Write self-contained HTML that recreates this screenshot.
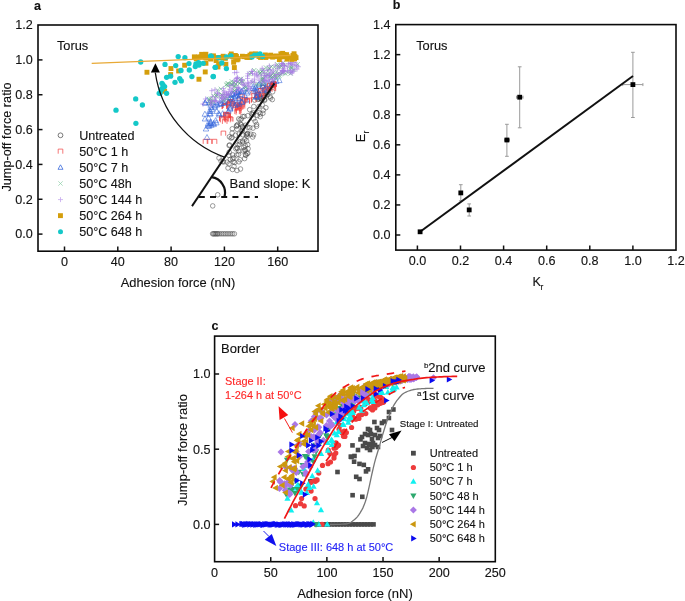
<!DOCTYPE html><html><head><meta charset="utf-8"><style>html,body{margin:0;padding:0;background:#fff;}svg{display:block;will-change:transform;}text{font-family:"Liberation Sans", sans-serif;stroke:currentColor;stroke-width:0.12px;}</style></head><body>
<svg width="685" height="601" viewBox="0 0 685 601" font-family='"Liberation Sans", sans-serif'>
<rect width="685" height="601" fill="#fff"/>
<rect x="38" y="25" width="280" height="226.2" fill="none" stroke="#0a0a0a" stroke-width="1.6"/>
<line x1="38.00" y1="234.10" x2="42.50" y2="234.10" stroke="#111" stroke-width="1.5" />
<text x="32.8" y="238.4" font-size="12.6" text-anchor="end" fill="#111" color="#111" font-weight="normal" >0.0</text>
<line x1="38.00" y1="199.26" x2="42.50" y2="199.26" stroke="#111" stroke-width="1.5" />
<text x="32.8" y="203.6" font-size="12.6" text-anchor="end" fill="#111" color="#111" font-weight="normal" >0.2</text>
<line x1="38.00" y1="164.42" x2="42.50" y2="164.42" stroke="#111" stroke-width="1.5" />
<text x="32.8" y="168.7" font-size="12.6" text-anchor="end" fill="#111" color="#111" font-weight="normal" >0.4</text>
<line x1="38.00" y1="129.58" x2="42.50" y2="129.58" stroke="#111" stroke-width="1.5" />
<text x="32.8" y="133.9" font-size="12.6" text-anchor="end" fill="#111" color="#111" font-weight="normal" >0.6</text>
<line x1="38.00" y1="94.74" x2="42.50" y2="94.74" stroke="#111" stroke-width="1.5" />
<text x="32.8" y="99.0" font-size="12.6" text-anchor="end" fill="#111" color="#111" font-weight="normal" >0.8</text>
<line x1="38.00" y1="59.90" x2="42.50" y2="59.90" stroke="#111" stroke-width="1.5" />
<text x="32.8" y="64.2" font-size="12.6" text-anchor="end" fill="#111" color="#111" font-weight="normal" >1.0</text>
<text x="32.8" y="29.4" font-size="12.6" text-anchor="end" fill="#111" color="#111" font-weight="normal" >1.2</text>
<line x1="64.50" y1="251.00" x2="64.50" y2="246.50" stroke="#111" stroke-width="1.5" />
<text x="64.5" y="266.3" font-size="12.6" text-anchor="middle" fill="#111" color="#111" font-weight="normal" >0</text>
<line x1="117.80" y1="251.00" x2="117.80" y2="246.50" stroke="#111" stroke-width="1.5" />
<text x="117.8" y="266.3" font-size="12.6" text-anchor="middle" fill="#111" color="#111" font-weight="normal" >40</text>
<line x1="171.10" y1="251.00" x2="171.10" y2="246.50" stroke="#111" stroke-width="1.5" />
<text x="171.1" y="266.3" font-size="12.6" text-anchor="middle" fill="#111" color="#111" font-weight="normal" >80</text>
<line x1="224.40" y1="251.00" x2="224.40" y2="246.50" stroke="#111" stroke-width="1.5" />
<text x="224.4" y="266.3" font-size="12.6" text-anchor="middle" fill="#111" color="#111" font-weight="normal" >120</text>
<line x1="277.70" y1="251.00" x2="277.70" y2="246.50" stroke="#111" stroke-width="1.5" />
<text x="277.7" y="266.3" font-size="12.6" text-anchor="middle" fill="#111" color="#111" font-weight="normal" >160</text>
<text x="178.0" y="286.8" font-size="12.9" text-anchor="middle" fill="#111" color="#111" font-weight="normal" >Adhesion force (nN)</text>
<text transform="translate(10.9,137) rotate(-90)" font-size="12.7" text-anchor="middle" fill="#111" color="#111">Jump-off force ratio</text>
<text x="37.5" y="9.5" font-size="12.5" text-anchor="middle" fill="#111" color="#111" font-weight="bold" >a</text>
<text x="56.9" y="49.6" font-size="12.8" text-anchor="start" fill="#111" color="#111" font-weight="normal" >Torus</text>
<g>
<circle cx="264.7" cy="100.3" r="2.3" fill="none" stroke="#4a4a4a" stroke-width="0.55"/>
<circle cx="238.5" cy="154.4" r="2.3" fill="none" stroke="#4a4a4a" stroke-width="0.55"/>
<circle cx="249.8" cy="127.7" r="2.3" fill="none" stroke="#4a4a4a" stroke-width="0.55"/>
<circle cx="256.6" cy="124.4" r="2.3" fill="none" stroke="#4a4a4a" stroke-width="0.55"/>
<circle cx="260.1" cy="98.3" r="2.3" fill="none" stroke="#4a4a4a" stroke-width="0.55"/>
<circle cx="267.7" cy="94.4" r="2.3" fill="none" stroke="#4a4a4a" stroke-width="0.55"/>
<circle cx="236.7" cy="155.0" r="2.3" fill="none" stroke="#4a4a4a" stroke-width="0.55"/>
<circle cx="241.9" cy="131.4" r="2.3" fill="none" stroke="#4a4a4a" stroke-width="0.55"/>
<circle cx="258.9" cy="106.6" r="2.3" fill="none" stroke="#4a4a4a" stroke-width="0.55"/>
<circle cx="229.2" cy="152.1" r="2.3" fill="none" stroke="#4a4a4a" stroke-width="0.55"/>
<circle cx="232.6" cy="159.0" r="2.3" fill="none" stroke="#4a4a4a" stroke-width="0.55"/>
<circle cx="253.3" cy="112.9" r="2.3" fill="none" stroke="#4a4a4a" stroke-width="0.55"/>
<circle cx="247.7" cy="127.2" r="2.3" fill="none" stroke="#4a4a4a" stroke-width="0.55"/>
<circle cx="239.7" cy="144.2" r="2.3" fill="none" stroke="#4a4a4a" stroke-width="0.55"/>
<circle cx="245.6" cy="125.2" r="2.3" fill="none" stroke="#4a4a4a" stroke-width="0.55"/>
<circle cx="241.5" cy="124.8" r="2.3" fill="none" stroke="#4a4a4a" stroke-width="0.55"/>
<circle cx="230.3" cy="159.4" r="2.3" fill="none" stroke="#4a4a4a" stroke-width="0.55"/>
<circle cx="266.6" cy="92.9" r="2.3" fill="none" stroke="#4a4a4a" stroke-width="0.55"/>
<circle cx="245.0" cy="149.6" r="2.3" fill="none" stroke="#4a4a4a" stroke-width="0.55"/>
<circle cx="261.9" cy="100.4" r="2.3" fill="none" stroke="#4a4a4a" stroke-width="0.55"/>
<circle cx="245.5" cy="154.8" r="2.3" fill="none" stroke="#4a4a4a" stroke-width="0.55"/>
<circle cx="244.6" cy="158.6" r="2.3" fill="none" stroke="#4a4a4a" stroke-width="0.55"/>
<circle cx="235.8" cy="148.8" r="2.3" fill="none" stroke="#4a4a4a" stroke-width="0.55"/>
<circle cx="233.7" cy="157.9" r="2.3" fill="none" stroke="#4a4a4a" stroke-width="0.55"/>
<circle cx="268.2" cy="90.9" r="2.3" fill="none" stroke="#4a4a4a" stroke-width="0.55"/>
<circle cx="255.2" cy="121.5" r="2.3" fill="none" stroke="#4a4a4a" stroke-width="0.55"/>
<circle cx="238.9" cy="161.8" r="2.3" fill="none" stroke="#4a4a4a" stroke-width="0.55"/>
<circle cx="247.6" cy="133.9" r="2.3" fill="none" stroke="#4a4a4a" stroke-width="0.55"/>
<circle cx="256.9" cy="96.9" r="2.3" fill="none" stroke="#4a4a4a" stroke-width="0.55"/>
<circle cx="272.4" cy="85.4" r="2.3" fill="none" stroke="#4a4a4a" stroke-width="0.55"/>
<circle cx="232.3" cy="128.8" r="2.3" fill="none" stroke="#4a4a4a" stroke-width="0.55"/>
<circle cx="231.1" cy="138.1" r="2.3" fill="none" stroke="#4a4a4a" stroke-width="0.55"/>
<circle cx="269.0" cy="85.7" r="2.3" fill="none" stroke="#4a4a4a" stroke-width="0.55"/>
<circle cx="265.9" cy="107.7" r="2.3" fill="none" stroke="#4a4a4a" stroke-width="0.55"/>
<circle cx="229.1" cy="145.5" r="2.3" fill="none" stroke="#4a4a4a" stroke-width="0.55"/>
<circle cx="270.5" cy="98.0" r="2.3" fill="none" stroke="#4a4a4a" stroke-width="0.55"/>
<circle cx="253.6" cy="134.8" r="2.3" fill="none" stroke="#4a4a4a" stroke-width="0.55"/>
<circle cx="240.0" cy="141.8" r="2.3" fill="none" stroke="#4a4a4a" stroke-width="0.55"/>
<circle cx="257.8" cy="99.4" r="2.3" fill="none" stroke="#4a4a4a" stroke-width="0.55"/>
<circle cx="247.1" cy="136.4" r="2.3" fill="none" stroke="#4a4a4a" stroke-width="0.55"/>
<circle cx="229.4" cy="136.8" r="2.3" fill="none" stroke="#4a4a4a" stroke-width="0.55"/>
<circle cx="242.4" cy="126.6" r="2.3" fill="none" stroke="#4a4a4a" stroke-width="0.55"/>
<circle cx="240.1" cy="119.7" r="2.3" fill="none" stroke="#4a4a4a" stroke-width="0.55"/>
<circle cx="253.8" cy="106.5" r="2.3" fill="none" stroke="#4a4a4a" stroke-width="0.55"/>
<circle cx="238.9" cy="151.0" r="2.3" fill="none" stroke="#4a4a4a" stroke-width="0.55"/>
<circle cx="245.9" cy="155.3" r="2.3" fill="none" stroke="#4a4a4a" stroke-width="0.55"/>
<circle cx="242.6" cy="140.9" r="2.3" fill="none" stroke="#4a4a4a" stroke-width="0.55"/>
<circle cx="259.1" cy="112.5" r="2.3" fill="none" stroke="#4a4a4a" stroke-width="0.55"/>
<circle cx="263.7" cy="97.4" r="2.3" fill="none" stroke="#4a4a4a" stroke-width="0.55"/>
<circle cx="236.6" cy="126.3" r="2.3" fill="none" stroke="#4a4a4a" stroke-width="0.55"/>
<circle cx="257.3" cy="96.9" r="2.3" fill="none" stroke="#4a4a4a" stroke-width="0.55"/>
<circle cx="242.8" cy="116.6" r="2.3" fill="none" stroke="#4a4a4a" stroke-width="0.55"/>
<circle cx="251.8" cy="113.9" r="2.3" fill="none" stroke="#4a4a4a" stroke-width="0.55"/>
<circle cx="243.0" cy="150.9" r="2.3" fill="none" stroke="#4a4a4a" stroke-width="0.55"/>
<circle cx="229.6" cy="145.0" r="2.3" fill="none" stroke="#4a4a4a" stroke-width="0.55"/>
<circle cx="272.6" cy="91.8" r="2.3" fill="none" stroke="#4a4a4a" stroke-width="0.55"/>
<circle cx="253.6" cy="118.8" r="2.3" fill="none" stroke="#4a4a4a" stroke-width="0.55"/>
<circle cx="263.3" cy="97.4" r="2.3" fill="none" stroke="#4a4a4a" stroke-width="0.55"/>
<circle cx="272.3" cy="99.6" r="2.3" fill="none" stroke="#4a4a4a" stroke-width="0.55"/>
<circle cx="232.1" cy="137.4" r="2.3" fill="none" stroke="#4a4a4a" stroke-width="0.55"/>
<circle cx="236.6" cy="125.5" r="2.3" fill="none" stroke="#4a4a4a" stroke-width="0.55"/>
<circle cx="237.6" cy="124.6" r="2.3" fill="none" stroke="#4a4a4a" stroke-width="0.55"/>
<circle cx="256.6" cy="126.3" r="2.3" fill="none" stroke="#4a4a4a" stroke-width="0.55"/>
<circle cx="243.8" cy="147.5" r="2.3" fill="none" stroke="#4a4a4a" stroke-width="0.55"/>
<circle cx="270.0" cy="96.5" r="2.3" fill="none" stroke="#4a4a4a" stroke-width="0.55"/>
<circle cx="234.7" cy="162.5" r="2.3" fill="none" stroke="#4a4a4a" stroke-width="0.55"/>
<circle cx="263.6" cy="95.3" r="2.3" fill="none" stroke="#4a4a4a" stroke-width="0.55"/>
<circle cx="240.1" cy="159.7" r="2.3" fill="none" stroke="#4a4a4a" stroke-width="0.55"/>
<circle cx="227.0" cy="162.1" r="2.3" fill="none" stroke="#4a4a4a" stroke-width="0.55"/>
<circle cx="237.5" cy="148.5" r="2.3" fill="none" stroke="#4a4a4a" stroke-width="0.55"/>
<circle cx="244.8" cy="139.3" r="2.3" fill="none" stroke="#4a4a4a" stroke-width="0.55"/>
<circle cx="258.8" cy="99.0" r="2.3" fill="none" stroke="#4a4a4a" stroke-width="0.55"/>
<circle cx="222.8" cy="161.5" r="2.3" fill="none" stroke="#4a4a4a" stroke-width="0.55"/>
<circle cx="247.8" cy="115.7" r="2.3" fill="none" stroke="#4a4a4a" stroke-width="0.55"/>
<circle cx="253.0" cy="128.1" r="2.3" fill="none" stroke="#4a4a4a" stroke-width="0.55"/>
<circle cx="273.3" cy="84.8" r="2.3" fill="none" stroke="#4a4a4a" stroke-width="0.55"/>
<circle cx="246.9" cy="134.2" r="2.3" fill="none" stroke="#4a4a4a" stroke-width="0.55"/>
<circle cx="254.6" cy="100.1" r="2.3" fill="none" stroke="#4a4a4a" stroke-width="0.55"/>
<circle cx="232.8" cy="154.9" r="2.3" fill="none" stroke="#4a4a4a" stroke-width="0.55"/>
<circle cx="247.6" cy="133.3" r="2.3" fill="none" stroke="#4a4a4a" stroke-width="0.55"/>
<circle cx="257.3" cy="115.4" r="2.3" fill="none" stroke="#4a4a4a" stroke-width="0.55"/>
<circle cx="252.7" cy="114.6" r="2.3" fill="none" stroke="#4a4a4a" stroke-width="0.55"/>
<circle cx="262.9" cy="113.3" r="2.3" fill="none" stroke="#4a4a4a" stroke-width="0.55"/>
<circle cx="247.7" cy="144.6" r="2.3" fill="none" stroke="#4a4a4a" stroke-width="0.55"/>
<circle cx="249.7" cy="109.7" r="2.3" fill="none" stroke="#4a4a4a" stroke-width="0.55"/>
<circle cx="246.6" cy="141.0" r="2.3" fill="none" stroke="#4a4a4a" stroke-width="0.55"/>
<circle cx="252.7" cy="137.0" r="2.3" fill="none" stroke="#4a4a4a" stroke-width="0.55"/>
<circle cx="241.4" cy="118.9" r="2.3" fill="none" stroke="#4a4a4a" stroke-width="0.55"/>
<circle cx="242.4" cy="130.0" r="2.3" fill="none" stroke="#4a4a4a" stroke-width="0.55"/>
<circle cx="245.1" cy="150.6" r="2.3" fill="none" stroke="#4a4a4a" stroke-width="0.55"/>
<circle cx="242.5" cy="127.1" r="2.3" fill="none" stroke="#4a4a4a" stroke-width="0.55"/>
<circle cx="235.5" cy="135.2" r="2.3" fill="none" stroke="#4a4a4a" stroke-width="0.55"/>
<circle cx="242.7" cy="134.7" r="2.3" fill="none" stroke="#4a4a4a" stroke-width="0.55"/>
<circle cx="250.9" cy="134.2" r="2.3" fill="none" stroke="#4a4a4a" stroke-width="0.55"/>
<circle cx="233.2" cy="161.8" r="2.3" fill="none" stroke="#4a4a4a" stroke-width="0.55"/>
<circle cx="245.3" cy="145.9" r="2.3" fill="none" stroke="#4a4a4a" stroke-width="0.55"/>
<circle cx="261.0" cy="97.8" r="2.3" fill="none" stroke="#4a4a4a" stroke-width="0.55"/>
<circle cx="263.3" cy="110.2" r="2.3" fill="none" stroke="#4a4a4a" stroke-width="0.55"/>
<circle cx="246.3" cy="134.9" r="2.3" fill="none" stroke="#4a4a4a" stroke-width="0.55"/>
<circle cx="236.8" cy="147.7" r="2.3" fill="none" stroke="#4a4a4a" stroke-width="0.55"/>
<circle cx="232.1" cy="133.0" r="2.3" fill="none" stroke="#4a4a4a" stroke-width="0.55"/>
<circle cx="244.3" cy="116.4" r="2.3" fill="none" stroke="#4a4a4a" stroke-width="0.55"/>
<circle cx="266.9" cy="94.9" r="2.3" fill="none" stroke="#4a4a4a" stroke-width="0.55"/>
<circle cx="264.5" cy="99.4" r="2.3" fill="none" stroke="#4a4a4a" stroke-width="0.55"/>
<circle cx="240.5" cy="124.3" r="2.3" fill="none" stroke="#4a4a4a" stroke-width="0.55"/>
<circle cx="260.2" cy="116.7" r="2.3" fill="none" stroke="#4a4a4a" stroke-width="0.55"/>
<circle cx="238.7" cy="118.9" r="2.3" fill="none" stroke="#4a4a4a" stroke-width="0.55"/>
<circle cx="266.8" cy="91.3" r="2.3" fill="none" stroke="#4a4a4a" stroke-width="0.55"/>
<circle cx="239.2" cy="134.0" r="2.3" fill="none" stroke="#4a4a4a" stroke-width="0.55"/>
<circle cx="247.0" cy="153.5" r="2.3" fill="none" stroke="#4a4a4a" stroke-width="0.55"/>
<circle cx="238.1" cy="144.8" r="2.3" fill="none" stroke="#4a4a4a" stroke-width="0.55"/>
<circle cx="242.8" cy="142.0" r="2.3" fill="none" stroke="#4a4a4a" stroke-width="0.55"/>
<circle cx="260.4" cy="113.9" r="2.3" fill="none" stroke="#4a4a4a" stroke-width="0.55"/>
<circle cx="223.5" cy="161.9" r="2.3" fill="none" stroke="#4a4a4a" stroke-width="0.55"/>
<circle cx="261.2" cy="98.6" r="2.3" fill="none" stroke="#4a4a4a" stroke-width="0.55"/>
<circle cx="262.2" cy="104.8" r="2.3" fill="none" stroke="#4a4a4a" stroke-width="0.55"/>
<circle cx="247.8" cy="153.3" r="2.3" fill="none" stroke="#4a4a4a" stroke-width="0.55"/>
<circle cx="237.0" cy="129.3" r="2.3" fill="none" stroke="#4a4a4a" stroke-width="0.55"/>
<circle cx="228.9" cy="155.4" r="2.3" fill="none" stroke="#4a4a4a" stroke-width="0.55"/>
<circle cx="248.1" cy="148.7" r="2.3" fill="none" stroke="#4a4a4a" stroke-width="0.55"/>
<circle cx="217.7" cy="194.8" r="2.3" fill="none" stroke="#4a4a4a" stroke-width="0.55"/>
<circle cx="212.7" cy="205.9" r="2.3" fill="none" stroke="#4a4a4a" stroke-width="0.55"/>
<circle cx="228.0" cy="168.0" r="2.3" fill="none" stroke="#4a4a4a" stroke-width="0.55"/>
<circle cx="232.5" cy="169.5" r="2.3" fill="none" stroke="#4a4a4a" stroke-width="0.55"/>
<circle cx="237.0" cy="170.5" r="2.3" fill="none" stroke="#4a4a4a" stroke-width="0.55"/>
<circle cx="240.5" cy="169.0" r="2.3" fill="none" stroke="#4a4a4a" stroke-width="0.55"/>
<circle cx="234.0" cy="166.5" r="2.3" fill="none" stroke="#4a4a4a" stroke-width="0.55"/>
<circle cx="229.0" cy="164.0" r="2.3" fill="none" stroke="#4a4a4a" stroke-width="0.55"/>
<circle cx="221.0" cy="161.0" r="2.3" fill="none" stroke="#4a4a4a" stroke-width="0.55"/>
<circle cx="219.0" cy="158.0" r="2.3" fill="none" stroke="#4a4a4a" stroke-width="0.55"/>
<circle cx="212.6" cy="233.8" r="2.3" fill="none" stroke="#4a4a4a" stroke-width="0.55"/>
<circle cx="214.4" cy="233.8" r="2.3" fill="none" stroke="#4a4a4a" stroke-width="0.55"/>
<circle cx="216.2" cy="233.8" r="2.3" fill="none" stroke="#4a4a4a" stroke-width="0.55"/>
<circle cx="218.1" cy="233.8" r="2.3" fill="none" stroke="#4a4a4a" stroke-width="0.55"/>
<circle cx="219.9" cy="233.8" r="2.3" fill="none" stroke="#4a4a4a" stroke-width="0.55"/>
<circle cx="221.7" cy="233.8" r="2.3" fill="none" stroke="#4a4a4a" stroke-width="0.55"/>
<circle cx="223.5" cy="233.8" r="2.3" fill="none" stroke="#4a4a4a" stroke-width="0.55"/>
<circle cx="225.3" cy="233.8" r="2.3" fill="none" stroke="#4a4a4a" stroke-width="0.55"/>
<circle cx="227.1" cy="233.8" r="2.3" fill="none" stroke="#4a4a4a" stroke-width="0.55"/>
<circle cx="228.9" cy="233.8" r="2.3" fill="none" stroke="#4a4a4a" stroke-width="0.55"/>
<circle cx="230.8" cy="233.8" r="2.3" fill="none" stroke="#4a4a4a" stroke-width="0.55"/>
<circle cx="232.6" cy="233.8" r="2.3" fill="none" stroke="#4a4a4a" stroke-width="0.55"/>
<circle cx="234.4" cy="233.8" r="2.3" fill="none" stroke="#4a4a4a" stroke-width="0.55"/>
<circle cx="213.5" cy="233.8" r="2.3" fill="none" stroke="#4a4a4a" stroke-width="0.55"/>
<circle cx="215.5" cy="233.8" r="2.3" fill="none" stroke="#4a4a4a" stroke-width="0.55"/>
<circle cx="217.5" cy="233.8" r="2.3" fill="none" stroke="#4a4a4a" stroke-width="0.55"/>
</g>
<g>
<path d="M222.4 109.1V104.5H227.0V109.1" stroke="#F03A3A" stroke-width="0.7" fill="none"/>
<path d="M223.3 108.0V103.4H227.9V108.0" stroke="#F03A3A" stroke-width="0.7" fill="none"/>
<path d="M254.9 98.2V93.6H259.5V98.2" stroke="#F03A3A" stroke-width="0.7" fill="none"/>
<path d="M228.0 110.1V105.5H232.6V110.1" stroke="#F03A3A" stroke-width="0.7" fill="none"/>
<path d="M264.4 90.7V86.1H269.0V90.7" stroke="#F03A3A" stroke-width="0.7" fill="none"/>
<path d="M239.5 107.0V102.4H244.1V107.0" stroke="#F03A3A" stroke-width="0.7" fill="none"/>
<path d="M224.7 118.0V113.4H229.3V118.0" stroke="#F03A3A" stroke-width="0.7" fill="none"/>
<path d="M270.4 89.4V84.8H275.0V89.4" stroke="#F03A3A" stroke-width="0.7" fill="none"/>
<path d="M229.5 104.1V99.5H234.1V104.1" stroke="#F03A3A" stroke-width="0.7" fill="none"/>
<path d="M270.3 88.1V83.5H274.9V88.1" stroke="#F03A3A" stroke-width="0.7" fill="none"/>
<path d="M228.3 104.8V100.2H232.9V104.8" stroke="#F03A3A" stroke-width="0.7" fill="none"/>
<path d="M260.7 90.0V85.4H265.3V90.0" stroke="#F03A3A" stroke-width="0.7" fill="none"/>
<path d="M267.5 91.8V87.2H272.1V91.8" stroke="#F03A3A" stroke-width="0.7" fill="none"/>
<path d="M238.7 108.8V104.2H243.3V108.8" stroke="#F03A3A" stroke-width="0.7" fill="none"/>
<path d="M236.1 114.7V110.1H240.7V114.7" stroke="#F03A3A" stroke-width="0.7" fill="none"/>
<path d="M271.1 91.1V86.5H275.7V91.1" stroke="#F03A3A" stroke-width="0.7" fill="none"/>
<path d="M269.4 89.4V84.8H274.0V89.4" stroke="#F03A3A" stroke-width="0.7" fill="none"/>
<path d="M271.2 86.6V82.0H275.8V86.6" stroke="#F03A3A" stroke-width="0.7" fill="none"/>
<path d="M222.5 108.0V103.4H227.1V108.0" stroke="#F03A3A" stroke-width="0.7" fill="none"/>
<path d="M245.1 103.2V98.6H249.7V103.2" stroke="#F03A3A" stroke-width="0.7" fill="none"/>
<path d="M240.3 102.6V98.0H244.9V102.6" stroke="#F03A3A" stroke-width="0.7" fill="none"/>
<path d="M236.8 110.8V106.2H241.4V110.8" stroke="#F03A3A" stroke-width="0.7" fill="none"/>
<path d="M235.3 110.7V106.1H239.9V110.7" stroke="#F03A3A" stroke-width="0.7" fill="none"/>
<path d="M251.1 95.4V90.8H255.7V95.4" stroke="#F03A3A" stroke-width="0.7" fill="none"/>
<path d="M238.2 109.7V105.1H242.8V109.7" stroke="#F03A3A" stroke-width="0.7" fill="none"/>
<path d="M271.9 87.0V82.4H276.5V87.0" stroke="#F03A3A" stroke-width="0.7" fill="none"/>
<path d="M258.0 98.7V94.1H262.6V98.7" stroke="#F03A3A" stroke-width="0.7" fill="none"/>
<path d="M220.4 122.4V117.8H225.0V122.4" stroke="#F03A3A" stroke-width="0.7" fill="none"/>
<path d="M227.4 121.4V116.8H232.0V121.4" stroke="#F03A3A" stroke-width="0.7" fill="none"/>
<path d="M223.5 117.1V112.5H228.1V117.1" stroke="#F03A3A" stroke-width="0.7" fill="none"/>
<path d="M233.3 108.6V104.0H237.9V108.6" stroke="#F03A3A" stroke-width="0.7" fill="none"/>
<path d="M219.5 120.9V116.3H224.1V120.9" stroke="#F03A3A" stroke-width="0.7" fill="none"/>
<path d="M246.9 102.7V98.1H251.5V102.7" stroke="#F03A3A" stroke-width="0.7" fill="none"/>
<path d="M257.8 93.1V88.5H262.4V93.1" stroke="#F03A3A" stroke-width="0.7" fill="none"/>
<path d="M240.1 105.4V100.8H244.7V105.4" stroke="#F03A3A" stroke-width="0.7" fill="none"/>
<path d="M235.3 111.6V107.0H239.9V111.6" stroke="#F03A3A" stroke-width="0.7" fill="none"/>
<path d="M228.4 121.6V117.0H233.0V121.6" stroke="#F03A3A" stroke-width="0.7" fill="none"/>
<path d="M234.8 114.1V109.5H239.4V114.1" stroke="#F03A3A" stroke-width="0.7" fill="none"/>
<path d="M237.4 109.4V104.8H242.0V109.4" stroke="#F03A3A" stroke-width="0.7" fill="none"/>
<path d="M270.5 87.5V82.9H275.1V87.5" stroke="#F03A3A" stroke-width="0.7" fill="none"/>
<path d="M239.9 99.3V94.7H244.5V99.3" stroke="#F03A3A" stroke-width="0.7" fill="none"/>
<path d="M263.9 92.4V87.8H268.5V92.4" stroke="#F03A3A" stroke-width="0.7" fill="none"/>
<path d="M229.9 106.1V101.5H234.5V106.1" stroke="#F03A3A" stroke-width="0.7" fill="none"/>
<path d="M225.9 117.3V112.7H230.5V117.3" stroke="#F03A3A" stroke-width="0.7" fill="none"/>
<path d="M270.4 91.0V86.4H275.0V91.0" stroke="#F03A3A" stroke-width="0.7" fill="none"/>
<path d="M251.4 102.2V97.6H256.0V102.2" stroke="#F03A3A" stroke-width="0.7" fill="none"/>
<path d="M255.9 96.9V92.3H260.5V96.9" stroke="#F03A3A" stroke-width="0.7" fill="none"/>
<path d="M241.1 103.8V99.2H245.7V103.8" stroke="#F03A3A" stroke-width="0.7" fill="none"/>
<path d="M258.9 97.7V93.1H263.5V97.7" stroke="#F03A3A" stroke-width="0.7" fill="none"/>
<path d="M251.9 98.0V93.4H256.5V98.0" stroke="#F03A3A" stroke-width="0.7" fill="none"/>
<path d="M224.8 117.7V113.1H229.4V117.7" stroke="#F03A3A" stroke-width="0.7" fill="none"/>
<path d="M226.4 107.0V102.4H231.0V107.0" stroke="#F03A3A" stroke-width="0.7" fill="none"/>
<path d="M259.7 95.6V91.0H264.3V95.6" stroke="#F03A3A" stroke-width="0.7" fill="none"/>
<path d="M242.4 101.9V97.3H247.0V101.9" stroke="#F03A3A" stroke-width="0.7" fill="none"/>
<path d="M262.3 92.3V87.7H266.9V92.3" stroke="#F03A3A" stroke-width="0.7" fill="none"/>
<path d="M244.9 103.9V99.3H249.5V103.9" stroke="#F03A3A" stroke-width="0.7" fill="none"/>
<path d="M236.4 113.1V108.5H241.0V113.1" stroke="#F03A3A" stroke-width="0.7" fill="none"/>
<path d="M271.8 86.5V81.9H276.4V86.5" stroke="#F03A3A" stroke-width="0.7" fill="none"/>
<path d="M235.8 109.4V104.8H240.4V109.4" stroke="#F03A3A" stroke-width="0.7" fill="none"/>
<path d="M237.1 108.1V103.5H241.7V108.1" stroke="#F03A3A" stroke-width="0.7" fill="none"/>
<path d="M227.0 105.8V101.2H231.6V105.8" stroke="#F03A3A" stroke-width="0.7" fill="none"/>
<path d="M235.3 107.3V102.7H239.9V107.3" stroke="#F03A3A" stroke-width="0.7" fill="none"/>
<path d="M222.0 109.0V104.4H226.6V109.0" stroke="#F03A3A" stroke-width="0.7" fill="none"/>
<path d="M267.4 87.6V83.0H272.0V87.6" stroke="#F03A3A" stroke-width="0.7" fill="none"/>
<path d="M258.8 93.2V88.6H263.4V93.2" stroke="#F03A3A" stroke-width="0.7" fill="none"/>
<path d="M270.9 85.8V81.2H275.5V85.8" stroke="#F03A3A" stroke-width="0.7" fill="none"/>
<path d="M255.4 96.9V92.3H260.0V96.9" stroke="#F03A3A" stroke-width="0.7" fill="none"/>
<path d="M240.2 108.6V104.0H244.8V108.6" stroke="#F03A3A" stroke-width="0.7" fill="none"/>
<path d="M237.6 101.6V97.0H242.2V101.6" stroke="#F03A3A" stroke-width="0.7" fill="none"/>
<path d="M225.8 118.5V113.9H230.4V118.5" stroke="#F03A3A" stroke-width="0.7" fill="none"/>
<path d="M223.6 116.8V112.2H228.2V116.8" stroke="#F03A3A" stroke-width="0.7" fill="none"/>
<path d="M222.4 123.9V119.3H227.0V123.9" stroke="#F03A3A" stroke-width="0.7" fill="none"/>
<path d="M225.9 120.7V116.1H230.5V120.7" stroke="#F03A3A" stroke-width="0.7" fill="none"/>
<path d="M227.7 104.4V99.8H232.3V104.4" stroke="#F03A3A" stroke-width="0.7" fill="none"/>
<path d="M233.4 107.5V102.9H238.0V107.5" stroke="#F03A3A" stroke-width="0.7" fill="none"/>
<path d="M203.2 143.9V139.3H207.8V143.9" stroke="#F03A3A" stroke-width="0.7" fill="none"/>
<path d="M207.2 143.9V139.3H211.8V143.9" stroke="#F03A3A" stroke-width="0.7" fill="none"/>
<path d="M212.2 143.9V139.3H216.8V143.9" stroke="#F03A3A" stroke-width="0.7" fill="none"/>
<path d="M221.1 135.7V131.1H225.7V135.7" stroke="#F03A3A" stroke-width="0.7" fill="none"/>
<path d="M219.7 121.3V116.7H224.3V121.3" stroke="#F03A3A" stroke-width="0.7" fill="none"/>
<path d="M225.7 122.3V117.7H230.3V122.3" stroke="#F03A3A" stroke-width="0.7" fill="none"/>
</g><g>
<polygon points="210.4,111.0 213.2,116.0 207.6,116.0" fill="none" stroke="#2F62DA" stroke-width="0.55"/>
<polygon points="259.3,81.1 262.1,86.1 256.5,86.1" fill="none" stroke="#2F62DA" stroke-width="0.55"/>
<polygon points="231.7,91.0 234.5,96.0 228.9,96.0" fill="none" stroke="#2F62DA" stroke-width="0.55"/>
<polygon points="213.6,121.6 216.4,126.6 210.8,126.6" fill="none" stroke="#2F62DA" stroke-width="0.55"/>
<polygon points="272.2,80.4 275.0,85.4 269.4,85.4" fill="none" stroke="#2F62DA" stroke-width="0.55"/>
<polygon points="235.2,102.4 238.0,107.4 232.4,107.4" fill="none" stroke="#2F62DA" stroke-width="0.55"/>
<polygon points="260.0,92.0 262.8,97.1 257.2,97.1" fill="none" stroke="#2F62DA" stroke-width="0.55"/>
<polygon points="209.7,110.8 212.5,115.8 206.9,115.8" fill="none" stroke="#2F62DA" stroke-width="0.55"/>
<polygon points="262.9,83.1 265.7,88.2 260.1,88.2" fill="none" stroke="#2F62DA" stroke-width="0.55"/>
<polygon points="239.0,101.2 241.8,106.2 236.2,106.2" fill="none" stroke="#2F62DA" stroke-width="0.55"/>
<polygon points="256.2,94.4 259.0,99.4 253.4,99.4" fill="none" stroke="#2F62DA" stroke-width="0.55"/>
<polygon points="235.4,93.0 238.2,98.0 232.6,98.0" fill="none" stroke="#2F62DA" stroke-width="0.55"/>
<polygon points="241.5,88.6 244.3,93.6 238.7,93.6" fill="none" stroke="#2F62DA" stroke-width="0.55"/>
<polygon points="237.5,89.2 240.3,94.3 234.7,94.3" fill="none" stroke="#2F62DA" stroke-width="0.55"/>
<polygon points="230.1,106.2 232.9,111.2 227.3,111.2" fill="none" stroke="#2F62DA" stroke-width="0.55"/>
<polygon points="246.2,97.0 249.0,102.1 243.4,102.1" fill="none" stroke="#2F62DA" stroke-width="0.55"/>
<polygon points="224.1,100.4 226.9,105.5 221.3,105.5" fill="none" stroke="#2F62DA" stroke-width="0.55"/>
<polygon points="255.8,84.4 258.6,89.5 253.0,89.5" fill="none" stroke="#2F62DA" stroke-width="0.55"/>
<polygon points="208.6,115.1 211.4,120.1 205.8,120.1" fill="none" stroke="#2F62DA" stroke-width="0.55"/>
<polygon points="228.4,108.2 231.2,113.2 225.6,113.2" fill="none" stroke="#2F62DA" stroke-width="0.55"/>
<polygon points="210.4,108.4 213.2,113.5 207.6,113.5" fill="none" stroke="#2F62DA" stroke-width="0.55"/>
<polygon points="210.7,102.2 213.5,107.2 207.9,107.2" fill="none" stroke="#2F62DA" stroke-width="0.55"/>
<polygon points="271.5,76.9 274.3,82.0 268.7,82.0" fill="none" stroke="#2F62DA" stroke-width="0.55"/>
<polygon points="262.7,87.6 265.5,92.6 259.9,92.6" fill="none" stroke="#2F62DA" stroke-width="0.55"/>
<polygon points="257.0,93.7 259.8,98.7 254.2,98.7" fill="none" stroke="#2F62DA" stroke-width="0.55"/>
<polygon points="228.5,99.4 231.3,104.4 225.7,104.4" fill="none" stroke="#2F62DA" stroke-width="0.55"/>
<polygon points="230.2,105.6 233.0,110.6 227.4,110.6" fill="none" stroke="#2F62DA" stroke-width="0.55"/>
<polygon points="205.3,99.9 208.1,105.0 202.5,105.0" fill="none" stroke="#2F62DA" stroke-width="0.55"/>
<polygon points="209.6,108.1 212.4,113.2 206.8,113.2" fill="none" stroke="#2F62DA" stroke-width="0.55"/>
<polygon points="212.0,106.2 214.8,111.3 209.2,111.3" fill="none" stroke="#2F62DA" stroke-width="0.55"/>
<polygon points="213.7,120.3 216.5,125.4 210.9,125.4" fill="none" stroke="#2F62DA" stroke-width="0.55"/>
<polygon points="214.7,104.1 217.5,109.2 211.9,109.2" fill="none" stroke="#2F62DA" stroke-width="0.55"/>
<polygon points="236.9,89.0 239.7,94.0 234.1,94.0" fill="none" stroke="#2F62DA" stroke-width="0.55"/>
<polygon points="253.0,85.5 255.8,90.5 250.2,90.5" fill="none" stroke="#2F62DA" stroke-width="0.55"/>
<polygon points="264.6,86.1 267.4,91.2 261.8,91.2" fill="none" stroke="#2F62DA" stroke-width="0.55"/>
<polygon points="253.2,83.7 256.0,88.7 250.4,88.7" fill="none" stroke="#2F62DA" stroke-width="0.55"/>
<polygon points="215.8,99.5 218.6,104.6 213.0,104.6" fill="none" stroke="#2F62DA" stroke-width="0.55"/>
<polygon points="232.0,95.9 234.8,100.9 229.2,100.9" fill="none" stroke="#2F62DA" stroke-width="0.55"/>
<polygon points="220.6,100.4 223.4,105.4 217.8,105.4" fill="none" stroke="#2F62DA" stroke-width="0.55"/>
<polygon points="276.2,78.4 279.0,83.5 273.4,83.5" fill="none" stroke="#2F62DA" stroke-width="0.55"/>
<polygon points="237.5,92.4 240.3,97.4 234.7,97.4" fill="none" stroke="#2F62DA" stroke-width="0.55"/>
<polygon points="230.5,95.1 233.3,100.2 227.7,100.2" fill="none" stroke="#2F62DA" stroke-width="0.55"/>
<polygon points="215.1,102.8 217.9,107.8 212.3,107.8" fill="none" stroke="#2F62DA" stroke-width="0.55"/>
<polygon points="204.9,111.2 207.7,116.2 202.1,116.2" fill="none" stroke="#2F62DA" stroke-width="0.55"/>
<polygon points="209.3,99.7 212.1,104.7 206.5,104.7" fill="none" stroke="#2F62DA" stroke-width="0.55"/>
<polygon points="228.0,94.3 230.8,99.4 225.2,99.4" fill="none" stroke="#2F62DA" stroke-width="0.55"/>
<polygon points="237.5,89.2 240.3,94.3 234.7,94.3" fill="none" stroke="#2F62DA" stroke-width="0.55"/>
<polygon points="230.5,92.4 233.3,97.5 227.7,97.5" fill="none" stroke="#2F62DA" stroke-width="0.55"/>
<polygon points="279.3,77.6 282.1,82.6 276.5,82.6" fill="none" stroke="#2F62DA" stroke-width="0.55"/>
<polygon points="235.5,90.7 238.3,95.7 232.7,95.7" fill="none" stroke="#2F62DA" stroke-width="0.55"/>
<polygon points="245.2,85.5 248.0,90.5 242.4,90.5" fill="none" stroke="#2F62DA" stroke-width="0.55"/>
<polygon points="239.0,87.7 241.8,92.7 236.2,92.7" fill="none" stroke="#2F62DA" stroke-width="0.55"/>
<polygon points="240.6,91.4 243.4,96.5 237.8,96.5" fill="none" stroke="#2F62DA" stroke-width="0.55"/>
<polygon points="233.2,98.1 236.0,103.1 230.4,103.1" fill="none" stroke="#2F62DA" stroke-width="0.55"/>
<polygon points="255.5,88.0 258.3,93.1 252.7,93.1" fill="none" stroke="#2F62DA" stroke-width="0.55"/>
<polygon points="232.8,91.2 235.6,96.2 230.0,96.2" fill="none" stroke="#2F62DA" stroke-width="0.55"/>
<polygon points="238.1,88.9 240.9,93.9 235.3,93.9" fill="none" stroke="#2F62DA" stroke-width="0.55"/>
<polygon points="233.2,91.3 236.0,96.3 230.4,96.3" fill="none" stroke="#2F62DA" stroke-width="0.55"/>
<polygon points="258.8,82.1 261.6,87.2 256.0,87.2" fill="none" stroke="#2F62DA" stroke-width="0.55"/>
<polygon points="257.1,87.2 259.9,92.2 254.3,92.2" fill="none" stroke="#2F62DA" stroke-width="0.55"/>
<polygon points="262.9,80.7 265.7,85.7 260.1,85.7" fill="none" stroke="#2F62DA" stroke-width="0.55"/>
<polygon points="224.4,98.0 227.2,103.0 221.6,103.0" fill="none" stroke="#2F62DA" stroke-width="0.55"/>
<polygon points="217.1,102.0 219.9,107.0 214.3,107.0" fill="none" stroke="#2F62DA" stroke-width="0.55"/>
<polygon points="222.7,110.7 225.5,115.8 219.9,115.8" fill="none" stroke="#2F62DA" stroke-width="0.55"/>
<polygon points="209.2,123.2 212.0,128.2 206.4,128.2" fill="none" stroke="#2F62DA" stroke-width="0.55"/>
<polygon points="247.8,88.1 250.6,93.2 245.0,93.2" fill="none" stroke="#2F62DA" stroke-width="0.55"/>
<polygon points="237.0,100.9 239.8,105.9 234.2,105.9" fill="none" stroke="#2F62DA" stroke-width="0.55"/>
<polygon points="243.4,86.9 246.2,91.9 240.6,91.9" fill="none" stroke="#2F62DA" stroke-width="0.55"/>
<polygon points="206.9,97.5 209.7,102.5 204.1,102.5" fill="none" stroke="#2F62DA" stroke-width="0.55"/>
<polygon points="244.8,92.6 247.6,97.6 242.0,97.6" fill="none" stroke="#2F62DA" stroke-width="0.55"/>
<polygon points="208.1,120.8 210.9,125.9 205.3,125.9" fill="none" stroke="#2F62DA" stroke-width="0.55"/>
<polygon points="235.8,93.4 238.6,98.4 233.0,98.4" fill="none" stroke="#2F62DA" stroke-width="0.55"/>
<polygon points="216.7,108.4 219.5,113.4 213.9,113.4" fill="none" stroke="#2F62DA" stroke-width="0.55"/>
<polygon points="221.4,100.7 224.2,105.8 218.6,105.8" fill="none" stroke="#2F62DA" stroke-width="0.55"/>
<polygon points="215.7,117.6 218.5,122.7 212.9,122.7" fill="none" stroke="#2F62DA" stroke-width="0.55"/>
<polygon points="218.9,110.6 221.7,115.6 216.1,115.6" fill="none" stroke="#2F62DA" stroke-width="0.55"/>
<polygon points="216.3,119.8 219.1,124.9 213.5,124.9" fill="none" stroke="#2F62DA" stroke-width="0.55"/>
<polygon points="219.3,112.0 222.1,117.0 216.5,117.0" fill="none" stroke="#2F62DA" stroke-width="0.55"/>
<polygon points="267.7,87.2 270.5,92.3 264.9,92.3" fill="none" stroke="#2F62DA" stroke-width="0.55"/>
<polygon points="211.1,104.5 213.9,109.5 208.3,109.5" fill="none" stroke="#2F62DA" stroke-width="0.55"/>
<polygon points="241.9,98.9 244.7,103.9 239.1,103.9" fill="none" stroke="#2F62DA" stroke-width="0.55"/>
<polygon points="241.8,99.3 244.6,104.4 239.0,104.4" fill="none" stroke="#2F62DA" stroke-width="0.55"/>
<polygon points="238.5,95.1 241.3,100.1 235.7,100.1" fill="none" stroke="#2F62DA" stroke-width="0.55"/>
<polygon points="263.5,79.9 266.3,84.9 260.7,84.9" fill="none" stroke="#2F62DA" stroke-width="0.55"/>
<polygon points="219.6,101.3 222.4,106.4 216.8,106.4" fill="none" stroke="#2F62DA" stroke-width="0.55"/>
<polygon points="232.4,100.1 235.2,105.1 229.6,105.1" fill="none" stroke="#2F62DA" stroke-width="0.55"/>
<polygon points="238.3,95.6 241.1,100.6 235.5,100.6" fill="none" stroke="#2F62DA" stroke-width="0.55"/>
<polygon points="210.9,120.3 213.7,125.3 208.1,125.3" fill="none" stroke="#2F62DA" stroke-width="0.55"/>
<polygon points="205.0,99.9 207.8,105.0 202.2,105.0" fill="none" stroke="#2F62DA" stroke-width="0.55"/>
<polygon points="209.8,120.8 212.6,125.8 207.0,125.8" fill="none" stroke="#2F62DA" stroke-width="0.55"/>
<polygon points="256.3,93.2 259.1,98.3 253.5,98.3" fill="none" stroke="#2F62DA" stroke-width="0.55"/>
<polygon points="210.6,119.1 213.4,124.1 207.8,124.1" fill="none" stroke="#2F62DA" stroke-width="0.55"/>
<polygon points="254.5,86.0 257.3,91.1 251.7,91.1" fill="none" stroke="#2F62DA" stroke-width="0.55"/>
<polygon points="247.1,90.0 249.9,95.0 244.3,95.0" fill="none" stroke="#2F62DA" stroke-width="0.55"/>
<polygon points="220.6,97.8 223.4,102.8 217.8,102.8" fill="none" stroke="#2F62DA" stroke-width="0.55"/>
<polygon points="211.3,122.2 214.1,127.3 208.5,127.3" fill="none" stroke="#2F62DA" stroke-width="0.55"/>
<polygon points="267.4,81.4 270.2,86.5 264.6,86.5" fill="none" stroke="#2F62DA" stroke-width="0.55"/>
<polygon points="256.7,89.9 259.5,95.0 253.9,95.0" fill="none" stroke="#2F62DA" stroke-width="0.55"/>
<polygon points="241.3,88.6 244.1,93.6 238.5,93.6" fill="none" stroke="#2F62DA" stroke-width="0.55"/>
<polygon points="230.0,104.1 232.8,109.1 227.2,109.1" fill="none" stroke="#2F62DA" stroke-width="0.55"/>
<polygon points="207.0,134.5 209.8,139.5 204.2,139.5" fill="none" stroke="#2F62DA" stroke-width="0.55"/>
<polygon points="206.0,126.0 208.8,131.0 203.2,131.0" fill="none" stroke="#2F62DA" stroke-width="0.55"/>
<polygon points="208.0,123.0 210.8,128.0 205.2,128.0" fill="none" stroke="#2F62DA" stroke-width="0.55"/>
<polygon points="205.0,116.0 207.8,121.0 202.2,121.0" fill="none" stroke="#2F62DA" stroke-width="0.55"/>
</g><g>
<path d="M279.2 64.4l4.4 4.4M279.2 68.8l4.4 -4.4" stroke="#4FA878" stroke-width="0.55" fill="none"/>
<path d="M230.4 82.5l4.4 4.4M230.4 86.9l4.4 -4.4" stroke="#4FA878" stroke-width="0.55" fill="none"/>
<path d="M235.4 79.9l4.4 4.4M235.4 84.3l4.4 -4.4" stroke="#4FA878" stroke-width="0.55" fill="none"/>
<path d="M263.7 74.0l4.4 4.4M263.7 78.4l4.4 -4.4" stroke="#4FA878" stroke-width="0.55" fill="none"/>
<path d="M208.2 101.3l4.4 4.4M208.2 105.7l4.4 -4.4" stroke="#4FA878" stroke-width="0.55" fill="none"/>
<path d="M288.5 71.3l4.4 4.4M288.5 75.7l4.4 -4.4" stroke="#4FA878" stroke-width="0.55" fill="none"/>
<path d="M237.5 77.6l4.4 4.4M237.5 82.0l4.4 -4.4" stroke="#4FA878" stroke-width="0.55" fill="none"/>
<path d="M214.8 93.4l4.4 4.4M214.8 97.8l4.4 -4.4" stroke="#4FA878" stroke-width="0.55" fill="none"/>
<path d="M244.1 84.6l4.4 4.4M244.1 89.0l4.4 -4.4" stroke="#4FA878" stroke-width="0.55" fill="none"/>
<path d="M259.7 78.1l4.4 4.4M259.7 82.5l4.4 -4.4" stroke="#4FA878" stroke-width="0.55" fill="none"/>
<path d="M229.4 82.4l4.4 4.4M229.4 86.8l4.4 -4.4" stroke="#4FA878" stroke-width="0.55" fill="none"/>
<path d="M227.4 93.1l4.4 4.4M227.4 97.5l4.4 -4.4" stroke="#4FA878" stroke-width="0.55" fill="none"/>
<path d="M289.1 63.3l4.4 4.4M289.1 67.7l4.4 -4.4" stroke="#4FA878" stroke-width="0.55" fill="none"/>
<path d="M260.2 76.6l4.4 4.4M260.2 81.0l4.4 -4.4" stroke="#4FA878" stroke-width="0.55" fill="none"/>
<path d="M210.9 93.5l4.4 4.4M210.9 97.9l4.4 -4.4" stroke="#4FA878" stroke-width="0.55" fill="none"/>
<path d="M232.0 80.1l4.4 4.4M232.0 84.5l4.4 -4.4" stroke="#4FA878" stroke-width="0.55" fill="none"/>
<path d="M280.7 60.9l4.4 4.4M280.7 65.3l4.4 -4.4" stroke="#4FA878" stroke-width="0.55" fill="none"/>
<path d="M231.6 81.0l4.4 4.4M231.6 85.4l4.4 -4.4" stroke="#4FA878" stroke-width="0.55" fill="none"/>
<path d="M283.1 71.3l4.4 4.4M283.1 75.7l4.4 -4.4" stroke="#4FA878" stroke-width="0.55" fill="none"/>
<path d="M280.5 70.2l4.4 4.4M280.5 74.6l4.4 -4.4" stroke="#4FA878" stroke-width="0.55" fill="none"/>
<path d="M232.7 83.9l4.4 4.4M232.7 88.3l4.4 -4.4" stroke="#4FA878" stroke-width="0.55" fill="none"/>
<path d="M285.7 70.4l4.4 4.4M285.7 74.8l4.4 -4.4" stroke="#4FA878" stroke-width="0.55" fill="none"/>
<path d="M289.1 65.0l4.4 4.4M289.1 69.4l4.4 -4.4" stroke="#4FA878" stroke-width="0.55" fill="none"/>
<path d="M220.1 93.3l4.4 4.4M220.1 97.7l4.4 -4.4" stroke="#4FA878" stroke-width="0.55" fill="none"/>
<path d="M232.9 85.3l4.4 4.4M232.9 89.7l4.4 -4.4" stroke="#4FA878" stroke-width="0.55" fill="none"/>
<path d="M238.6 79.1l4.4 4.4M238.6 83.5l4.4 -4.4" stroke="#4FA878" stroke-width="0.55" fill="none"/>
<path d="M278.3 72.0l4.4 4.4M278.3 76.4l4.4 -4.4" stroke="#4FA878" stroke-width="0.55" fill="none"/>
<path d="M259.9 81.9l4.4 4.4M259.9 86.3l4.4 -4.4" stroke="#4FA878" stroke-width="0.55" fill="none"/>
<path d="M277.2 73.2l4.4 4.4M277.2 77.6l4.4 -4.4" stroke="#4FA878" stroke-width="0.55" fill="none"/>
<path d="M226.1 81.2l4.4 4.4M226.1 85.6l4.4 -4.4" stroke="#4FA878" stroke-width="0.55" fill="none"/>
<path d="M256.7 82.5l4.4 4.4M256.7 86.9l4.4 -4.4" stroke="#4FA878" stroke-width="0.55" fill="none"/>
<path d="M223.3 94.1l4.4 4.4M223.3 98.5l4.4 -4.4" stroke="#4FA878" stroke-width="0.55" fill="none"/>
<path d="M208.9 99.4l4.4 4.4M208.9 103.8l4.4 -4.4" stroke="#4FA878" stroke-width="0.55" fill="none"/>
<path d="M266.9 66.3l4.4 4.4M266.9 70.7l4.4 -4.4" stroke="#4FA878" stroke-width="0.55" fill="none"/>
<path d="M260.4 75.2l4.4 4.4M260.4 79.6l4.4 -4.4" stroke="#4FA878" stroke-width="0.55" fill="none"/>
<path d="M248.9 71.0l4.4 4.4M248.9 75.4l4.4 -4.4" stroke="#4FA878" stroke-width="0.55" fill="none"/>
<path d="M275.2 64.7l4.4 4.4M275.2 69.1l4.4 -4.4" stroke="#4FA878" stroke-width="0.55" fill="none"/>
<path d="M233.6 82.0l4.4 4.4M233.6 86.4l4.4 -4.4" stroke="#4FA878" stroke-width="0.55" fill="none"/>
<path d="M208.4 96.6l4.4 4.4M208.4 101.0l4.4 -4.4" stroke="#4FA878" stroke-width="0.55" fill="none"/>
<path d="M215.4 88.0l4.4 4.4M215.4 92.4l4.4 -4.4" stroke="#4FA878" stroke-width="0.55" fill="none"/>
<path d="M260.6 68.1l4.4 4.4M260.6 72.5l4.4 -4.4" stroke="#4FA878" stroke-width="0.55" fill="none"/>
<path d="M269.1 64.5l4.4 4.4M269.1 68.9l4.4 -4.4" stroke="#4FA878" stroke-width="0.55" fill="none"/>
<path d="M229.6 79.2l4.4 4.4M229.6 83.6l4.4 -4.4" stroke="#4FA878" stroke-width="0.55" fill="none"/>
<path d="M238.9 76.6l4.4 4.4M238.9 81.0l4.4 -4.4" stroke="#4FA878" stroke-width="0.55" fill="none"/>
<path d="M223.9 82.5l4.4 4.4M223.9 86.9l4.4 -4.4" stroke="#4FA878" stroke-width="0.55" fill="none"/>
<path d="M208.5 99.7l4.4 4.4M208.5 104.1l4.4 -4.4" stroke="#4FA878" stroke-width="0.55" fill="none"/>
<path d="M264.7 72.2l4.4 4.4M264.7 76.6l4.4 -4.4" stroke="#4FA878" stroke-width="0.55" fill="none"/>
<path d="M206.9 96.9l4.4 4.4M206.9 101.3l4.4 -4.4" stroke="#4FA878" stroke-width="0.55" fill="none"/>
<path d="M268.2 74.2l4.4 4.4M268.2 78.6l4.4 -4.4" stroke="#4FA878" stroke-width="0.55" fill="none"/>
<path d="M272.4 74.0l4.4 4.4M272.4 78.4l4.4 -4.4" stroke="#4FA878" stroke-width="0.55" fill="none"/>
<path d="M250.5 80.2l4.4 4.4M250.5 84.6l4.4 -4.4" stroke="#4FA878" stroke-width="0.55" fill="none"/>
<path d="M265.7 68.9l4.4 4.4M265.7 73.3l4.4 -4.4" stroke="#4FA878" stroke-width="0.55" fill="none"/>
<path d="M221.3 97.4l4.4 4.4M221.3 101.8l4.4 -4.4" stroke="#4FA878" stroke-width="0.55" fill="none"/>
<path d="M262.4 80.9l4.4 4.4M262.4 85.3l4.4 -4.4" stroke="#4FA878" stroke-width="0.55" fill="none"/>
<path d="M268.8 73.4l4.4 4.4M268.8 77.8l4.4 -4.4" stroke="#4FA878" stroke-width="0.55" fill="none"/>
<path d="M257.8 70.9l4.4 4.4M257.8 75.3l4.4 -4.4" stroke="#4FA878" stroke-width="0.55" fill="none"/>
<path d="M274.1 76.0l4.4 4.4M274.1 80.4l4.4 -4.4" stroke="#4FA878" stroke-width="0.55" fill="none"/>
<path d="M272.2 64.9l4.4 4.4M272.2 69.3l4.4 -4.4" stroke="#4FA878" stroke-width="0.55" fill="none"/>
<path d="M289.3 66.2l4.4 4.4M289.3 70.6l4.4 -4.4" stroke="#4FA878" stroke-width="0.55" fill="none"/>
<path d="M254.2 81.9l4.4 4.4M254.2 86.3l4.4 -4.4" stroke="#4FA878" stroke-width="0.55" fill="none"/>
<path d="M287.7 66.4l4.4 4.4M287.7 70.8l4.4 -4.4" stroke="#4FA878" stroke-width="0.55" fill="none"/>
<path d="M275.8 71.6l4.4 4.4M275.8 76.0l4.4 -4.4" stroke="#4FA878" stroke-width="0.55" fill="none"/>
<path d="M257.5 71.7l4.4 4.4M257.5 76.1l4.4 -4.4" stroke="#4FA878" stroke-width="0.55" fill="none"/>
<path d="M220.4 93.3l4.4 4.4M220.4 97.7l4.4 -4.4" stroke="#4FA878" stroke-width="0.55" fill="none"/>
<path d="M210.6 99.4l4.4 4.4M210.6 103.8l4.4 -4.4" stroke="#4FA878" stroke-width="0.55" fill="none"/>
<path d="M225.5 83.5l4.4 4.4M225.5 87.9l4.4 -4.4" stroke="#4FA878" stroke-width="0.55" fill="none"/>
<path d="M259.6 69.1l4.4 4.4M259.6 73.5l4.4 -4.4" stroke="#4FA878" stroke-width="0.55" fill="none"/>
<path d="M275.1 62.2l4.4 4.4M275.1 66.6l4.4 -4.4" stroke="#4FA878" stroke-width="0.55" fill="none"/>
<path d="M283.0 63.0l4.4 4.4M283.0 67.4l4.4 -4.4" stroke="#4FA878" stroke-width="0.55" fill="none"/>
<path d="M273.7 74.5l4.4 4.4M273.7 78.9l4.4 -4.4" stroke="#4FA878" stroke-width="0.55" fill="none"/>
<path d="M279.1 63.6l4.4 4.4M279.1 68.0l4.4 -4.4" stroke="#4FA878" stroke-width="0.55" fill="none"/>
<path d="M267.5 74.3l4.4 4.4M267.5 78.7l4.4 -4.4" stroke="#4FA878" stroke-width="0.55" fill="none"/>
<path d="M295.4 62.1l4.4 4.4M295.4 66.5l4.4 -4.4" stroke="#4FA878" stroke-width="0.55" fill="none"/>
<path d="M272.4 72.3l4.4 4.4M272.4 76.7l4.4 -4.4" stroke="#4FA878" stroke-width="0.55" fill="none"/>
<path d="M243.8 87.6l4.4 4.4M243.8 92.0l4.4 -4.4" stroke="#4FA878" stroke-width="0.55" fill="none"/>
<path d="M214.4 92.2l4.4 4.4M214.4 96.6l4.4 -4.4" stroke="#4FA878" stroke-width="0.55" fill="none"/>
<path d="M225.2 81.5l4.4 4.4M225.2 85.9l4.4 -4.4" stroke="#4FA878" stroke-width="0.55" fill="none"/>
<path d="M280.3 71.0l4.4 4.4M280.3 75.4l4.4 -4.4" stroke="#4FA878" stroke-width="0.55" fill="none"/>
<path d="M232.4 88.3l4.4 4.4M232.4 92.7l4.4 -4.4" stroke="#4FA878" stroke-width="0.55" fill="none"/>
<path d="M218.7 86.7l4.4 4.4M218.7 91.1l4.4 -4.4" stroke="#4FA878" stroke-width="0.55" fill="none"/>
<path d="M270.6 74.6l4.4 4.4M270.6 79.0l4.4 -4.4" stroke="#4FA878" stroke-width="0.55" fill="none"/>
<path d="M221.1 98.2l4.4 4.4M221.1 102.6l4.4 -4.4" stroke="#4FA878" stroke-width="0.55" fill="none"/>
<path d="M274.7 69.2l4.4 4.4M274.7 73.6l4.4 -4.4" stroke="#4FA878" stroke-width="0.55" fill="none"/>
<path d="M232.0 88.4l4.4 4.4M232.0 92.8l4.4 -4.4" stroke="#4FA878" stroke-width="0.55" fill="none"/>
<path d="M240.7 80.0l4.4 4.4M240.7 84.4l4.4 -4.4" stroke="#4FA878" stroke-width="0.55" fill="none"/>
<path d="M247.3 71.7l4.4 4.4M247.3 76.1l4.4 -4.4" stroke="#4FA878" stroke-width="0.55" fill="none"/>
<path d="M239.9 79.2l4.4 4.4M239.9 83.6l4.4 -4.4" stroke="#4FA878" stroke-width="0.55" fill="none"/>
<path d="M256.9 69.1l4.4 4.4M256.9 73.5l4.4 -4.4" stroke="#4FA878" stroke-width="0.55" fill="none"/>
<path d="M228.7 82.2l4.4 4.4M228.7 86.6l4.4 -4.4" stroke="#4FA878" stroke-width="0.55" fill="none"/>
<path d="M214.0 94.0l4.4 4.4M214.0 98.4l4.4 -4.4" stroke="#4FA878" stroke-width="0.55" fill="none"/>
<path d="M263.8 65.4l4.4 4.4M263.8 69.8l4.4 -4.4" stroke="#4FA878" stroke-width="0.55" fill="none"/>
<path d="M242.4 84.4l4.4 4.4M242.4 88.8l4.4 -4.4" stroke="#4FA878" stroke-width="0.55" fill="none"/>
<path d="M277.0 64.7l4.4 4.4M277.0 69.1l4.4 -4.4" stroke="#4FA878" stroke-width="0.55" fill="none"/>
<path d="M267.2 66.4l4.4 4.4M267.2 70.8l4.4 -4.4" stroke="#4FA878" stroke-width="0.55" fill="none"/>
<path d="M224.8 96.4l4.4 4.4M224.8 100.8l4.4 -4.4" stroke="#4FA878" stroke-width="0.55" fill="none"/>
<path d="M219.6 92.4l4.4 4.4M219.6 96.8l4.4 -4.4" stroke="#4FA878" stroke-width="0.55" fill="none"/>
<path d="M276.7 74.3l4.4 4.4M276.7 78.7l4.4 -4.4" stroke="#4FA878" stroke-width="0.55" fill="none"/>
<path d="M252.0 68.0l4.4 4.4M252.0 72.4l4.4 -4.4" stroke="#4FA878" stroke-width="0.55" fill="none"/>
<path d="M260.6 77.0l4.4 4.4M260.6 81.4l4.4 -4.4" stroke="#4FA878" stroke-width="0.55" fill="none"/>
<path d="M271.2 70.5l4.4 4.4M271.2 74.9l4.4 -4.4" stroke="#4FA878" stroke-width="0.55" fill="none"/>
<path d="M210.7 98.5l4.4 4.4M210.7 102.9l4.4 -4.4" stroke="#4FA878" stroke-width="0.55" fill="none"/>
<path d="M260.5 77.9l4.4 4.4M260.5 82.3l4.4 -4.4" stroke="#4FA878" stroke-width="0.55" fill="none"/>
<path d="M237.5 81.1l4.4 4.4M237.5 85.5l4.4 -4.4" stroke="#4FA878" stroke-width="0.55" fill="none"/>
<path d="M261.3 70.7l4.4 4.4M261.3 75.1l4.4 -4.4" stroke="#4FA878" stroke-width="0.55" fill="none"/>
<path d="M291.8 67.4l4.4 4.4M291.8 71.8l4.4 -4.4" stroke="#4FA878" stroke-width="0.55" fill="none"/>
</g><g>
<path d="M287.6 72.3h5.2M290.2 69.7v5.2" stroke="#A67AE2" stroke-width="0.6" fill="none"/>
<path d="M224.2 93.3h5.2M226.8 90.7v5.2" stroke="#A67AE2" stroke-width="0.6" fill="none"/>
<path d="M228.5 93.1h5.2M231.1 90.5v5.2" stroke="#A67AE2" stroke-width="0.6" fill="none"/>
<path d="M214.8 93.2h5.2M217.4 90.6v5.2" stroke="#A67AE2" stroke-width="0.6" fill="none"/>
<path d="M288.4 64.1h5.2M291.0 61.5v5.2" stroke="#A67AE2" stroke-width="0.6" fill="none"/>
<path d="M262.3 80.6h5.2M264.9 78.0v5.2" stroke="#A67AE2" stroke-width="0.6" fill="none"/>
<path d="M269.3 72.4h5.2M271.9 69.8v5.2" stroke="#A67AE2" stroke-width="0.6" fill="none"/>
<path d="M254.1 73.1h5.2M256.7 70.5v5.2" stroke="#A67AE2" stroke-width="0.6" fill="none"/>
<path d="M281.1 70.9h5.2M283.7 68.3v5.2" stroke="#A67AE2" stroke-width="0.6" fill="none"/>
<path d="M261.6 73.3h5.2M264.2 70.7v5.2" stroke="#A67AE2" stroke-width="0.6" fill="none"/>
<path d="M279.5 70.4h5.2M282.1 67.8v5.2" stroke="#A67AE2" stroke-width="0.6" fill="none"/>
<path d="M262.4 75.5h5.2M265.0 72.9v5.2" stroke="#A67AE2" stroke-width="0.6" fill="none"/>
<path d="M220.6 99.7h5.2M223.2 97.1v5.2" stroke="#A67AE2" stroke-width="0.6" fill="none"/>
<path d="M220.8 88.6h5.2M223.4 86.0v5.2" stroke="#A67AE2" stroke-width="0.6" fill="none"/>
<path d="M230.8 84.3h5.2M233.4 81.7v5.2" stroke="#A67AE2" stroke-width="0.6" fill="none"/>
<path d="M246.7 86.6h5.2M249.3 84.0v5.2" stroke="#A67AE2" stroke-width="0.6" fill="none"/>
<path d="M229.4 90.8h5.2M232.0 88.2v5.2" stroke="#A67AE2" stroke-width="0.6" fill="none"/>
<path d="M239.3 80.3h5.2M241.9 77.7v5.2" stroke="#A67AE2" stroke-width="0.6" fill="none"/>
<path d="M266.3 75.9h5.2M268.9 73.3v5.2" stroke="#A67AE2" stroke-width="0.6" fill="none"/>
<path d="M291.6 69.7h5.2M294.2 67.1v5.2" stroke="#A67AE2" stroke-width="0.6" fill="none"/>
<path d="M209.9 101.3h5.2M212.5 98.7v5.2" stroke="#A67AE2" stroke-width="0.6" fill="none"/>
<path d="M242.2 84.1h5.2M244.8 81.5v5.2" stroke="#A67AE2" stroke-width="0.6" fill="none"/>
<path d="M290.5 71.3h5.2M293.1 68.7v5.2" stroke="#A67AE2" stroke-width="0.6" fill="none"/>
<path d="M252.1 82.3h5.2M254.7 79.7v5.2" stroke="#A67AE2" stroke-width="0.6" fill="none"/>
<path d="M285.9 63.8h5.2M288.5 61.2v5.2" stroke="#A67AE2" stroke-width="0.6" fill="none"/>
<path d="M249.7 71.4h5.2M252.3 68.8v5.2" stroke="#A67AE2" stroke-width="0.6" fill="none"/>
<path d="M234.0 81.0h5.2M236.6 78.4v5.2" stroke="#A67AE2" stroke-width="0.6" fill="none"/>
<path d="M245.5 85.9h5.2M248.1 83.3v5.2" stroke="#A67AE2" stroke-width="0.6" fill="none"/>
<path d="M235.0 78.0h5.2M237.6 75.4v5.2" stroke="#A67AE2" stroke-width="0.6" fill="none"/>
<path d="M207.9 100.7h5.2M210.5 98.1v5.2" stroke="#A67AE2" stroke-width="0.6" fill="none"/>
<path d="M259.6 68.3h5.2M262.2 65.7v5.2" stroke="#A67AE2" stroke-width="0.6" fill="none"/>
<path d="M279.5 72.8h5.2M282.1 70.2v5.2" stroke="#A67AE2" stroke-width="0.6" fill="none"/>
<path d="M235.9 87.6h5.2M238.5 85.0v5.2" stroke="#A67AE2" stroke-width="0.6" fill="none"/>
<path d="M232.9 92.9h5.2M235.5 90.3v5.2" stroke="#A67AE2" stroke-width="0.6" fill="none"/>
<path d="M272.6 65.1h5.2M275.2 62.5v5.2" stroke="#A67AE2" stroke-width="0.6" fill="none"/>
<path d="M223.9 94.5h5.2M226.5 91.9v5.2" stroke="#A67AE2" stroke-width="0.6" fill="none"/>
<path d="M245.4 73.7h5.2M248.0 71.1v5.2" stroke="#A67AE2" stroke-width="0.6" fill="none"/>
<path d="M281.9 65.5h5.2M284.5 62.9v5.2" stroke="#A67AE2" stroke-width="0.6" fill="none"/>
<path d="M248.0 88.4h5.2M250.6 85.8v5.2" stroke="#A67AE2" stroke-width="0.6" fill="none"/>
<path d="M209.7 96.6h5.2M212.3 94.0v5.2" stroke="#A67AE2" stroke-width="0.6" fill="none"/>
<path d="M238.6 82.4h5.2M241.2 79.8v5.2" stroke="#A67AE2" stroke-width="0.6" fill="none"/>
<path d="M219.3 98.3h5.2M221.9 95.7v5.2" stroke="#A67AE2" stroke-width="0.6" fill="none"/>
<path d="M294.0 65.8h5.2M296.6 63.2v5.2" stroke="#A67AE2" stroke-width="0.6" fill="none"/>
<path d="M290.1 64.8h5.2M292.7 62.2v5.2" stroke="#A67AE2" stroke-width="0.6" fill="none"/>
<path d="M267.0 75.0h5.2M269.6 72.4v5.2" stroke="#A67AE2" stroke-width="0.6" fill="none"/>
<path d="M261.7 79.7h5.2M264.3 77.1v5.2" stroke="#A67AE2" stroke-width="0.6" fill="none"/>
<path d="M292.3 65.1h5.2M294.9 62.5v5.2" stroke="#A67AE2" stroke-width="0.6" fill="none"/>
<path d="M251.8 79.1h5.2M254.4 76.5v5.2" stroke="#A67AE2" stroke-width="0.6" fill="none"/>
<path d="M239.8 90.9h5.2M242.4 88.3v5.2" stroke="#A67AE2" stroke-width="0.6" fill="none"/>
<path d="M245.4 89.6h5.2M248.0 87.0v5.2" stroke="#A67AE2" stroke-width="0.6" fill="none"/>
<path d="M245.0 78.4h5.2M247.6 75.8v5.2" stroke="#A67AE2" stroke-width="0.6" fill="none"/>
<path d="M276.3 74.6h5.2M278.9 72.0v5.2" stroke="#A67AE2" stroke-width="0.6" fill="none"/>
<path d="M233.7 78.4h5.2M236.3 75.8v5.2" stroke="#A67AE2" stroke-width="0.6" fill="none"/>
<path d="M260.6 70.4h5.2M263.2 67.8v5.2" stroke="#A67AE2" stroke-width="0.6" fill="none"/>
<path d="M227.2 89.2h5.2M229.8 86.6v5.2" stroke="#A67AE2" stroke-width="0.6" fill="none"/>
<path d="M249.9 73.5h5.2M252.5 70.9v5.2" stroke="#A67AE2" stroke-width="0.6" fill="none"/>
<path d="M222.3 92.4h5.2M224.9 89.8v5.2" stroke="#A67AE2" stroke-width="0.6" fill="none"/>
<path d="M279.0 64.1h5.2M281.6 61.5v5.2" stroke="#A67AE2" stroke-width="0.6" fill="none"/>
<path d="M267.0 79.5h5.2M269.6 76.9v5.2" stroke="#A67AE2" stroke-width="0.6" fill="none"/>
<path d="M213.2 97.9h5.2M215.8 95.3v5.2" stroke="#A67AE2" stroke-width="0.6" fill="none"/>
<path d="M266.1 80.9h5.2M268.7 78.3v5.2" stroke="#A67AE2" stroke-width="0.6" fill="none"/>
<path d="M269.8 79.2h5.2M272.4 76.6v5.2" stroke="#A67AE2" stroke-width="0.6" fill="none"/>
<path d="M259.7 82.2h5.2M262.3 79.6v5.2" stroke="#A67AE2" stroke-width="0.6" fill="none"/>
<path d="M219.5 97.7h5.2M222.1 95.1v5.2" stroke="#A67AE2" stroke-width="0.6" fill="none"/>
<path d="M208.2 102.9h5.2M210.8 100.3v5.2" stroke="#A67AE2" stroke-width="0.6" fill="none"/>
<path d="M252.3 74.7h5.2M254.9 72.1v5.2" stroke="#A67AE2" stroke-width="0.6" fill="none"/>
<path d="M241.3 85.4h5.2M243.9 82.8v5.2" stroke="#A67AE2" stroke-width="0.6" fill="none"/>
<path d="M208.4 105.2h5.2M211.0 102.6v5.2" stroke="#A67AE2" stroke-width="0.6" fill="none"/>
<path d="M266.7 65.9h5.2M269.3 63.3v5.2" stroke="#A67AE2" stroke-width="0.6" fill="none"/>
<path d="M295.6 66.8h5.2M298.2 64.2v5.2" stroke="#A67AE2" stroke-width="0.6" fill="none"/>
<path d="M279.3 63.6h5.2M281.9 61.0v5.2" stroke="#A67AE2" stroke-width="0.6" fill="none"/>
<path d="M212.6 101.0h5.2M215.2 98.4v5.2" stroke="#A67AE2" stroke-width="0.6" fill="none"/>
<path d="M221.3 91.2h5.2M223.9 88.6v5.2" stroke="#A67AE2" stroke-width="0.6" fill="none"/>
<path d="M264.5 75.8h5.2M267.1 73.2v5.2" stroke="#A67AE2" stroke-width="0.6" fill="none"/>
<path d="M234.5 87.5h5.2M237.1 84.9v5.2" stroke="#A67AE2" stroke-width="0.6" fill="none"/>
<path d="M223.0 97.7h5.2M225.6 95.1v5.2" stroke="#A67AE2" stroke-width="0.6" fill="none"/>
<path d="M289.5 72.0h5.2M292.1 69.4v5.2" stroke="#A67AE2" stroke-width="0.6" fill="none"/>
<path d="M285.1 66.9h5.2M287.7 64.3v5.2" stroke="#A67AE2" stroke-width="0.6" fill="none"/>
<path d="M240.3 84.4h5.2M242.9 81.8v5.2" stroke="#A67AE2" stroke-width="0.6" fill="none"/>
<path d="M245.2 82.4h5.2M247.8 79.8v5.2" stroke="#A67AE2" stroke-width="0.6" fill="none"/>
<path d="M245.6 83.5h5.2M248.2 80.9v5.2" stroke="#A67AE2" stroke-width="0.6" fill="none"/>
<path d="M276.6 66.4h5.2M279.2 63.8v5.2" stroke="#A67AE2" stroke-width="0.6" fill="none"/>
<path d="M229.5 88.0h5.2M232.1 85.4v5.2" stroke="#A67AE2" stroke-width="0.6" fill="none"/>
<path d="M255.3 76.8h5.2M257.9 74.2v5.2" stroke="#A67AE2" stroke-width="0.6" fill="none"/>
<path d="M214.7 93.2h5.2M217.3 90.6v5.2" stroke="#A67AE2" stroke-width="0.6" fill="none"/>
<path d="M217.0 102.0h5.2M219.6 99.4v5.2" stroke="#A67AE2" stroke-width="0.6" fill="none"/>
<path d="M277.7 72.8h5.2M280.3 70.2v5.2" stroke="#A67AE2" stroke-width="0.6" fill="none"/>
<path d="M281.4 68.8h5.2M284.0 66.2v5.2" stroke="#A67AE2" stroke-width="0.6" fill="none"/>
<path d="M249.5 81.0h5.2M252.1 78.4v5.2" stroke="#A67AE2" stroke-width="0.6" fill="none"/>
<path d="M225.9 95.2h5.2M228.5 92.6v5.2" stroke="#A67AE2" stroke-width="0.6" fill="none"/>
<path d="M249.0 71.4h5.2M251.6 68.8v5.2" stroke="#A67AE2" stroke-width="0.6" fill="none"/>
<path d="M213.4 101.2h5.2M216.0 98.6v5.2" stroke="#A67AE2" stroke-width="0.6" fill="none"/>
<path d="M254.2 75.2h5.2M256.8 72.6v5.2" stroke="#A67AE2" stroke-width="0.6" fill="none"/>
<path d="M236.5 88.7h5.2M239.1 86.1v5.2" stroke="#A67AE2" stroke-width="0.6" fill="none"/>
<path d="M288.6 63.0h5.2M291.2 60.4v5.2" stroke="#A67AE2" stroke-width="0.6" fill="none"/>
<path d="M263.5 81.0h5.2M266.1 78.4v5.2" stroke="#A67AE2" stroke-width="0.6" fill="none"/>
<path d="M212.3 100.5h5.2M214.9 97.9v5.2" stroke="#A67AE2" stroke-width="0.6" fill="none"/>
<path d="M284.9 70.6h5.2M287.5 68.0v5.2" stroke="#A67AE2" stroke-width="0.6" fill="none"/>
<path d="M234.8 77.8h5.2M237.4 75.2v5.2" stroke="#A67AE2" stroke-width="0.6" fill="none"/>
<path d="M288.0 70.7h5.2M290.6 68.1v5.2" stroke="#A67AE2" stroke-width="0.6" fill="none"/>
<path d="M282.3 71.5h5.2M284.9 68.9v5.2" stroke="#A67AE2" stroke-width="0.6" fill="none"/>
<path d="M224.4 95.0h5.2M227.0 92.4v5.2" stroke="#A67AE2" stroke-width="0.6" fill="none"/>
<path d="M280.5 71.5h5.2M283.1 68.9v5.2" stroke="#A67AE2" stroke-width="0.6" fill="none"/>
<path d="M239.2 79.4h5.2M241.8 76.8v5.2" stroke="#A67AE2" stroke-width="0.6" fill="none"/>
<path d="M267.5 73.5h5.2M270.1 70.9v5.2" stroke="#A67AE2" stroke-width="0.6" fill="none"/>
<path d="M274.8 68.9h5.2M277.4 66.3v5.2" stroke="#A67AE2" stroke-width="0.6" fill="none"/>
<path d="M219.6 95.7h5.2M222.2 93.1v5.2" stroke="#A67AE2" stroke-width="0.6" fill="none"/>
<path d="M280.2 63.4h5.2M282.8 60.8v5.2" stroke="#A67AE2" stroke-width="0.6" fill="none"/>
<path d="M256.5 80.2h5.2M259.1 77.6v5.2" stroke="#A67AE2" stroke-width="0.6" fill="none"/>
<path d="M270.9 70.9h5.2M273.5 68.3v5.2" stroke="#A67AE2" stroke-width="0.6" fill="none"/>
<path d="M226.2 91.6h5.2M228.8 89.0v5.2" stroke="#A67AE2" stroke-width="0.6" fill="none"/>
<path d="M273.9 74.5h5.2M276.5 71.9v5.2" stroke="#A67AE2" stroke-width="0.6" fill="none"/>
<path d="M263.3 80.5h5.2M265.9 77.9v5.2" stroke="#A67AE2" stroke-width="0.6" fill="none"/>
<path d="M244.9 76.0h5.2M247.5 73.4v5.2" stroke="#A67AE2" stroke-width="0.6" fill="none"/>
<path d="M280.8 70.5h5.2M283.4 67.9v5.2" stroke="#A67AE2" stroke-width="0.6" fill="none"/>
<path d="M287.8 62.9h5.2M290.4 60.3v5.2" stroke="#A67AE2" stroke-width="0.6" fill="none"/>
<path d="M232.1 80.3h5.2M234.7 77.7v5.2" stroke="#A67AE2" stroke-width="0.6" fill="none"/>
<path d="M248.5 82.3h5.2M251.1 79.7v5.2" stroke="#A67AE2" stroke-width="0.6" fill="none"/>
<path d="M264.6 70.3h5.2M267.2 67.7v5.2" stroke="#A67AE2" stroke-width="0.6" fill="none"/>
<path d="M271.9 78.7h5.2M274.5 76.1v5.2" stroke="#A67AE2" stroke-width="0.6" fill="none"/>
<path d="M227.2 85.5h5.2M229.8 82.9v5.2" stroke="#A67AE2" stroke-width="0.6" fill="none"/>
<path d="M258.7 75.1h5.2M261.3 72.5v5.2" stroke="#A67AE2" stroke-width="0.6" fill="none"/>
<path d="M233.9 81.5h5.2M236.5 78.9v5.2" stroke="#A67AE2" stroke-width="0.6" fill="none"/>
<path d="M280.5 65.8h5.2M283.1 63.2v5.2" stroke="#A67AE2" stroke-width="0.6" fill="none"/>
<path d="M282.0 65.8h5.2M284.6 63.2v5.2" stroke="#A67AE2" stroke-width="0.6" fill="none"/>
<path d="M272.6 76.4h5.2M275.2 73.8v5.2" stroke="#A67AE2" stroke-width="0.6" fill="none"/>
<path d="M216.8 95.2h5.2M219.4 92.6v5.2" stroke="#A67AE2" stroke-width="0.6" fill="none"/>
<path d="M263.7 75.9h5.2M266.3 73.3v5.2" stroke="#A67AE2" stroke-width="0.6" fill="none"/>
<path d="M220.5 94.6h5.2M223.1 92.0v5.2" stroke="#A67AE2" stroke-width="0.6" fill="none"/>
<path d="M279.9 70.7h5.2M282.5 68.1v5.2" stroke="#A67AE2" stroke-width="0.6" fill="none"/>
<path d="M262.0 77.7h5.2M264.6 75.1v5.2" stroke="#A67AE2" stroke-width="0.6" fill="none"/>
<path d="M221.6 96.9h5.2M224.2 94.3v5.2" stroke="#A67AE2" stroke-width="0.6" fill="none"/>
<path d="M225.8 94.5h5.2M228.4 91.9v5.2" stroke="#A67AE2" stroke-width="0.6" fill="none"/>
<path d="M235.0 90.5h5.2M237.6 87.9v5.2" stroke="#A67AE2" stroke-width="0.6" fill="none"/>
<path d="M267.8 69.6h5.2M270.4 67.0v5.2" stroke="#A67AE2" stroke-width="0.6" fill="none"/>
<path d="M202.9 99.0h5.2M205.5 96.4v5.2" stroke="#A67AE2" stroke-width="0.6" fill="none"/>
<path d="M209.2 90.7h5.2M211.8 88.1v5.2" stroke="#A67AE2" stroke-width="0.6" fill="none"/>
<path d="M200.4 104.0h5.2M203.0 101.4v5.2" stroke="#A67AE2" stroke-width="0.6" fill="none"/>
<path d="M292.4 62.5h5.2M295.0 59.9v5.2" stroke="#A67AE2" stroke-width="0.6" fill="none"/>
<path d="M294.4 69.0h5.2M297.0 66.4v5.2" stroke="#A67AE2" stroke-width="0.6" fill="none"/>
<path d="M289.4 73.0h5.2M292.0 70.4v5.2" stroke="#A67AE2" stroke-width="0.6" fill="none"/>
<path d="M232.0 72.7h5.2M234.6 70.1v5.2" stroke="#A67AE2" stroke-width="0.6" fill="none"/>
<path d="M234.2 72.3h5.2M236.8 69.7v5.2" stroke="#A67AE2" stroke-width="0.6" fill="none"/>
<path d="M212.3 89.8h5.2M214.9 87.2v5.2" stroke="#A67AE2" stroke-width="0.6" fill="none"/>
</g>
<g>
<rect x="144.5" y="69.8" width="4.9" height="4.9" fill="#D49E0C" stroke="none" stroke-width="0.8"/>
<rect x="168.5" y="66.1" width="4.9" height="4.9" fill="#D49E0C" stroke="none" stroke-width="0.8"/>
<rect x="176.2" y="68.5" width="4.9" height="4.9" fill="#D49E0C" stroke="none" stroke-width="0.8"/>
<rect x="182.2" y="62.8" width="4.9" height="4.9" fill="#D49E0C" stroke="none" stroke-width="0.8"/>
<rect x="191.9" y="54.4" width="4.9" height="4.9" fill="#D49E0C" stroke="none" stroke-width="0.8"/>
<rect x="202.8" y="69.5" width="4.9" height="4.9" fill="#D49E0C" stroke="none" stroke-width="0.8"/>
<rect x="196.5" y="76.8" width="4.9" height="4.9" fill="#D49E0C" stroke="none" stroke-width="0.8"/>
<rect x="168.2" y="72.1" width="4.9" height="4.9" fill="#D49E0C" stroke="none" stroke-width="0.8"/>
<rect x="202.2" y="52.8" width="4.9" height="4.9" fill="#D49E0C" stroke="none" stroke-width="0.8"/>
<rect x="203.5" y="60.8" width="4.9" height="4.9" fill="#D49E0C" stroke="none" stroke-width="0.8"/>
<rect x="216.2" y="61.5" width="4.9" height="4.9" fill="#D49E0C" stroke="none" stroke-width="0.8"/>
<rect x="162.2" y="88.8" width="4.9" height="4.9" fill="#D49E0C" stroke="none" stroke-width="0.8"/>
<rect x="215.5" y="64.5" width="4.9" height="4.9" fill="#D49E0C" stroke="none" stroke-width="0.8"/>
<rect x="231.9" y="65.1" width="4.9" height="4.9" fill="#D49E0C" stroke="none" stroke-width="0.8"/>
<rect x="231.2" y="59.8" width="4.9" height="4.9" fill="#D49E0C" stroke="none" stroke-width="0.8"/>
<rect x="223.4" y="61.8" width="4.9" height="4.9" fill="#D49E0C" stroke="none" stroke-width="0.8"/>
<rect x="293.6" y="55.2" width="4.9" height="4.9" fill="#D49E0C" stroke="none" stroke-width="0.8"/>
<rect x="291.6" y="51.3" width="4.9" height="4.9" fill="#D49E0C" stroke="none" stroke-width="0.8"/>
<rect x="203.4" y="51.8" width="4.9" height="4.9" fill="#D49E0C" stroke="none" stroke-width="0.8"/>
<rect x="284.2" y="52.2" width="4.9" height="4.9" fill="#D49E0C" stroke="none" stroke-width="0.8"/>
<rect x="245.2" y="54.7" width="4.9" height="4.9" fill="#D49E0C" stroke="none" stroke-width="0.8"/>
<rect x="266.6" y="53.6" width="4.9" height="4.9" fill="#D49E0C" stroke="none" stroke-width="0.8"/>
<rect x="229.9" y="53.1" width="4.9" height="4.9" fill="#D49E0C" stroke="none" stroke-width="0.8"/>
<rect x="230.5" y="54.3" width="4.9" height="4.9" fill="#D49E0C" stroke="none" stroke-width="0.8"/>
<rect x="273.5" y="53.5" width="4.9" height="4.9" fill="#D49E0C" stroke="none" stroke-width="0.8"/>
<rect x="276.9" y="57.1" width="4.9" height="4.9" fill="#D49E0C" stroke="none" stroke-width="0.8"/>
<rect x="292.5" y="53.9" width="4.9" height="4.9" fill="#D49E0C" stroke="none" stroke-width="0.8"/>
<rect x="231.3" y="54.6" width="4.9" height="4.9" fill="#D49E0C" stroke="none" stroke-width="0.8"/>
<rect x="196.1" y="54.5" width="4.9" height="4.9" fill="#D49E0C" stroke="none" stroke-width="0.8"/>
<rect x="240.0" y="53.8" width="4.9" height="4.9" fill="#D49E0C" stroke="none" stroke-width="0.8"/>
<rect x="282.3" y="54.1" width="4.9" height="4.9" fill="#D49E0C" stroke="none" stroke-width="0.8"/>
<rect x="245.3" y="54.2" width="4.9" height="4.9" fill="#D49E0C" stroke="none" stroke-width="0.8"/>
<rect x="203.0" y="55.0" width="4.9" height="4.9" fill="#D49E0C" stroke="none" stroke-width="0.8"/>
<rect x="245.9" y="54.4" width="4.9" height="4.9" fill="#D49E0C" stroke="none" stroke-width="0.8"/>
<rect x="279.9" y="52.7" width="4.9" height="4.9" fill="#D49E0C" stroke="none" stroke-width="0.8"/>
<rect x="278.8" y="54.5" width="4.9" height="4.9" fill="#D49E0C" stroke="none" stroke-width="0.8"/>
<rect x="247.5" y="52.7" width="4.9" height="4.9" fill="#D49E0C" stroke="none" stroke-width="0.8"/>
<rect x="208.1" y="55.9" width="4.9" height="4.9" fill="#D49E0C" stroke="none" stroke-width="0.8"/>
<rect x="289.3" y="56.9" width="4.9" height="4.9" fill="#D49E0C" stroke="none" stroke-width="0.8"/>
<rect x="193.8" y="55.0" width="4.9" height="4.9" fill="#D49E0C" stroke="none" stroke-width="0.8"/>
<rect x="260.7" y="54.5" width="4.9" height="4.9" fill="#D49E0C" stroke="none" stroke-width="0.8"/>
<rect x="213.7" y="58.1" width="4.9" height="4.9" fill="#D49E0C" stroke="none" stroke-width="0.8"/>
<rect x="274.5" y="54.0" width="4.9" height="4.9" fill="#D49E0C" stroke="none" stroke-width="0.8"/>
<rect x="200.2" y="53.3" width="4.9" height="4.9" fill="#D49E0C" stroke="none" stroke-width="0.8"/>
<rect x="258.1" y="55.0" width="4.9" height="4.9" fill="#D49E0C" stroke="none" stroke-width="0.8"/>
<rect x="268.3" y="52.7" width="4.9" height="4.9" fill="#D49E0C" stroke="none" stroke-width="0.8"/>
<rect x="193.8" y="56.3" width="4.9" height="4.9" fill="#D49E0C" stroke="none" stroke-width="0.8"/>
<rect x="281.5" y="52.0" width="4.9" height="4.9" fill="#D49E0C" stroke="none" stroke-width="0.8"/>
<rect x="270.4" y="54.4" width="4.9" height="4.9" fill="#D49E0C" stroke="none" stroke-width="0.8"/>
<rect x="218.4" y="55.3" width="4.9" height="4.9" fill="#D49E0C" stroke="none" stroke-width="0.8"/>
<rect x="235.6" y="56.6" width="4.9" height="4.9" fill="#D49E0C" stroke="none" stroke-width="0.8"/>
<rect x="263.4" y="55.0" width="4.9" height="4.9" fill="#D49E0C" stroke="none" stroke-width="0.8"/>
<rect x="262.9" y="52.5" width="4.9" height="4.9" fill="#D49E0C" stroke="none" stroke-width="0.8"/>
<rect x="244.4" y="54.9" width="4.9" height="4.9" fill="#D49E0C" stroke="none" stroke-width="0.8"/>
<rect x="233.1" y="54.8" width="4.9" height="4.9" fill="#D49E0C" stroke="none" stroke-width="0.8"/>
<rect x="284.5" y="56.7" width="4.9" height="4.9" fill="#D49E0C" stroke="none" stroke-width="0.8"/>
<rect x="265.3" y="53.6" width="4.9" height="4.9" fill="#D49E0C" stroke="none" stroke-width="0.8"/>
<rect x="198.1" y="54.7" width="4.9" height="4.9" fill="#D49E0C" stroke="none" stroke-width="0.8"/>
<rect x="287.8" y="54.8" width="4.9" height="4.9" fill="#D49E0C" stroke="none" stroke-width="0.8"/>
<rect x="256.5" y="54.0" width="4.9" height="4.9" fill="#D49E0C" stroke="none" stroke-width="0.8"/>
<rect x="232.9" y="53.0" width="4.9" height="4.9" fill="#D49E0C" stroke="none" stroke-width="0.8"/>
<rect x="229.7" y="53.5" width="4.9" height="4.9" fill="#D49E0C" stroke="none" stroke-width="0.8"/>
<rect x="284.8" y="54.3" width="4.9" height="4.9" fill="#D49E0C" stroke="none" stroke-width="0.8"/>
<rect x="262.4" y="54.3" width="4.9" height="4.9" fill="#D49E0C" stroke="none" stroke-width="0.8"/>
<rect x="211.0" y="53.4" width="4.9" height="4.9" fill="#D49E0C" stroke="none" stroke-width="0.8"/>
<rect x="241.7" y="54.2" width="4.9" height="4.9" fill="#D49E0C" stroke="none" stroke-width="0.8"/>
<rect x="270.1" y="54.4" width="4.9" height="4.9" fill="#D49E0C" stroke="none" stroke-width="0.8"/>
<rect x="199.2" y="51.9" width="4.9" height="4.9" fill="#D49E0C" stroke="none" stroke-width="0.8"/>
<rect x="249.2" y="51.9" width="4.9" height="4.9" fill="#D49E0C" stroke="none" stroke-width="0.8"/>
<rect x="228.8" y="51.5" width="4.9" height="4.9" fill="#D49E0C" stroke="none" stroke-width="0.8"/>
<rect x="249.3" y="51.6" width="4.9" height="4.9" fill="#D49E0C" stroke="none" stroke-width="0.8"/>
<rect x="218.5" y="55.2" width="4.9" height="4.9" fill="#D49E0C" stroke="none" stroke-width="0.8"/>
<rect x="215.0" y="55.1" width="4.9" height="4.9" fill="#D49E0C" stroke="none" stroke-width="0.8"/>
<rect x="253.3" y="51.4" width="4.9" height="4.9" fill="#D49E0C" stroke="none" stroke-width="0.8"/>
<rect x="222.9" y="55.9" width="4.9" height="4.9" fill="#D49E0C" stroke="none" stroke-width="0.8"/>
<rect x="208.5" y="56.6" width="4.9" height="4.9" fill="#D49E0C" stroke="none" stroke-width="0.8"/>
<rect x="270.6" y="54.2" width="4.9" height="4.9" fill="#D49E0C" stroke="none" stroke-width="0.8"/>
<rect x="247.1" y="55.1" width="4.9" height="4.9" fill="#D49E0C" stroke="none" stroke-width="0.8"/>
<rect x="204.2" y="55.6" width="4.9" height="4.9" fill="#D49E0C" stroke="none" stroke-width="0.8"/>
<rect x="220.7" y="53.8" width="4.9" height="4.9" fill="#D49E0C" stroke="none" stroke-width="0.8"/>
<rect x="292.1" y="56.5" width="4.9" height="4.9" fill="#D49E0C" stroke="none" stroke-width="0.8"/>
<rect x="227.9" y="53.2" width="4.9" height="4.9" fill="#D49E0C" stroke="none" stroke-width="0.8"/>
<rect x="234.0" y="53.9" width="4.9" height="4.9" fill="#D49E0C" stroke="none" stroke-width="0.8"/>
<rect x="280.2" y="50.9" width="4.9" height="4.9" fill="#D49E0C" stroke="none" stroke-width="0.8"/>
<rect x="234.8" y="55.9" width="4.9" height="4.9" fill="#D49E0C" stroke="none" stroke-width="0.8"/>
<rect x="290.5" y="52.9" width="4.9" height="4.9" fill="#D49E0C" stroke="none" stroke-width="0.8"/>
<rect x="234.7" y="57.4" width="4.9" height="4.9" fill="#D49E0C" stroke="none" stroke-width="0.8"/>
<rect x="278.4" y="51.4" width="4.9" height="4.9" fill="#D49E0C" stroke="none" stroke-width="0.8"/>
</g>
<g>
<circle cx="140.7" cy="62.0" r="2.65" fill="#14C8C8" stroke="none" stroke-width="0.8"/>
<circle cx="178.2" cy="56.6" r="2.65" fill="#14C8C8" stroke="none" stroke-width="0.8"/>
<circle cx="184.9" cy="57.7" r="2.65" fill="#14C8C8" stroke="none" stroke-width="0.8"/>
<circle cx="165.0" cy="64.4" r="2.65" fill="#14C8C8" stroke="none" stroke-width="0.8"/>
<circle cx="175.7" cy="65.6" r="2.65" fill="#14C8C8" stroke="none" stroke-width="0.8"/>
<circle cx="189.0" cy="63.6" r="2.65" fill="#14C8C8" stroke="none" stroke-width="0.8"/>
<circle cx="195.9" cy="64.0" r="2.65" fill="#14C8C8" stroke="none" stroke-width="0.8"/>
<circle cx="198.6" cy="62.6" r="2.65" fill="#14C8C8" stroke="none" stroke-width="0.8"/>
<circle cx="203.2" cy="63.3" r="2.65" fill="#14C8C8" stroke="none" stroke-width="0.8"/>
<circle cx="195.3" cy="66.6" r="2.65" fill="#14C8C8" stroke="none" stroke-width="0.8"/>
<circle cx="181.0" cy="70.4" r="2.65" fill="#14C8C8" stroke="none" stroke-width="0.8"/>
<circle cx="189.3" cy="70.0" r="2.65" fill="#14C8C8" stroke="none" stroke-width="0.8"/>
<circle cx="215.2" cy="67.3" r="2.65" fill="#14C8C8" stroke="none" stroke-width="0.8"/>
<circle cx="210.6" cy="56.0" r="2.65" fill="#14C8C8" stroke="none" stroke-width="0.8"/>
<circle cx="166.6" cy="77.3" r="2.65" fill="#14C8C8" stroke="none" stroke-width="0.8"/>
<circle cx="170.6" cy="76.2" r="2.65" fill="#14C8C8" stroke="none" stroke-width="0.8"/>
<circle cx="179.7" cy="78.6" r="2.65" fill="#14C8C8" stroke="none" stroke-width="0.8"/>
<circle cx="181.3" cy="80.9" r="2.65" fill="#14C8C8" stroke="none" stroke-width="0.8"/>
<circle cx="175.0" cy="82.3" r="2.65" fill="#14C8C8" stroke="none" stroke-width="0.8"/>
<circle cx="191.9" cy="76.6" r="2.65" fill="#14C8C8" stroke="none" stroke-width="0.8"/>
<circle cx="213.2" cy="76.6" r="2.65" fill="#14C8C8" stroke="none" stroke-width="0.8"/>
<circle cx="162.0" cy="83.3" r="2.65" fill="#14C8C8" stroke="none" stroke-width="0.8"/>
<circle cx="164.6" cy="86.6" r="2.65" fill="#14C8C8" stroke="none" stroke-width="0.8"/>
<circle cx="162.0" cy="88.6" r="2.65" fill="#14C8C8" stroke="none" stroke-width="0.8"/>
<circle cx="160.0" cy="93.3" r="2.65" fill="#14C8C8" stroke="none" stroke-width="0.8"/>
<circle cx="166.6" cy="93.3" r="2.65" fill="#14C8C8" stroke="none" stroke-width="0.8"/>
<circle cx="142.4" cy="105.0" r="2.65" fill="#14C8C8" stroke="none" stroke-width="0.8"/>
<circle cx="135.7" cy="98.9" r="2.65" fill="#14C8C8" stroke="none" stroke-width="0.8"/>
<circle cx="116.0" cy="110.2" r="2.65" fill="#14C8C8" stroke="none" stroke-width="0.8"/>
<circle cx="135.9" cy="123.3" r="2.65" fill="#14C8C8" stroke="none" stroke-width="0.8"/>
<circle cx="159.2" cy="93.3" r="2.65" fill="#14C8C8" stroke="none" stroke-width="0.8"/>
<circle cx="211.3" cy="56.4" r="2.65" fill="#14C8C8" stroke="none" stroke-width="0.8"/>
<circle cx="218.5" cy="57.7" r="2.65" fill="#14C8C8" stroke="none" stroke-width="0.8"/>
<circle cx="226.4" cy="57.0" r="2.65" fill="#14C8C8" stroke="none" stroke-width="0.8"/>
<circle cx="231.0" cy="55.8" r="2.65" fill="#14C8C8" stroke="none" stroke-width="0.8"/>
<circle cx="254.7" cy="55.1" r="2.65" fill="#14C8C8" stroke="none" stroke-width="0.8"/>
<circle cx="260.0" cy="53.8" r="2.65" fill="#14C8C8" stroke="none" stroke-width="0.8"/>
<circle cx="262.6" cy="56.4" r="2.65" fill="#14C8C8" stroke="none" stroke-width="0.8"/>
<circle cx="252.0" cy="57.0" r="2.65" fill="#14C8C8" stroke="none" stroke-width="0.8"/>
<circle cx="221.8" cy="63.0" r="2.65" fill="#14C8C8" stroke="none" stroke-width="0.8"/>
<circle cx="215.3" cy="67.3" r="2.65" fill="#14C8C8" stroke="none" stroke-width="0.8"/>
<circle cx="226.4" cy="68.6" r="2.65" fill="#14C8C8" stroke="none" stroke-width="0.8"/>
<circle cx="213.3" cy="76.5" r="2.65" fill="#14C8C8" stroke="none" stroke-width="0.8"/>
<circle cx="163.0" cy="85.0" r="2.65" fill="#14C8C8" stroke="none" stroke-width="0.8"/>
<circle cx="161.0" cy="90.0" r="2.65" fill="#14C8C8" stroke="none" stroke-width="0.8"/>
<circle cx="199.0" cy="65.0" r="2.65" fill="#14C8C8" stroke="none" stroke-width="0.8"/>
<circle cx="258.0" cy="55.0" r="2.65" fill="#14C8C8" stroke="none" stroke-width="0.8"/>
</g>
<line x1="91.70" y1="63.30" x2="291.00" y2="55.40" stroke="#E8A935" stroke-width="1.3" />
<line x1="192.00" y1="206.10" x2="274.40" y2="83.40" stroke="#111" stroke-width="1.9" />
<line x1="198.80" y1="197.00" x2="258.00" y2="197.00" stroke="#111" stroke-width="2.0" stroke-dasharray="6 5.2"/>
<path d="M211.6 177.2 A15.75 15.75 0 0 1 224.6 196.6" fill="none" stroke="#111" stroke-width="2.2"/>
<path d="M224.3 157.1 A105.6 105.6 0 0 1 155.3 72.6" fill="none" stroke="#111" stroke-width="1.25"/>
<polygon points="155.4,63.3 150.9,72.6 159.9,72.6" fill="#000"/>
<text x="229.6" y="188.4" font-size="13" text-anchor="start" fill="#111" color="#111" font-weight="normal" >Band slope: K</text>
<text x="79.2" y="139.5" font-size="12.6" text-anchor="start" fill="#111" color="#111" font-weight="normal" >Untreated</text>
<text x="79.2" y="155.6" font-size="12.6" text-anchor="start" fill="#111" color="#111" font-weight="normal" >50°C 1 h</text>
<text x="79.2" y="171.7" font-size="12.6" text-anchor="start" fill="#111" color="#111" font-weight="normal" >50°C 7 h</text>
<text x="79.2" y="187.7" font-size="12.6" text-anchor="start" fill="#111" color="#111" font-weight="normal" >50°C 48h</text>
<text x="79.2" y="203.8" font-size="12.6" text-anchor="start" fill="#111" color="#111" font-weight="normal" >50°C 144 h</text>
<text x="79.2" y="219.9" font-size="12.6" text-anchor="start" fill="#111" color="#111" font-weight="normal" >50°C 264 h</text>
<text x="79.2" y="236.0" font-size="12.6" text-anchor="start" fill="#111" color="#111" font-weight="normal" >50°C 648 h</text>
<circle cx="60.5" cy="135.3" r="2.4" fill="none" stroke="#444" stroke-width="0.7"/>
<path d="M58.2 153.7V149.1H62.8V153.7" stroke="#F25555" stroke-width="0.8" fill="none"/>
<polygon points="60.5,164.8 63.0,169.3 58.0,169.3" fill="none" stroke="#2F62DA" stroke-width="0.75"/>
<path d="M58.3 181.3l4.4 4.4M58.3 185.7l4.4 -4.4" stroke="#8CCFA8" stroke-width="0.7" fill="none"/>
<path d="M58.0 199.6h5.0M60.5 197.1v5.0" stroke="#C5A8EE" stroke-width="0.8" fill="none"/>
<rect x="58.0" y="213.2" width="4.9" height="4.9" fill="#D49E0C" stroke="none" stroke-width="0.8"/>
<circle cx="60.5" cy="231.8" r="2.5" fill="#14C8C8" stroke="none" stroke-width="0.8"/>
<rect x="395.8" y="24.6" width="280.2" height="225.5" fill="none" stroke="#0a0a0a" stroke-width="1.6"/>
<line x1="395.80" y1="235.00" x2="400.30" y2="235.00" stroke="#111" stroke-width="1.5" />
<text x="390.6" y="239.3" font-size="12.6" text-anchor="end" fill="#111" color="#111" font-weight="normal" >0.0</text>
<line x1="395.80" y1="204.94" x2="400.30" y2="204.94" stroke="#111" stroke-width="1.5" />
<text x="390.6" y="209.2" font-size="12.6" text-anchor="end" fill="#111" color="#111" font-weight="normal" >0.2</text>
<line x1="395.80" y1="174.88" x2="400.30" y2="174.88" stroke="#111" stroke-width="1.5" />
<text x="390.6" y="179.2" font-size="12.6" text-anchor="end" fill="#111" color="#111" font-weight="normal" >0.4</text>
<line x1="395.80" y1="144.82" x2="400.30" y2="144.82" stroke="#111" stroke-width="1.5" />
<text x="390.6" y="149.1" font-size="12.6" text-anchor="end" fill="#111" color="#111" font-weight="normal" >0.6</text>
<line x1="395.80" y1="114.76" x2="400.30" y2="114.76" stroke="#111" stroke-width="1.5" />
<text x="390.6" y="119.1" font-size="12.6" text-anchor="end" fill="#111" color="#111" font-weight="normal" >0.8</text>
<line x1="395.80" y1="84.70" x2="400.30" y2="84.70" stroke="#111" stroke-width="1.5" />
<text x="390.6" y="89.0" font-size="12.6" text-anchor="end" fill="#111" color="#111" font-weight="normal" >1.0</text>
<line x1="395.80" y1="54.64" x2="400.30" y2="54.64" stroke="#111" stroke-width="1.5" />
<text x="390.6" y="58.9" font-size="12.6" text-anchor="end" fill="#111" color="#111" font-weight="normal" >1.2</text>
<text x="390.6" y="28.9" font-size="12.6" text-anchor="end" fill="#111" color="#111" font-weight="normal" >1.4</text>
<line x1="417.40" y1="250.00" x2="417.40" y2="245.50" stroke="#111" stroke-width="1.5" />
<text x="417.4" y="265.2" font-size="12.6" text-anchor="middle" fill="#111" color="#111" font-weight="normal" >0.0</text>
<line x1="460.50" y1="250.00" x2="460.50" y2="245.50" stroke="#111" stroke-width="1.5" />
<text x="460.5" y="265.2" font-size="12.6" text-anchor="middle" fill="#111" color="#111" font-weight="normal" >0.2</text>
<line x1="503.60" y1="250.00" x2="503.60" y2="245.50" stroke="#111" stroke-width="1.5" />
<text x="503.6" y="265.2" font-size="12.6" text-anchor="middle" fill="#111" color="#111" font-weight="normal" >0.4</text>
<line x1="546.70" y1="250.00" x2="546.70" y2="245.50" stroke="#111" stroke-width="1.5" />
<text x="546.7" y="265.2" font-size="12.6" text-anchor="middle" fill="#111" color="#111" font-weight="normal" >0.6</text>
<line x1="589.80" y1="250.00" x2="589.80" y2="245.50" stroke="#111" stroke-width="1.5" />
<text x="589.8" y="265.2" font-size="12.6" text-anchor="middle" fill="#111" color="#111" font-weight="normal" >0.8</text>
<line x1="632.90" y1="250.00" x2="632.90" y2="245.50" stroke="#111" stroke-width="1.5" />
<text x="632.9" y="265.2" font-size="12.6" text-anchor="middle" fill="#111" color="#111" font-weight="normal" >1.0</text>
<text x="676.0" y="265.2" font-size="12.6" text-anchor="middle" fill="#111" color="#111" font-weight="normal" >1.2</text>
<text x="396.6" y="9.3" font-size="12.5" text-anchor="middle" fill="#111" color="#111" font-weight="bold" >b</text>
<text x="416.2" y="49.6" font-size="12.8" text-anchor="start" fill="#111" color="#111" font-weight="normal" >Torus</text>
<text transform="translate(364.6,142.2) rotate(-90)" font-size="12.7" fill="#111" color="#111">E</text>
<text transform="translate(369.3,133.4) rotate(-90)" font-size="8.5" fill="#111" color="#111">r</text>
<text x="532.6" y="286.2" font-size="12.7" text-anchor="start" fill="#111" color="#111" font-weight="normal" >K</text>
<text x="540.5" y="289.5" font-size="8.5" text-anchor="start" fill="#111" color="#111" font-weight="normal" >r</text>
<line x1="460.80" y1="184.70" x2="460.80" y2="200.80" stroke="#9a9a9a" stroke-width="1" />
<line x1="458.95" y1="184.70" x2="462.65" y2="184.70" stroke="#9a9a9a" stroke-width="1" />
<line x1="458.95" y1="200.80" x2="462.65" y2="200.80" stroke="#9a9a9a" stroke-width="1" />
<line x1="469.20" y1="203.90" x2="469.20" y2="216.00" stroke="#9a9a9a" stroke-width="1" />
<line x1="467.35" y1="203.90" x2="471.05" y2="203.90" stroke="#9a9a9a" stroke-width="1" />
<line x1="467.35" y1="216.00" x2="471.05" y2="216.00" stroke="#9a9a9a" stroke-width="1" />
<line x1="506.90" y1="124.30" x2="506.90" y2="156.30" stroke="#9a9a9a" stroke-width="1" />
<line x1="505.05" y1="124.30" x2="508.75" y2="124.30" stroke="#9a9a9a" stroke-width="1" />
<line x1="505.05" y1="156.30" x2="508.75" y2="156.30" stroke="#9a9a9a" stroke-width="1" />
<line x1="504.50" y1="140.00" x2="509.50" y2="140.00" stroke="#9a9a9a" stroke-width="1" />
<line x1="504.50" y1="138.50" x2="504.50" y2="141.50" stroke="#9a9a9a" stroke-width="1" />
<line x1="509.50" y1="138.50" x2="509.50" y2="141.50" stroke="#9a9a9a" stroke-width="1" />
<line x1="519.70" y1="66.80" x2="519.70" y2="127.80" stroke="#9a9a9a" stroke-width="1" />
<line x1="517.85" y1="66.80" x2="521.55" y2="66.80" stroke="#9a9a9a" stroke-width="1" />
<line x1="517.85" y1="127.80" x2="521.55" y2="127.80" stroke="#9a9a9a" stroke-width="1" />
<line x1="516.50" y1="97.20" x2="523.00" y2="97.20" stroke="#9a9a9a" stroke-width="1" />
<line x1="516.50" y1="95.70" x2="516.50" y2="98.70" stroke="#9a9a9a" stroke-width="1" />
<line x1="523.00" y1="95.70" x2="523.00" y2="98.70" stroke="#9a9a9a" stroke-width="1" />
<line x1="632.90" y1="52.30" x2="632.90" y2="117.50" stroke="#9a9a9a" stroke-width="1" />
<line x1="631.05" y1="52.30" x2="634.75" y2="52.30" stroke="#9a9a9a" stroke-width="1" />
<line x1="631.05" y1="117.50" x2="634.75" y2="117.50" stroke="#9a9a9a" stroke-width="1" />
<line x1="622.70" y1="84.60" x2="642.90" y2="84.60" stroke="#9a9a9a" stroke-width="1" />
<line x1="622.70" y1="83.10" x2="622.70" y2="86.10" stroke="#9a9a9a" stroke-width="1" />
<line x1="642.90" y1="83.10" x2="642.90" y2="86.10" stroke="#9a9a9a" stroke-width="1" />
<line x1="420.10" y1="231.80" x2="633.00" y2="76.00" stroke="#111" stroke-width="2.0" />
<rect x="417.7" y="229.4" width="4.8" height="4.8" fill="#000" stroke="none" stroke-width="0.8"/>
<rect x="458.4" y="190.5" width="4.8" height="4.8" fill="#000" stroke="none" stroke-width="0.8"/>
<rect x="466.8" y="207.5" width="4.8" height="4.8" fill="#000" stroke="none" stroke-width="0.8"/>
<rect x="504.5" y="137.6" width="4.8" height="4.8" fill="#000" stroke="none" stroke-width="0.8"/>
<rect x="517.3" y="94.8" width="4.8" height="4.8" fill="#000" stroke="none" stroke-width="0.8"/>
<rect x="630.5" y="82.2" width="4.8" height="4.8" fill="#000" stroke="none" stroke-width="0.8"/>
<rect x="214.6" y="336.1" width="280.7" height="225.6" fill="none" stroke="#0a0a0a" stroke-width="1.6"/>
<line x1="214.60" y1="524.40" x2="219.10" y2="524.40" stroke="#111" stroke-width="1.5" />
<text x="210.6" y="528.7" font-size="12.6" text-anchor="end" fill="#111" color="#111" font-weight="normal" >0.0</text>
<line x1="214.60" y1="449.20" x2="219.10" y2="449.20" stroke="#111" stroke-width="1.5" />
<text x="210.6" y="453.5" font-size="12.6" text-anchor="end" fill="#111" color="#111" font-weight="normal" >0.5</text>
<line x1="214.60" y1="374.00" x2="219.10" y2="374.00" stroke="#111" stroke-width="1.5" />
<text x="210.6" y="378.3" font-size="12.6" text-anchor="end" fill="#111" color="#111" font-weight="normal" >1.0</text>
<text x="214.6" y="577.0" font-size="12.6" text-anchor="middle" fill="#111" color="#111" font-weight="normal" >0</text>
<line x1="270.74" y1="561.60" x2="270.74" y2="557.10" stroke="#111" stroke-width="1.5" />
<text x="270.7" y="577.0" font-size="12.6" text-anchor="middle" fill="#111" color="#111" font-weight="normal" >50</text>
<line x1="326.88" y1="561.60" x2="326.88" y2="557.10" stroke="#111" stroke-width="1.5" />
<text x="326.9" y="577.0" font-size="12.6" text-anchor="middle" fill="#111" color="#111" font-weight="normal" >100</text>
<line x1="383.02" y1="561.60" x2="383.02" y2="557.10" stroke="#111" stroke-width="1.5" />
<text x="383.0" y="577.0" font-size="12.6" text-anchor="middle" fill="#111" color="#111" font-weight="normal" >150</text>
<line x1="439.16" y1="561.60" x2="439.16" y2="557.10" stroke="#111" stroke-width="1.5" />
<text x="439.2" y="577.0" font-size="12.6" text-anchor="middle" fill="#111" color="#111" font-weight="normal" >200</text>
<text x="495.3" y="577.0" font-size="12.6" text-anchor="middle" fill="#111" color="#111" font-weight="normal" >250</text>
<text x="355.0" y="597.5" font-size="13" text-anchor="middle" fill="#111" color="#111" font-weight="normal" >Adhesion force (nN)</text>
<text transform="translate(187.3,450) rotate(-90)" font-size="13" text-anchor="middle" fill="#111" color="#111">Jump-off force ratio</text>
<text x="215.1" y="329.5" font-size="12.5" text-anchor="middle" fill="#111" color="#111" font-weight="bold" >c</text>
<text x="221.0" y="353.1" font-size="13" text-anchor="start" fill="#111" color="#111" font-weight="normal" >Border</text>
<g>
<rect x="391.1" y="407.2" width="4.6" height="4.6" fill="#4a4a4a" stroke="none" stroke-width="0.8"/>
<rect x="386.6" y="415.7" width="4.6" height="4.6" fill="#4a4a4a" stroke="none" stroke-width="0.8"/>
<rect x="382.1" y="419.2" width="4.6" height="4.6" fill="#4a4a4a" stroke="none" stroke-width="0.8"/>
<rect x="379.6" y="420.7" width="4.6" height="4.6" fill="#4a4a4a" stroke="none" stroke-width="0.8"/>
<rect x="372.1" y="419.7" width="4.6" height="4.6" fill="#4a4a4a" stroke="none" stroke-width="0.8"/>
<rect x="365.7" y="426.7" width="4.6" height="4.6" fill="#4a4a4a" stroke="none" stroke-width="0.8"/>
<rect x="367.7" y="427.7" width="4.6" height="4.6" fill="#4a4a4a" stroke="none" stroke-width="0.8"/>
<rect x="374.7" y="425.7" width="4.6" height="4.6" fill="#4a4a4a" stroke="none" stroke-width="0.8"/>
<rect x="376.7" y="427.7" width="4.6" height="4.6" fill="#4a4a4a" stroke="none" stroke-width="0.8"/>
<rect x="362.7" y="431.7" width="4.6" height="4.6" fill="#4a4a4a" stroke="none" stroke-width="0.8"/>
<rect x="359.7" y="434.7" width="4.6" height="4.6" fill="#4a4a4a" stroke="none" stroke-width="0.8"/>
<rect x="365.7" y="432.7" width="4.6" height="4.6" fill="#4a4a4a" stroke="none" stroke-width="0.8"/>
<rect x="368.7" y="431.7" width="4.6" height="4.6" fill="#4a4a4a" stroke="none" stroke-width="0.8"/>
<rect x="372.7" y="432.7" width="4.6" height="4.6" fill="#4a4a4a" stroke="none" stroke-width="0.8"/>
<rect x="375.7" y="435.7" width="4.6" height="4.6" fill="#4a4a4a" stroke="none" stroke-width="0.8"/>
<rect x="377.7" y="433.7" width="4.6" height="4.6" fill="#4a4a4a" stroke="none" stroke-width="0.8"/>
<rect x="358.2" y="437.1" width="4.6" height="4.6" fill="#4a4a4a" stroke="none" stroke-width="0.8"/>
<rect x="362.7" y="440.7" width="4.6" height="4.6" fill="#4a4a4a" stroke="none" stroke-width="0.8"/>
<rect x="366.7" y="441.7" width="4.6" height="4.6" fill="#4a4a4a" stroke="none" stroke-width="0.8"/>
<rect x="370.7" y="440.7" width="4.6" height="4.6" fill="#4a4a4a" stroke="none" stroke-width="0.8"/>
<rect x="372.7" y="442.7" width="4.6" height="4.6" fill="#4a4a4a" stroke="none" stroke-width="0.8"/>
<rect x="375.7" y="444.7" width="4.6" height="4.6" fill="#4a4a4a" stroke="none" stroke-width="0.8"/>
<rect x="364.7" y="445.7" width="4.6" height="4.6" fill="#4a4a4a" stroke="none" stroke-width="0.8"/>
<rect x="367.7" y="447.7" width="4.6" height="4.6" fill="#4a4a4a" stroke="none" stroke-width="0.8"/>
<rect x="370.1" y="444.7" width="4.6" height="4.6" fill="#4a4a4a" stroke="none" stroke-width="0.8"/>
<rect x="350.2" y="443.1" width="4.6" height="4.6" fill="#4a4a4a" stroke="none" stroke-width="0.8"/>
<rect x="355.7" y="447.7" width="4.6" height="4.6" fill="#4a4a4a" stroke="none" stroke-width="0.8"/>
<rect x="349.2" y="454.7" width="4.6" height="4.6" fill="#4a4a4a" stroke="none" stroke-width="0.8"/>
<rect x="352.2" y="453.7" width="4.6" height="4.6" fill="#4a4a4a" stroke="none" stroke-width="0.8"/>
<rect x="389.7" y="427.7" width="4.6" height="4.6" fill="#4a4a4a" stroke="none" stroke-width="0.8"/>
<rect x="367.2" y="443.1" width="4.6" height="4.6" fill="#4a4a4a" stroke="none" stroke-width="0.8"/>
<rect x="369.7" y="436.7" width="4.6" height="4.6" fill="#4a4a4a" stroke="none" stroke-width="0.8"/>
<rect x="360.7" y="443.7" width="4.6" height="4.6" fill="#4a4a4a" stroke="none" stroke-width="0.8"/>
<rect x="348.5" y="454.4" width="4.6" height="4.6" fill="#4a4a4a" stroke="none" stroke-width="0.8"/>
<rect x="351.8" y="459.4" width="4.6" height="4.6" fill="#4a4a4a" stroke="none" stroke-width="0.8"/>
<rect x="357.2" y="461.6" width="4.6" height="4.6" fill="#4a4a4a" stroke="none" stroke-width="0.8"/>
<rect x="361.5" y="462.6" width="4.6" height="4.6" fill="#4a4a4a" stroke="none" stroke-width="0.8"/>
<rect x="365.8" y="467.0" width="4.6" height="4.6" fill="#4a4a4a" stroke="none" stroke-width="0.8"/>
<rect x="363.7" y="469.1" width="4.6" height="4.6" fill="#4a4a4a" stroke="none" stroke-width="0.8"/>
<rect x="353.9" y="474.5" width="4.6" height="4.6" fill="#4a4a4a" stroke="none" stroke-width="0.8"/>
<rect x="357.2" y="476.7" width="4.6" height="4.6" fill="#4a4a4a" stroke="none" stroke-width="0.8"/>
<rect x="350.3" y="492.9" width="4.6" height="4.6" fill="#4a4a4a" stroke="none" stroke-width="0.8"/>
<rect x="360.0" y="494.5" width="4.6" height="4.6" fill="#4a4a4a" stroke="none" stroke-width="0.8"/>
<rect x="335.2" y="469.7" width="4.6" height="4.6" fill="#4a4a4a" stroke="none" stroke-width="0.8"/>
<rect x="308.1" y="479.0" width="4.6" height="4.6" fill="#4a4a4a" stroke="none" stroke-width="0.8"/>
<rect x="386.7" y="409.7" width="4.6" height="4.6" fill="#4a4a4a" stroke="none" stroke-width="0.8"/>
<rect x="314.2" y="522.1" width="4.6" height="4.6" fill="#4a4a4a" stroke="none" stroke-width="0.8"/>
<rect x="317.2" y="522.1" width="4.6" height="4.6" fill="#4a4a4a" stroke="none" stroke-width="0.8"/>
<rect x="320.2" y="522.1" width="4.6" height="4.6" fill="#4a4a4a" stroke="none" stroke-width="0.8"/>
<rect x="323.2" y="522.1" width="4.6" height="4.6" fill="#4a4a4a" stroke="none" stroke-width="0.8"/>
<rect x="326.2" y="522.1" width="4.6" height="4.6" fill="#4a4a4a" stroke="none" stroke-width="0.8"/>
<rect x="329.2" y="522.1" width="4.6" height="4.6" fill="#4a4a4a" stroke="none" stroke-width="0.8"/>
<rect x="332.2" y="522.1" width="4.6" height="4.6" fill="#4a4a4a" stroke="none" stroke-width="0.8"/>
<rect x="335.2" y="522.1" width="4.6" height="4.6" fill="#4a4a4a" stroke="none" stroke-width="0.8"/>
<rect x="338.2" y="522.1" width="4.6" height="4.6" fill="#4a4a4a" stroke="none" stroke-width="0.8"/>
<rect x="341.2" y="522.1" width="4.6" height="4.6" fill="#4a4a4a" stroke="none" stroke-width="0.8"/>
<rect x="344.2" y="522.1" width="4.6" height="4.6" fill="#4a4a4a" stroke="none" stroke-width="0.8"/>
<rect x="347.2" y="522.1" width="4.6" height="4.6" fill="#4a4a4a" stroke="none" stroke-width="0.8"/>
<rect x="350.2" y="522.1" width="4.6" height="4.6" fill="#4a4a4a" stroke="none" stroke-width="0.8"/>
<rect x="353.2" y="522.1" width="4.6" height="4.6" fill="#4a4a4a" stroke="none" stroke-width="0.8"/>
<rect x="356.2" y="522.1" width="4.6" height="4.6" fill="#4a4a4a" stroke="none" stroke-width="0.8"/>
<rect x="359.2" y="522.1" width="4.6" height="4.6" fill="#4a4a4a" stroke="none" stroke-width="0.8"/>
<rect x="362.2" y="522.1" width="4.6" height="4.6" fill="#4a4a4a" stroke="none" stroke-width="0.8"/>
<rect x="365.2" y="522.1" width="4.6" height="4.6" fill="#4a4a4a" stroke="none" stroke-width="0.8"/>
<rect x="368.2" y="522.1" width="4.6" height="4.6" fill="#4a4a4a" stroke="none" stroke-width="0.8"/>
<rect x="371.2" y="522.1" width="4.6" height="4.6" fill="#4a4a4a" stroke="none" stroke-width="0.8"/>
</g>
<g>
<circle cx="382.9" cy="402.3" r="2.6" fill="#EE3B3B" stroke="none" stroke-width="0.8"/>
<circle cx="361.9" cy="414.6" r="2.6" fill="#EE3B3B" stroke="none" stroke-width="0.8"/>
<circle cx="328.0" cy="463.7" r="2.6" fill="#EE3B3B" stroke="none" stroke-width="0.8"/>
<circle cx="381.6" cy="402.7" r="2.6" fill="#EE3B3B" stroke="none" stroke-width="0.8"/>
<circle cx="379.8" cy="403.4" r="2.6" fill="#EE3B3B" stroke="none" stroke-width="0.8"/>
<circle cx="338.5" cy="445.2" r="2.6" fill="#EE3B3B" stroke="none" stroke-width="0.8"/>
<circle cx="383.6" cy="402.0" r="2.6" fill="#EE3B3B" stroke="none" stroke-width="0.8"/>
<circle cx="375.7" cy="404.1" r="2.6" fill="#EE3B3B" stroke="none" stroke-width="0.8"/>
<circle cx="378.0" cy="396.0" r="2.6" fill="#EE3B3B" stroke="none" stroke-width="0.8"/>
<circle cx="329.9" cy="453.3" r="2.6" fill="#EE3B3B" stroke="none" stroke-width="0.8"/>
<circle cx="318.8" cy="473.1" r="2.6" fill="#EE3B3B" stroke="none" stroke-width="0.8"/>
<circle cx="300.5" cy="503.7" r="2.6" fill="#EE3B3B" stroke="none" stroke-width="0.8"/>
<circle cx="357.2" cy="418.1" r="2.6" fill="#EE3B3B" stroke="none" stroke-width="0.8"/>
<circle cx="295.5" cy="505.7" r="2.6" fill="#EE3B3B" stroke="none" stroke-width="0.8"/>
<circle cx="315.4" cy="481.3" r="2.6" fill="#EE3B3B" stroke="none" stroke-width="0.8"/>
<circle cx="304.2" cy="505.9" r="2.6" fill="#EE3B3B" stroke="none" stroke-width="0.8"/>
<circle cx="342.0" cy="432.7" r="2.6" fill="#EE3B3B" stroke="none" stroke-width="0.8"/>
<circle cx="337.6" cy="445.8" r="2.6" fill="#EE3B3B" stroke="none" stroke-width="0.8"/>
<circle cx="370.6" cy="408.2" r="2.6" fill="#EE3B3B" stroke="none" stroke-width="0.8"/>
<circle cx="335.9" cy="442.8" r="2.6" fill="#EE3B3B" stroke="none" stroke-width="0.8"/>
<circle cx="328.3" cy="450.2" r="2.6" fill="#EE3B3B" stroke="none" stroke-width="0.8"/>
<circle cx="311.1" cy="491.1" r="2.6" fill="#EE3B3B" stroke="none" stroke-width="0.8"/>
<circle cx="346.4" cy="432.6" r="2.6" fill="#EE3B3B" stroke="none" stroke-width="0.8"/>
<circle cx="373.8" cy="404.7" r="2.6" fill="#EE3B3B" stroke="none" stroke-width="0.8"/>
<circle cx="344.2" cy="431.0" r="2.6" fill="#EE3B3B" stroke="none" stroke-width="0.8"/>
<circle cx="374.2" cy="406.5" r="2.6" fill="#EE3B3B" stroke="none" stroke-width="0.8"/>
<circle cx="368.8" cy="399.6" r="2.6" fill="#EE3B3B" stroke="none" stroke-width="0.8"/>
<circle cx="334.1" cy="455.2" r="2.6" fill="#EE3B3B" stroke="none" stroke-width="0.8"/>
<circle cx="370.5" cy="407.8" r="2.6" fill="#EE3B3B" stroke="none" stroke-width="0.8"/>
<circle cx="330.5" cy="462.0" r="2.6" fill="#EE3B3B" stroke="none" stroke-width="0.8"/>
<circle cx="353.7" cy="411.2" r="2.6" fill="#EE3B3B" stroke="none" stroke-width="0.8"/>
<circle cx="375.0" cy="400.6" r="2.6" fill="#EE3B3B" stroke="none" stroke-width="0.8"/>
<circle cx="340.2" cy="425.3" r="2.6" fill="#EE3B3B" stroke="none" stroke-width="0.8"/>
<circle cx="357.0" cy="408.2" r="2.6" fill="#EE3B3B" stroke="none" stroke-width="0.8"/>
<circle cx="360.8" cy="408.9" r="2.6" fill="#EE3B3B" stroke="none" stroke-width="0.8"/>
<circle cx="365.8" cy="413.6" r="2.6" fill="#EE3B3B" stroke="none" stroke-width="0.8"/>
<circle cx="334.0" cy="458.1" r="2.6" fill="#EE3B3B" stroke="none" stroke-width="0.8"/>
<circle cx="375.2" cy="394.3" r="2.6" fill="#EE3B3B" stroke="none" stroke-width="0.8"/>
<circle cx="358.9" cy="418.4" r="2.6" fill="#EE3B3B" stroke="none" stroke-width="0.8"/>
<circle cx="314.2" cy="480.8" r="2.6" fill="#EE3B3B" stroke="none" stroke-width="0.8"/>
<circle cx="344.9" cy="436.5" r="2.6" fill="#EE3B3B" stroke="none" stroke-width="0.8"/>
<circle cx="308.2" cy="487.9" r="2.6" fill="#EE3B3B" stroke="none" stroke-width="0.8"/>
<circle cx="372.5" cy="410.0" r="2.6" fill="#EE3B3B" stroke="none" stroke-width="0.8"/>
<circle cx="336.0" cy="447.6" r="2.6" fill="#EE3B3B" stroke="none" stroke-width="0.8"/>
<circle cx="351.4" cy="419.2" r="2.6" fill="#EE3B3B" stroke="none" stroke-width="0.8"/>
<circle cx="339.1" cy="429.2" r="2.6" fill="#EE3B3B" stroke="none" stroke-width="0.8"/>
<circle cx="343.7" cy="435.7" r="2.6" fill="#EE3B3B" stroke="none" stroke-width="0.8"/>
<circle cx="365.3" cy="403.8" r="2.6" fill="#EE3B3B" stroke="none" stroke-width="0.8"/>
<circle cx="377.8" cy="404.8" r="2.6" fill="#EE3B3B" stroke="none" stroke-width="0.8"/>
<circle cx="322.5" cy="465.4" r="2.6" fill="#EE3B3B" stroke="none" stroke-width="0.8"/>
<circle cx="379.6" cy="396.9" r="2.6" fill="#EE3B3B" stroke="none" stroke-width="0.8"/>
<circle cx="358.8" cy="415.6" r="2.6" fill="#EE3B3B" stroke="none" stroke-width="0.8"/>
<circle cx="383.1" cy="401.0" r="2.6" fill="#EE3B3B" stroke="none" stroke-width="0.8"/>
<circle cx="352.0" cy="417.3" r="2.6" fill="#EE3B3B" stroke="none" stroke-width="0.8"/>
<circle cx="368.5" cy="401.9" r="2.6" fill="#EE3B3B" stroke="none" stroke-width="0.8"/>
<circle cx="343.5" cy="436.3" r="2.6" fill="#EE3B3B" stroke="none" stroke-width="0.8"/>
<circle cx="380.6" cy="397.3" r="2.6" fill="#EE3B3B" stroke="none" stroke-width="0.8"/>
<circle cx="335.8" cy="453.0" r="2.6" fill="#EE3B3B" stroke="none" stroke-width="0.8"/>
<circle cx="367.7" cy="401.9" r="2.6" fill="#EE3B3B" stroke="none" stroke-width="0.8"/>
<circle cx="354.9" cy="418.9" r="2.6" fill="#EE3B3B" stroke="none" stroke-width="0.8"/>
<circle cx="356.8" cy="408.1" r="2.6" fill="#EE3B3B" stroke="none" stroke-width="0.8"/>
<circle cx="352.4" cy="414.9" r="2.6" fill="#EE3B3B" stroke="none" stroke-width="0.8"/>
<circle cx="373.8" cy="398.9" r="2.6" fill="#EE3B3B" stroke="none" stroke-width="0.8"/>
<circle cx="351.6" cy="427.5" r="2.6" fill="#EE3B3B" stroke="none" stroke-width="0.8"/>
<circle cx="360.5" cy="407.4" r="2.6" fill="#EE3B3B" stroke="none" stroke-width="0.8"/>
<circle cx="382.3" cy="401.9" r="2.6" fill="#EE3B3B" stroke="none" stroke-width="0.8"/>
<circle cx="311.1" cy="482.3" r="2.6" fill="#EE3B3B" stroke="none" stroke-width="0.8"/>
<circle cx="374.9" cy="408.0" r="2.6" fill="#EE3B3B" stroke="none" stroke-width="0.8"/>
<circle cx="358.5" cy="416.7" r="2.6" fill="#EE3B3B" stroke="none" stroke-width="0.8"/>
<circle cx="382.6" cy="398.9" r="2.6" fill="#EE3B3B" stroke="none" stroke-width="0.8"/>
<circle cx="305.9" cy="489.0" r="2.6" fill="#EE3B3B" stroke="none" stroke-width="0.8"/>
<circle cx="334.1" cy="448.2" r="2.6" fill="#EE3B3B" stroke="none" stroke-width="0.8"/>
<circle cx="316.0" cy="480.1" r="2.6" fill="#EE3B3B" stroke="none" stroke-width="0.8"/>
<circle cx="317.1" cy="479.9" r="2.6" fill="#EE3B3B" stroke="none" stroke-width="0.8"/>
<circle cx="356.2" cy="419.1" r="2.6" fill="#EE3B3B" stroke="none" stroke-width="0.8"/>
<circle cx="308.3" cy="486.6" r="2.6" fill="#EE3B3B" stroke="none" stroke-width="0.8"/>
<circle cx="315.0" cy="498.6" r="2.6" fill="#EE3B3B" stroke="none" stroke-width="0.8"/>
<circle cx="301.6" cy="498.6" r="2.6" fill="#EE3B3B" stroke="none" stroke-width="0.8"/>
<circle cx="322.0" cy="524.4" r="2.6" fill="#EE3B3B" stroke="none" stroke-width="0.8"/>
</g>
<g>
<polygon points="364.3,392.4 367.4,398.0 361.2,398.0" fill="#10F0F0" stroke="none" stroke-width="0.8"/>
<polygon points="361.6,407.1 364.7,412.7 358.5,412.7" fill="#10F0F0" stroke="none" stroke-width="0.8"/>
<polygon points="394.1,385.2 397.2,390.8 391.0,390.8" fill="#10F0F0" stroke="none" stroke-width="0.8"/>
<polygon points="334.6,429.9 337.7,435.5 331.5,435.5" fill="#10F0F0" stroke="none" stroke-width="0.8"/>
<polygon points="363.8,401.7 366.9,407.3 360.7,407.3" fill="#10F0F0" stroke="none" stroke-width="0.8"/>
<polygon points="344.0,415.5 347.1,421.1 340.9,421.1" fill="#10F0F0" stroke="none" stroke-width="0.8"/>
<polygon points="348.4,416.2 351.5,421.8 345.3,421.8" fill="#10F0F0" stroke="none" stroke-width="0.8"/>
<polygon points="343.0,420.9 346.1,426.5 339.9,426.5" fill="#10F0F0" stroke="none" stroke-width="0.8"/>
<polygon points="327.6,439.6 330.7,445.1 324.5,445.1" fill="#10F0F0" stroke="none" stroke-width="0.8"/>
<polygon points="352.8,409.6 355.9,415.1 349.7,415.1" fill="#10F0F0" stroke="none" stroke-width="0.8"/>
<polygon points="369.5,391.0 372.6,396.6 366.4,396.6" fill="#10F0F0" stroke="none" stroke-width="0.8"/>
<polygon points="366.8,399.7 369.9,405.2 363.7,405.2" fill="#10F0F0" stroke="none" stroke-width="0.8"/>
<polygon points="392.6,386.7 395.7,392.3 389.5,392.3" fill="#10F0F0" stroke="none" stroke-width="0.8"/>
<polygon points="380.6,389.3 383.7,394.9 377.5,394.9" fill="#10F0F0" stroke="none" stroke-width="0.8"/>
<polygon points="336.7,418.9 339.8,424.5 333.6,424.5" fill="#10F0F0" stroke="none" stroke-width="0.8"/>
<polygon points="362.2,391.9 365.3,397.5 359.1,397.5" fill="#10F0F0" stroke="none" stroke-width="0.8"/>
<polygon points="387.9,388.9 391.0,394.5 384.8,394.5" fill="#10F0F0" stroke="none" stroke-width="0.8"/>
<polygon points="349.5,407.8 352.6,413.4 346.4,413.4" fill="#10F0F0" stroke="none" stroke-width="0.8"/>
<polygon points="301.4,488.8 304.5,494.3 298.3,494.3" fill="#10F0F0" stroke="none" stroke-width="0.8"/>
<polygon points="396.6,383.9 399.7,389.5 393.5,389.5" fill="#10F0F0" stroke="none" stroke-width="0.8"/>
<polygon points="308.2,481.1 311.3,486.7 305.1,486.7" fill="#10F0F0" stroke="none" stroke-width="0.8"/>
<polygon points="336.8,431.6 339.9,437.2 333.7,437.2" fill="#10F0F0" stroke="none" stroke-width="0.8"/>
<polygon points="340.8,414.4 343.9,419.9 337.7,419.9" fill="#10F0F0" stroke="none" stroke-width="0.8"/>
<polygon points="352.1,407.8 355.2,413.4 349.0,413.4" fill="#10F0F0" stroke="none" stroke-width="0.8"/>
<polygon points="309.3,484.3 312.4,489.9 306.2,489.9" fill="#10F0F0" stroke="none" stroke-width="0.8"/>
<polygon points="393.0,384.3 396.1,389.8 389.9,389.8" fill="#10F0F0" stroke="none" stroke-width="0.8"/>
<polygon points="392.7,384.5 395.8,390.0 389.6,390.0" fill="#10F0F0" stroke="none" stroke-width="0.8"/>
<polygon points="363.9,397.6 367.0,403.2 360.8,403.2" fill="#10F0F0" stroke="none" stroke-width="0.8"/>
<polygon points="306.9,489.4 310.0,494.9 303.8,494.9" fill="#10F0F0" stroke="none" stroke-width="0.8"/>
<polygon points="348.2,419.2 351.3,424.8 345.1,424.8" fill="#10F0F0" stroke="none" stroke-width="0.8"/>
<polygon points="331.9,441.3 335.0,446.9 328.8,446.9" fill="#10F0F0" stroke="none" stroke-width="0.8"/>
<polygon points="331.4,436.6 334.5,442.2 328.3,442.2" fill="#10F0F0" stroke="none" stroke-width="0.8"/>
<polygon points="332.3,437.6 335.4,443.2 329.2,443.2" fill="#10F0F0" stroke="none" stroke-width="0.8"/>
<polygon points="348.3,410.1 351.4,415.7 345.2,415.7" fill="#10F0F0" stroke="none" stroke-width="0.8"/>
<polygon points="287.5,495.1 290.6,500.7 284.4,500.7" fill="#10F0F0" stroke="none" stroke-width="0.8"/>
<polygon points="339.0,413.0 342.1,418.6 335.9,418.6" fill="#10F0F0" stroke="none" stroke-width="0.8"/>
<polygon points="297.8,481.4 300.9,487.0 294.7,487.0" fill="#10F0F0" stroke="none" stroke-width="0.8"/>
<polygon points="338.3,416.8 341.4,422.3 335.2,422.3" fill="#10F0F0" stroke="none" stroke-width="0.8"/>
<polygon points="372.9,398.4 376.0,404.0 369.8,404.0" fill="#10F0F0" stroke="none" stroke-width="0.8"/>
<polygon points="338.4,428.3 341.5,433.9 335.3,433.9" fill="#10F0F0" stroke="none" stroke-width="0.8"/>
<polygon points="344.3,413.1 347.4,418.6 341.2,418.6" fill="#10F0F0" stroke="none" stroke-width="0.8"/>
<polygon points="295.3,485.1 298.4,490.7 292.2,490.7" fill="#10F0F0" stroke="none" stroke-width="0.8"/>
<polygon points="349.7,413.4 352.8,419.0 346.6,419.0" fill="#10F0F0" stroke="none" stroke-width="0.8"/>
<polygon points="372.0,396.6 375.1,402.2 368.9,402.2" fill="#10F0F0" stroke="none" stroke-width="0.8"/>
<polygon points="372.6,394.5 375.7,400.1 369.5,400.1" fill="#10F0F0" stroke="none" stroke-width="0.8"/>
<polygon points="351.1,414.6 354.2,420.2 348.0,420.2" fill="#10F0F0" stroke="none" stroke-width="0.8"/>
<polygon points="313.1,456.6 316.2,462.2 310.0,462.2" fill="#10F0F0" stroke="none" stroke-width="0.8"/>
<polygon points="359.2,404.1 362.3,409.7 356.1,409.7" fill="#10F0F0" stroke="none" stroke-width="0.8"/>
<polygon points="374.9,385.3 378.0,390.9 371.8,390.9" fill="#10F0F0" stroke="none" stroke-width="0.8"/>
<polygon points="303.9,465.4 307.0,471.0 300.8,471.0" fill="#10F0F0" stroke="none" stroke-width="0.8"/>
<polygon points="291.2,507.1 294.3,512.6 288.1,512.6" fill="#10F0F0" stroke="none" stroke-width="0.8"/>
<polygon points="327.9,447.1 331.0,452.7 324.8,452.7" fill="#10F0F0" stroke="none" stroke-width="0.8"/>
<polygon points="349.8,409.8 352.9,415.4 346.7,415.4" fill="#10F0F0" stroke="none" stroke-width="0.8"/>
<polygon points="342.9,415.2 346.0,420.8 339.8,420.8" fill="#10F0F0" stroke="none" stroke-width="0.8"/>
<polygon points="393.4,385.8 396.5,391.4 390.3,391.4" fill="#10F0F0" stroke="none" stroke-width="0.8"/>
<polygon points="321.1,450.5 324.2,456.1 318.0,456.1" fill="#10F0F0" stroke="none" stroke-width="0.8"/>
<polygon points="343.5,421.5 346.6,427.1 340.4,427.1" fill="#10F0F0" stroke="none" stroke-width="0.8"/>
<polygon points="350.1,408.2 353.2,413.7 347.0,413.7" fill="#10F0F0" stroke="none" stroke-width="0.8"/>
<polygon points="387.4,379.9 390.5,385.4 384.3,385.4" fill="#10F0F0" stroke="none" stroke-width="0.8"/>
<polygon points="382.2,389.3 385.3,394.9 379.1,394.9" fill="#10F0F0" stroke="none" stroke-width="0.8"/>
<polygon points="386.2,383.3 389.3,388.9 383.1,388.9" fill="#10F0F0" stroke="none" stroke-width="0.8"/>
<polygon points="307.1,462.3 310.2,467.9 304.0,467.9" fill="#10F0F0" stroke="none" stroke-width="0.8"/>
<polygon points="312.3,472.7 315.4,478.2 309.2,478.2" fill="#10F0F0" stroke="none" stroke-width="0.8"/>
<polygon points="313.6,483.3 316.7,488.8 310.5,488.8" fill="#10F0F0" stroke="none" stroke-width="0.8"/>
<polygon points="301.6,489.3 304.7,494.8 298.5,494.8" fill="#10F0F0" stroke="none" stroke-width="0.8"/>
<polygon points="317.6,467.3 320.7,472.8 314.5,472.8" fill="#10F0F0" stroke="none" stroke-width="0.8"/>
<polygon points="318.7,520.9 321.8,526.4 315.6,526.4" fill="#10F0F0" stroke="none" stroke-width="0.8"/>
<polygon points="327.2,520.9 330.3,526.4 324.1,526.4" fill="#10F0F0" stroke="none" stroke-width="0.8"/>
<polygon points="313.3,519.3 316.4,524.8 310.2,524.8" fill="#10F0F0" stroke="none" stroke-width="0.8"/>
<polygon points="317.0,499.7 320.1,505.2 313.9,505.2" fill="#10F0F0" stroke="none" stroke-width="0.8"/>
<polygon points="321.0,506.7 324.1,512.2 317.9,512.2" fill="#10F0F0" stroke="none" stroke-width="0.8"/>
</g>
<g>
<polygon points="320.2,438.1 323.3,432.5 317.1,432.5" fill="#2DA86E" stroke="none" stroke-width="0.8"/>
<polygon points="369.7,388.3 372.8,382.7 366.6,382.7" fill="#2DA86E" stroke="none" stroke-width="0.8"/>
<polygon points="366.0,389.3 369.1,383.7 362.9,383.7" fill="#2DA86E" stroke="none" stroke-width="0.8"/>
<polygon points="301.3,489.1 304.4,483.5 298.2,483.5" fill="#2DA86E" stroke="none" stroke-width="0.8"/>
<polygon points="314.7,449.9 317.8,444.4 311.6,444.4" fill="#2DA86E" stroke="none" stroke-width="0.8"/>
<polygon points="347.1,415.3 350.2,409.7 344.0,409.7" fill="#2DA86E" stroke="none" stroke-width="0.8"/>
<polygon points="315.6,448.4 318.7,442.8 312.5,442.8" fill="#2DA86E" stroke="none" stroke-width="0.8"/>
<polygon points="338.7,411.5 341.8,405.9 335.6,405.9" fill="#2DA86E" stroke="none" stroke-width="0.8"/>
<polygon points="345.1,403.5 348.2,397.9 342.0,397.9" fill="#2DA86E" stroke="none" stroke-width="0.8"/>
<polygon points="378.3,388.6 381.4,383.0 375.2,383.0" fill="#2DA86E" stroke="none" stroke-width="0.8"/>
<polygon points="338.6,421.9 341.7,416.3 335.5,416.3" fill="#2DA86E" stroke="none" stroke-width="0.8"/>
<polygon points="329.3,431.7 332.4,426.1 326.2,426.1" fill="#2DA86E" stroke="none" stroke-width="0.8"/>
<polygon points="339.3,421.7 342.4,416.1 336.2,416.1" fill="#2DA86E" stroke="none" stroke-width="0.8"/>
<polygon points="352.1,410.3 355.2,404.7 349.0,404.7" fill="#2DA86E" stroke="none" stroke-width="0.8"/>
<polygon points="388.2,384.9 391.3,379.3 385.1,379.3" fill="#2DA86E" stroke="none" stroke-width="0.8"/>
<polygon points="303.0,477.3 306.1,471.7 299.9,471.7" fill="#2DA86E" stroke="none" stroke-width="0.8"/>
<polygon points="326.9,440.1 330.0,434.6 323.8,434.6" fill="#2DA86E" stroke="none" stroke-width="0.8"/>
<polygon points="352.2,409.0 355.3,403.4 349.1,403.4" fill="#2DA86E" stroke="none" stroke-width="0.8"/>
<polygon points="307.0,460.1 310.1,454.6 303.9,454.6" fill="#2DA86E" stroke="none" stroke-width="0.8"/>
<polygon points="342.5,409.3 345.6,403.7 339.4,403.7" fill="#2DA86E" stroke="none" stroke-width="0.8"/>
<polygon points="348.5,406.9 351.6,401.3 345.4,401.3" fill="#2DA86E" stroke="none" stroke-width="0.8"/>
<polygon points="330.9,427.8 334.0,422.2 327.8,422.2" fill="#2DA86E" stroke="none" stroke-width="0.8"/>
<polygon points="351.0,407.4 354.1,401.8 347.9,401.8" fill="#2DA86E" stroke="none" stroke-width="0.8"/>
<polygon points="385.2,387.9 388.3,382.4 382.1,382.4" fill="#2DA86E" stroke="none" stroke-width="0.8"/>
<polygon points="320.5,445.8 323.6,440.2 317.4,440.2" fill="#2DA86E" stroke="none" stroke-width="0.8"/>
<polygon points="379.8,385.4 382.9,379.8 376.7,379.8" fill="#2DA86E" stroke="none" stroke-width="0.8"/>
<polygon points="359.7,400.8 362.8,395.2 356.6,395.2" fill="#2DA86E" stroke="none" stroke-width="0.8"/>
<polygon points="365.0,391.6 368.1,386.0 361.9,386.0" fill="#2DA86E" stroke="none" stroke-width="0.8"/>
<polygon points="319.8,439.0 322.9,433.4 316.7,433.4" fill="#2DA86E" stroke="none" stroke-width="0.8"/>
<polygon points="373.9,391.4 377.0,385.9 370.8,385.9" fill="#2DA86E" stroke="none" stroke-width="0.8"/>
<polygon points="307.1,462.4 310.2,456.8 304.0,456.8" fill="#2DA86E" stroke="none" stroke-width="0.8"/>
<polygon points="318.9,447.9 322.0,442.3 315.8,442.3" fill="#2DA86E" stroke="none" stroke-width="0.8"/>
<polygon points="353.3,396.6 356.4,391.0 350.2,391.0" fill="#2DA86E" stroke="none" stroke-width="0.8"/>
<polygon points="313.5,465.3 316.6,459.8 310.4,459.8" fill="#2DA86E" stroke="none" stroke-width="0.8"/>
<polygon points="352.9,397.2 356.0,391.6 349.8,391.6" fill="#2DA86E" stroke="none" stroke-width="0.8"/>
<polygon points="291.5,488.7 294.6,483.2 288.4,483.2" fill="#2DA86E" stroke="none" stroke-width="0.8"/>
<polygon points="289.6,494.8 292.7,489.3 286.5,489.3" fill="#2DA86E" stroke="none" stroke-width="0.8"/>
<polygon points="302.6,468.6 305.7,463.0 299.5,463.0" fill="#2DA86E" stroke="none" stroke-width="0.8"/>
<polygon points="335.0,417.9 338.1,412.3 331.9,412.3" fill="#2DA86E" stroke="none" stroke-width="0.8"/>
<polygon points="328.1,440.1 331.2,434.5 325.0,434.5" fill="#2DA86E" stroke="none" stroke-width="0.8"/>
<polygon points="316.1,455.1 319.2,449.5 313.0,449.5" fill="#2DA86E" stroke="none" stroke-width="0.8"/>
<polygon points="314.6,459.8 317.7,454.2 311.5,454.2" fill="#2DA86E" stroke="none" stroke-width="0.8"/>
<polygon points="357.0,401.5 360.1,395.9 353.9,395.9" fill="#2DA86E" stroke="none" stroke-width="0.8"/>
<polygon points="384.5,386.4 387.6,380.8 381.4,380.8" fill="#2DA86E" stroke="none" stroke-width="0.8"/>
<polygon points="354.6,399.3 357.7,393.7 351.5,393.7" fill="#2DA86E" stroke="none" stroke-width="0.8"/>
<polygon points="386.8,385.1 389.9,379.5 383.7,379.5" fill="#2DA86E" stroke="none" stroke-width="0.8"/>
<polygon points="292.3,492.7 295.4,487.1 289.2,487.1" fill="#2DA86E" stroke="none" stroke-width="0.8"/>
<polygon points="289.8,492.9 292.9,487.4 286.7,487.4" fill="#2DA86E" stroke="none" stroke-width="0.8"/>
<polygon points="295.8,484.2 298.9,478.6 292.7,478.6" fill="#2DA86E" stroke="none" stroke-width="0.8"/>
<polygon points="304.9,459.6 308.0,454.0 301.8,454.0" fill="#2DA86E" stroke="none" stroke-width="0.8"/>
<polygon points="298.8,475.3 301.9,469.7 295.7,469.7" fill="#2DA86E" stroke="none" stroke-width="0.8"/>
<polygon points="373.8,392.6 376.9,387.1 370.7,387.1" fill="#2DA86E" stroke="none" stroke-width="0.8"/>
<polygon points="362.6,399.3 365.7,393.7 359.5,393.7" fill="#2DA86E" stroke="none" stroke-width="0.8"/>
<polygon points="326.2,438.8 329.3,433.2 323.1,433.2" fill="#2DA86E" stroke="none" stroke-width="0.8"/>
<polygon points="286.1,497.5 289.2,491.9 283.0,491.9" fill="#2DA86E" stroke="none" stroke-width="0.8"/>
<polygon points="297.6,492.5 300.7,487.0 294.5,487.0" fill="#2DA86E" stroke="none" stroke-width="0.8"/>
<polygon points="295.0,496.5 298.1,491.0 291.9,491.0" fill="#2DA86E" stroke="none" stroke-width="0.8"/>
<polygon points="316.0,527.7 319.1,522.2 312.9,522.2" fill="#2DA86E" stroke="none" stroke-width="0.8"/>
<polygon points="287.0,463.3 290.1,457.8 283.9,457.8" fill="#2DA86E" stroke="none" stroke-width="0.8"/>
</g>
<g>
<polygon points="306.6,460.8 310.1,464.3 306.6,467.8 303.1,464.3" fill="#AA78E6"/>
<polygon points="296.4,448.2 299.9,451.7 296.4,455.2 292.9,451.7" fill="#AA78E6"/>
<polygon points="373.2,384.0 376.7,387.5 373.2,391.0 369.7,387.5" fill="#AA78E6"/>
<polygon points="378.8,380.0 382.3,383.5 378.8,387.0 375.3,383.5" fill="#AA78E6"/>
<polygon points="383.9,380.1 387.4,383.6 383.9,387.1 380.4,383.6" fill="#AA78E6"/>
<polygon points="342.8,398.3 346.3,401.8 342.8,405.3 339.3,401.8" fill="#AA78E6"/>
<polygon points="416.7,373.2 420.2,376.7 416.7,380.2 413.2,376.7" fill="#AA78E6"/>
<polygon points="363.9,383.6 367.4,387.1 363.9,390.6 360.4,387.1" fill="#AA78E6"/>
<polygon points="305.8,469.1 309.3,472.6 305.8,476.1 302.3,472.6" fill="#AA78E6"/>
<polygon points="399.6,374.4 403.1,377.9 399.6,381.4 396.1,377.9" fill="#AA78E6"/>
<polygon points="305.8,471.1 309.3,474.6 305.8,478.1 302.3,474.6" fill="#AA78E6"/>
<polygon points="284.7,482.7 288.2,486.2 284.7,489.7 281.2,486.2" fill="#AA78E6"/>
<polygon points="311.2,432.9 314.7,436.4 311.2,439.9 307.7,436.4" fill="#AA78E6"/>
<polygon points="388.7,380.8 392.2,384.3 388.7,387.8 385.2,384.3" fill="#AA78E6"/>
<polygon points="407.2,375.6 410.7,379.1 407.2,382.6 403.7,379.1" fill="#AA78E6"/>
<polygon points="376.7,383.5 380.2,387.0 376.7,390.5 373.2,387.0" fill="#AA78E6"/>
<polygon points="348.8,397.1 352.3,400.6 348.8,404.1 345.3,400.6" fill="#AA78E6"/>
<polygon points="286.2,487.4 289.7,490.9 286.2,494.4 282.7,490.9" fill="#AA78E6"/>
<polygon points="337.4,406.9 340.9,410.4 337.4,413.9 333.9,410.4" fill="#AA78E6"/>
<polygon points="320.1,429.1 323.6,432.6 320.1,436.1 316.6,432.6" fill="#AA78E6"/>
<polygon points="391.0,376.0 394.5,379.5 391.0,383.0 387.5,379.5" fill="#AA78E6"/>
<polygon points="314.3,413.2 317.8,416.7 314.3,420.2 310.8,416.7" fill="#AA78E6"/>
<polygon points="383.7,382.3 387.2,385.8 383.7,389.3 380.2,385.8" fill="#AA78E6"/>
<polygon points="279.7,477.0 283.2,480.5 279.7,484.0 276.2,480.5" fill="#AA78E6"/>
<polygon points="336.8,415.7 340.3,419.2 336.8,422.7 333.3,419.2" fill="#AA78E6"/>
<polygon points="386.8,378.2 390.3,381.7 386.8,385.2 383.3,381.7" fill="#AA78E6"/>
<polygon points="409.2,374.4 412.7,377.9 409.2,381.4 405.7,377.9" fill="#AA78E6"/>
<polygon points="345.2,401.4 348.7,404.9 345.2,408.4 341.7,404.9" fill="#AA78E6"/>
<polygon points="321.0,414.6 324.5,418.1 321.0,421.6 317.5,418.1" fill="#AA78E6"/>
<polygon points="413.3,375.2 416.8,378.7 413.3,382.2 409.8,378.7" fill="#AA78E6"/>
<polygon points="355.7,394.2 359.2,397.7 355.7,401.2 352.2,397.7" fill="#AA78E6"/>
<polygon points="299.7,453.0 303.2,456.5 299.7,460.0 296.2,456.5" fill="#AA78E6"/>
<polygon points="416.5,374.1 420.0,377.6 416.5,381.1 413.0,377.6" fill="#AA78E6"/>
<polygon points="393.8,375.8 397.3,379.3 393.8,382.8 390.3,379.3" fill="#AA78E6"/>
<polygon points="329.4,397.4 332.9,400.9 329.4,404.4 325.9,400.9" fill="#AA78E6"/>
<polygon points="396.1,376.2 399.6,379.7 396.1,383.2 392.6,379.7" fill="#AA78E6"/>
<polygon points="326.5,422.0 330.0,425.5 326.5,429.0 323.0,425.5" fill="#AA78E6"/>
<polygon points="297.5,441.8 301.0,445.3 297.5,448.8 294.0,445.3" fill="#AA78E6"/>
<polygon points="402.0,377.0 405.5,380.5 402.0,384.0 398.5,380.5" fill="#AA78E6"/>
<polygon points="374.4,385.5 377.9,389.0 374.4,392.5 370.9,389.0" fill="#AA78E6"/>
<polygon points="397.7,376.1 401.2,379.6 397.7,383.1 394.2,379.6" fill="#AA78E6"/>
<polygon points="413.3,373.2 416.8,376.7 413.3,380.2 409.8,376.7" fill="#AA78E6"/>
<polygon points="308.6,448.1 312.1,451.6 308.6,455.1 305.1,451.6" fill="#AA78E6"/>
<polygon points="377.8,379.7 381.3,383.2 377.8,386.7 374.3,383.2" fill="#AA78E6"/>
<polygon points="355.1,397.5 358.6,401.0 355.1,404.5 351.6,401.0" fill="#AA78E6"/>
<polygon points="341.9,406.0 345.4,409.5 341.9,413.0 338.4,409.5" fill="#AA78E6"/>
<polygon points="318.6,431.1 322.1,434.6 318.6,438.1 315.1,434.6" fill="#AA78E6"/>
<polygon points="332.2,407.0 335.7,410.5 332.2,414.0 328.7,410.5" fill="#AA78E6"/>
<polygon points="408.9,373.0 412.4,376.5 408.9,380.0 405.4,376.5" fill="#AA78E6"/>
<polygon points="314.5,426.6 318.0,430.1 314.5,433.6 311.0,430.1" fill="#AA78E6"/>
<polygon points="389.5,379.9 393.0,383.4 389.5,386.9 386.0,383.4" fill="#AA78E6"/>
<polygon points="374.5,385.5 378.0,389.0 374.5,392.5 371.0,389.0" fill="#AA78E6"/>
<polygon points="352.8,396.4 356.3,399.9 352.8,403.4 349.3,399.9" fill="#AA78E6"/>
<polygon points="402.4,376.4 405.9,379.9 402.4,383.4 398.9,379.9" fill="#AA78E6"/>
<polygon points="374.2,382.7 377.7,386.2 374.2,389.7 370.7,386.2" fill="#AA78E6"/>
<polygon points="340.5,390.9 344.0,394.4 340.5,397.9 337.0,394.4" fill="#AA78E6"/>
<polygon points="348.2,399.2 351.7,402.7 348.2,406.2 344.7,402.7" fill="#AA78E6"/>
<polygon points="390.9,378.1 394.4,381.6 390.9,385.1 387.4,381.6" fill="#AA78E6"/>
<polygon points="394.3,378.5 397.8,382.0 394.3,385.5 390.8,382.0" fill="#AA78E6"/>
<polygon points="308.9,427.3 312.4,430.8 308.9,434.3 305.4,430.8" fill="#AA78E6"/>
<polygon points="351.5,388.2 355.0,391.7 351.5,395.2 348.0,391.7" fill="#AA78E6"/>
<polygon points="334.3,413.8 337.8,417.3 334.3,420.8 330.8,417.3" fill="#AA78E6"/>
<polygon points="406.5,375.3 410.0,378.8 406.5,382.3 403.0,378.8" fill="#AA78E6"/>
<polygon points="313.5,446.7 317.0,450.2 313.5,453.7 310.0,450.2" fill="#AA78E6"/>
<polygon points="398.3,377.1 401.8,380.6 398.3,384.1 394.8,380.6" fill="#AA78E6"/>
<polygon points="375.5,380.7 379.0,384.2 375.5,387.7 372.0,384.2" fill="#AA78E6"/>
<polygon points="382.0,379.4 385.5,382.9 382.0,386.4 378.5,382.9" fill="#AA78E6"/>
<polygon points="416.0,374.1 419.5,377.6 416.0,381.1 412.5,377.6" fill="#AA78E6"/>
<polygon points="407.5,374.5 411.0,378.0 407.5,381.5 404.0,378.0" fill="#AA78E6"/>
<polygon points="330.9,422.2 334.4,425.7 330.9,429.2 327.4,425.7" fill="#AA78E6"/>
<polygon points="349.8,402.3 353.3,405.8 349.8,409.3 346.3,405.8" fill="#AA78E6"/>
<polygon points="398.3,376.1 401.8,379.6 398.3,383.1 394.8,379.6" fill="#AA78E6"/>
<polygon points="286.1,463.9 289.6,467.4 286.1,470.9 282.6,467.4" fill="#AA78E6"/>
<polygon points="381.1,381.4 384.6,384.9 381.1,388.4 377.6,384.9" fill="#AA78E6"/>
<polygon points="313.7,433.2 317.2,436.7 313.7,440.2 310.2,436.7" fill="#AA78E6"/>
<polygon points="411.0,374.0 414.5,377.5 411.0,381.0 407.5,377.5" fill="#AA78E6"/>
<polygon points="363.2,387.0 366.7,390.5 363.2,394.0 359.7,390.5" fill="#AA78E6"/>
<polygon points="375.5,382.1 379.0,385.6 375.5,389.1 372.0,385.6" fill="#AA78E6"/>
<polygon points="330.2,422.5 333.7,426.0 330.2,429.5 326.7,426.0" fill="#AA78E6"/>
<polygon points="280.3,478.5 283.8,482.0 280.3,485.5 276.8,482.0" fill="#AA78E6"/>
<polygon points="289.6,489.6 293.1,493.1 289.6,496.6 286.1,493.1" fill="#AA78E6"/>
<polygon points="379.8,381.5 383.3,385.0 379.8,388.5 376.3,385.0" fill="#AA78E6"/>
<polygon points="409.9,375.2 413.4,378.7 409.9,382.2 406.4,378.7" fill="#AA78E6"/>
<polygon points="315.6,445.9 319.1,449.4 315.6,452.9 312.1,449.4" fill="#AA78E6"/>
<polygon points="370.0,387.0 373.5,390.5 370.0,394.0 366.5,390.5" fill="#AA78E6"/>
<polygon points="362.2,386.5 365.7,390.0 362.2,393.5 358.7,390.0" fill="#AA78E6"/>
<polygon points="342.2,395.3 345.7,398.8 342.2,402.3 338.7,398.8" fill="#AA78E6"/>
<polygon points="287.8,478.6 291.3,482.1 287.8,485.6 284.3,482.1" fill="#AA78E6"/>
<polygon points="410.0,373.0 413.5,376.5 410.0,380.0 406.5,376.5" fill="#AA78E6"/>
<polygon points="377.0,379.5 380.5,383.0 377.0,386.5 373.5,383.0" fill="#AA78E6"/>
<polygon points="333.5,412.6 337.0,416.1 333.5,419.6 330.0,416.1" fill="#AA78E6"/>
<polygon points="362.5,388.5 366.0,392.0 362.5,395.5 359.0,392.0" fill="#AA78E6"/>
<polygon points="402.7,375.6 406.2,379.1 402.7,382.6 399.2,379.1" fill="#AA78E6"/>
<polygon points="290.8,464.5 294.3,468.0 290.8,471.5 287.3,468.0" fill="#AA78E6"/>
<polygon points="320.6,406.7 324.1,410.2 320.6,413.7 317.1,410.2" fill="#AA78E6"/>
<polygon points="329.5,417.4 333.0,420.9 329.5,424.4 326.0,420.9" fill="#AA78E6"/>
<polygon points="316.7,436.6 320.2,440.1 316.7,443.6 313.2,440.1" fill="#AA78E6"/>
<polygon points="382.0,382.1 385.5,385.6 382.0,389.1 378.5,385.6" fill="#AA78E6"/>
<polygon points="293.2,465.6 296.7,469.1 293.2,472.6 289.7,469.1" fill="#AA78E6"/>
<polygon points="395.3,378.5 398.8,382.0 395.3,385.5 391.8,382.0" fill="#AA78E6"/>
<polygon points="362.8,394.5 366.3,398.0 362.8,401.5 359.3,398.0" fill="#AA78E6"/>
<polygon points="290.6,481.8 294.1,485.3 290.6,488.8 287.1,485.3" fill="#AA78E6"/>
<polygon points="333.1,396.1 336.6,399.6 333.1,403.1 329.6,399.6" fill="#AA78E6"/>
<polygon points="284.3,480.2 287.8,483.7 284.3,487.2 280.8,483.7" fill="#AA78E6"/>
<polygon points="394.9,377.4 398.4,380.9 394.9,384.4 391.4,380.9" fill="#AA78E6"/>
<polygon points="370.6,387.2 374.1,390.7 370.6,394.2 367.1,390.7" fill="#AA78E6"/>
<polygon points="340.4,413.4 343.9,416.9 340.4,420.4 336.9,416.9" fill="#AA78E6"/>
<polygon points="410.3,375.8 413.8,379.3 410.3,382.8 406.8,379.3" fill="#AA78E6"/>
<polygon points="307.6,431.0 311.1,434.5 307.6,438.0 304.1,434.5" fill="#AA78E6"/>
<polygon points="363.6,387.9 367.1,391.4 363.6,394.9 360.1,391.4" fill="#AA78E6"/>
<polygon points="344.8,405.8 348.3,409.3 344.8,412.8 341.3,409.3" fill="#AA78E6"/>
<polygon points="401.1,377.1 404.6,380.6 401.1,384.1 397.6,380.6" fill="#AA78E6"/>
<polygon points="336.6,396.7 340.1,400.2 336.6,403.7 333.1,400.2" fill="#AA78E6"/>
<polygon points="334.2,393.5 337.7,397.0 334.2,400.5 330.7,397.0" fill="#AA78E6"/>
<polygon points="317.7,423.3 321.2,426.8 317.7,430.3 314.2,426.8" fill="#AA78E6"/>
<polygon points="374.2,383.3 377.7,386.8 374.2,390.3 370.7,386.8" fill="#AA78E6"/>
<polygon points="399.0,377.8 402.5,381.3 399.0,384.8 395.5,381.3" fill="#AA78E6"/>
<polygon points="374.3,381.2 377.8,384.7 374.3,388.2 370.8,384.7" fill="#AA78E6"/>
<polygon points="294.6,465.1 298.1,468.6 294.6,472.1 291.1,468.6" fill="#AA78E6"/>
<polygon points="362.3,389.9 365.8,393.4 362.3,396.9 358.8,393.4" fill="#AA78E6"/>
<polygon points="373.8,382.6 377.3,386.1 373.8,389.6 370.3,386.1" fill="#AA78E6"/>
<polygon points="391.5,376.3 395.0,379.8 391.5,383.3 388.0,379.8" fill="#AA78E6"/>
<polygon points="386.4,377.0 389.9,380.5 386.4,384.0 382.9,380.5" fill="#AA78E6"/>
<polygon points="388.5,379.7 392.0,383.2 388.5,386.7 385.0,383.2" fill="#AA78E6"/>
<polygon points="323.4,436.8 326.9,440.3 323.4,443.8 319.9,440.3" fill="#AA78E6"/>
<polygon points="341.7,410.0 345.2,413.5 341.7,417.0 338.2,413.5" fill="#AA78E6"/>
<polygon points="389.7,377.5 393.2,381.0 389.7,384.5 386.2,381.0" fill="#AA78E6"/>
<polygon points="382.9,381.1 386.4,384.6 382.9,388.1 379.4,384.6" fill="#AA78E6"/>
<polygon points="366.1,389.7 369.6,393.2 366.1,396.7 362.6,393.2" fill="#AA78E6"/>
<polygon points="411.4,375.7 414.9,379.2 411.4,382.7 407.9,379.2" fill="#AA78E6"/>
<polygon points="343.3,396.7 346.8,400.2 343.3,403.7 339.8,400.2" fill="#AA78E6"/>
<polygon points="311.3,417.6 314.8,421.1 311.3,424.6 307.8,421.1" fill="#AA78E6"/>
<polygon points="367.5,387.6 371.0,391.1 367.5,394.6 364.0,391.1" fill="#AA78E6"/>
<polygon points="302.9,463.3 306.4,466.8 302.9,470.3 299.4,466.8" fill="#AA78E6"/>
<polygon points="380.7,382.4 384.2,385.9 380.7,389.4 377.2,385.9" fill="#AA78E6"/>
<polygon points="292.6,467.0 296.1,470.5 292.6,474.0 289.1,470.5" fill="#AA78E6"/>
<polygon points="336.8,394.4 340.3,397.9 336.8,401.4 333.3,397.9" fill="#AA78E6"/>
<polygon points="390.5,377.2 394.0,380.7 390.5,384.2 387.0,380.7" fill="#AA78E6"/>
<polygon points="408.6,373.5 412.1,377.0 408.6,380.5 405.1,377.0" fill="#AA78E6"/>
<polygon points="344.7,396.0 348.2,399.5 344.7,403.0 341.2,399.5" fill="#AA78E6"/>
<polygon points="338.9,410.1 342.4,413.6 338.9,417.1 335.4,413.6" fill="#AA78E6"/>
<polygon points="332.1,421.4 335.6,424.9 332.1,428.4 328.6,424.9" fill="#AA78E6"/>
<polygon points="335.4,413.0 338.9,416.5 335.4,420.0 331.9,416.5" fill="#AA78E6"/>
<polygon points="389.2,379.6 392.7,383.1 389.2,386.6 385.7,383.1" fill="#AA78E6"/>
<polygon points="296.3,468.2 299.8,471.7 296.3,475.2 292.8,471.7" fill="#AA78E6"/>
<polygon points="319.1,414.7 322.6,418.2 319.1,421.7 315.6,418.2" fill="#AA78E6"/>
<polygon points="326.5,411.5 330.0,415.0 326.5,418.5 323.0,415.0" fill="#AA78E6"/>
<polygon points="318.8,423.8 322.3,427.3 318.8,430.8 315.3,427.3" fill="#AA78E6"/>
<polygon points="406.9,375.4 410.4,378.9 406.9,382.4 403.4,378.9" fill="#AA78E6"/>
<polygon points="373.0,384.2 376.5,387.7 373.0,391.2 369.5,387.7" fill="#AA78E6"/>
<polygon points="310.0,463.5 313.5,467.0 310.0,470.5 306.5,467.0" fill="#AA78E6"/>
<polygon points="404.8,375.6 408.3,379.1 404.8,382.6 401.3,379.1" fill="#AA78E6"/>
<polygon points="390.3,378.6 393.8,382.1 390.3,385.6 386.8,382.1" fill="#AA78E6"/>
<polygon points="404.5,376.2 408.0,379.7 404.5,383.2 401.0,379.7" fill="#AA78E6"/>
<polygon points="366.9,386.0 370.4,389.5 366.9,393.0 363.4,389.5" fill="#AA78E6"/>
<polygon points="400.7,377.5 404.2,381.0 400.7,384.5 397.2,381.0" fill="#AA78E6"/>
<polygon points="351.0,394.5 354.5,398.0 351.0,401.5 347.5,398.0" fill="#AA78E6"/>
<polygon points="381.0,383.2 384.5,386.7 381.0,390.2 377.5,386.7" fill="#AA78E6"/>
<polygon points="374.3,381.9 377.8,385.4 374.3,388.9 370.8,385.4" fill="#AA78E6"/>
<polygon points="395.0,378.1 398.5,381.6 395.0,385.1 391.5,381.6" fill="#AA78E6"/>
<polygon points="363.1,390.9 366.6,394.4 363.1,397.9 359.6,394.4" fill="#AA78E6"/>
<polygon points="355.8,394.0 359.3,397.5 355.8,401.0 352.3,397.5" fill="#AA78E6"/>
<polygon points="413.5,375.3 417.0,378.8 413.5,382.3 410.0,378.8" fill="#AA78E6"/>
<polygon points="413.8,375.2 417.3,378.7 413.8,382.2 410.3,378.7" fill="#AA78E6"/>
<polygon points="307.6,458.4 311.1,461.9 307.6,465.4 304.1,461.9" fill="#AA78E6"/>
<polygon points="333.5,396.3 337.0,399.8 333.5,403.3 330.0,399.8" fill="#AA78E6"/>
<polygon points="404.3,373.7 407.8,377.2 404.3,380.7 400.8,377.2" fill="#AA78E6"/>
<polygon points="359.1,398.0 362.6,401.5 359.1,405.0 355.6,401.5" fill="#AA78E6"/>
<polygon points="383.4,378.3 386.9,381.8 383.4,385.3 379.9,381.8" fill="#AA78E6"/>
<polygon points="300.1,440.5 303.6,444.0 300.1,447.5 296.6,444.0" fill="#AA78E6"/>
<polygon points="279.5,485.0 283.0,488.5 279.5,492.0 276.0,488.5" fill="#AA78E6"/>
<polygon points="366.1,382.7 369.6,386.2 366.1,389.7 362.6,386.2" fill="#AA78E6"/>
<polygon points="407.7,376.1 411.2,379.6 407.7,383.1 404.2,379.6" fill="#AA78E6"/>
<polygon points="370.4,387.3 373.9,390.8 370.4,394.3 366.9,390.8" fill="#AA78E6"/>
<polygon points="364.6,393.3 368.1,396.8 364.6,400.3 361.1,396.8" fill="#AA78E6"/>
<polygon points="351.4,395.6 354.9,399.1 351.4,402.6 347.9,399.1" fill="#AA78E6"/>
<polygon points="285.3,486.8 288.8,490.3 285.3,493.8 281.8,490.3" fill="#AA78E6"/>
<polygon points="409.4,375.8 412.9,379.3 409.4,382.8 405.9,379.3" fill="#AA78E6"/>
<polygon points="413.3,373.9 416.8,377.4 413.3,380.9 409.8,377.4" fill="#AA78E6"/>
<polygon points="315.8,408.5 319.3,412.0 315.8,415.5 312.3,412.0" fill="#AA78E6"/>
<polygon points="366.2,387.5 369.7,391.0 366.2,394.5 362.7,391.0" fill="#AA78E6"/>
<polygon points="349.2,388.4 352.7,391.9 349.2,395.4 345.7,391.9" fill="#AA78E6"/>
<polygon points="317.4,440.0 320.9,443.5 317.4,447.0 313.9,443.5" fill="#AA78E6"/>
<polygon points="344.6,408.8 348.1,412.3 344.6,415.8 341.1,412.3" fill="#AA78E6"/>
<polygon points="404.8,375.1 408.3,378.6 404.8,382.1 401.3,378.6" fill="#AA78E6"/>
<polygon points="380.7,379.1 384.2,382.6 380.7,386.1 377.2,382.6" fill="#AA78E6"/>
<polygon points="369.7,387.4 373.2,390.9 369.7,394.4 366.2,390.9" fill="#AA78E6"/>
<polygon points="373.3,383.6 376.8,387.1 373.3,390.6 369.8,387.1" fill="#AA78E6"/>
<polygon points="344.4,404.2 347.9,407.7 344.4,411.2 340.9,407.7" fill="#AA78E6"/>
<polygon points="347.5,391.6 351.0,395.1 347.5,398.6 344.0,395.1" fill="#AA78E6"/>
<polygon points="289.6,491.1 293.1,494.6 289.6,498.1 286.1,494.6" fill="#AA78E6"/>
<polygon points="289.0,480.5 292.5,484.0 289.0,487.5 285.5,484.0" fill="#AA78E6"/>
<polygon points="296.3,469.1 299.8,472.6 296.3,476.1 292.8,472.6" fill="#AA78E6"/>
<polygon points="433.5,374.3 437.0,377.8 433.5,381.3 430.0,377.8" fill="#AA78E6"/>
<polygon points="281.0,448.5 284.5,452.0 281.0,455.5 277.5,452.0" fill="#AA78E6"/>
<polygon points="295.0,421.1 298.5,424.6 295.0,428.1 291.5,424.6" fill="#AA78E6"/>
</g>
<g>
<polygon points="298.5,423.5 304.2,420.3 304.2,426.7" fill="#CB970F" stroke="none" stroke-width="0.8"/>
<polygon points="319.3,414.0 325.1,410.8 325.1,417.2" fill="#CB970F" stroke="none" stroke-width="0.8"/>
<polygon points="300.5,441.3 306.2,438.1 306.2,444.5" fill="#CB970F" stroke="none" stroke-width="0.8"/>
<polygon points="337.8,393.6 343.6,390.4 343.6,396.8" fill="#CB970F" stroke="none" stroke-width="0.8"/>
<polygon points="395.6,380.1 401.4,376.9 401.4,383.3" fill="#CB970F" stroke="none" stroke-width="0.8"/>
<polygon points="388.8,381.3 394.6,378.1 394.6,384.5" fill="#CB970F" stroke="none" stroke-width="0.8"/>
<polygon points="346.7,396.1 352.5,392.9 352.5,399.3" fill="#CB970F" stroke="none" stroke-width="0.8"/>
<polygon points="395.3,379.6 401.0,376.4 401.0,382.8" fill="#CB970F" stroke="none" stroke-width="0.8"/>
<polygon points="380.3,385.6 386.0,382.4 386.0,388.8" fill="#CB970F" stroke="none" stroke-width="0.8"/>
<polygon points="379.5,384.6 385.2,381.4 385.2,387.8" fill="#CB970F" stroke="none" stroke-width="0.8"/>
<polygon points="349.6,389.7 355.4,386.5 355.4,392.9" fill="#CB970F" stroke="none" stroke-width="0.8"/>
<polygon points="305.3,426.2 311.1,423.0 311.1,429.4" fill="#CB970F" stroke="none" stroke-width="0.8"/>
<polygon points="391.1,381.5 396.9,378.3 396.9,384.7" fill="#CB970F" stroke="none" stroke-width="0.8"/>
<polygon points="354.4,392.7 360.2,389.5 360.2,395.9" fill="#CB970F" stroke="none" stroke-width="0.8"/>
<polygon points="302.1,433.8 307.9,430.6 307.9,437.0" fill="#CB970F" stroke="none" stroke-width="0.8"/>
<polygon points="350.5,389.7 356.2,386.5 356.2,392.9" fill="#CB970F" stroke="none" stroke-width="0.8"/>
<polygon points="392.2,378.6 398.0,375.4 398.0,381.8" fill="#CB970F" stroke="none" stroke-width="0.8"/>
<polygon points="333.8,398.0 339.6,394.8 339.6,401.2" fill="#CB970F" stroke="none" stroke-width="0.8"/>
<polygon points="375.7,381.7 381.5,378.5 381.5,384.9" fill="#CB970F" stroke="none" stroke-width="0.8"/>
<polygon points="377.5,383.4 383.2,380.2 383.2,386.6" fill="#CB970F" stroke="none" stroke-width="0.8"/>
<polygon points="295.8,434.0 301.5,430.8 301.5,437.2" fill="#CB970F" stroke="none" stroke-width="0.8"/>
<polygon points="325.8,405.0 331.6,401.8 331.6,408.2" fill="#CB970F" stroke="none" stroke-width="0.8"/>
<polygon points="394.8,380.4 400.6,377.2 400.6,383.6" fill="#CB970F" stroke="none" stroke-width="0.8"/>
<polygon points="397.0,379.9 402.8,376.7 402.8,383.1" fill="#CB970F" stroke="none" stroke-width="0.8"/>
<polygon points="292.7,452.3 298.5,449.1 298.5,455.5" fill="#CB970F" stroke="none" stroke-width="0.8"/>
<polygon points="387.5,381.2 393.3,378.0 393.3,384.4" fill="#CB970F" stroke="none" stroke-width="0.8"/>
<polygon points="391.4,380.3 397.2,377.1 397.2,383.5" fill="#CB970F" stroke="none" stroke-width="0.8"/>
<polygon points="389.5,382.1 395.3,378.9 395.3,385.3" fill="#CB970F" stroke="none" stroke-width="0.8"/>
<polygon points="328.8,407.3 334.6,404.1 334.6,410.5" fill="#CB970F" stroke="none" stroke-width="0.8"/>
<polygon points="382.7,382.1 388.4,378.9 388.4,385.3" fill="#CB970F" stroke="none" stroke-width="0.8"/>
<polygon points="375.7,385.8 381.4,382.6 381.4,389.0" fill="#CB970F" stroke="none" stroke-width="0.8"/>
<polygon points="381.2,379.5 386.9,376.3 386.9,382.7" fill="#CB970F" stroke="none" stroke-width="0.8"/>
<polygon points="294.1,456.5 299.8,453.3 299.8,459.7" fill="#CB970F" stroke="none" stroke-width="0.8"/>
<polygon points="392.9,377.7 398.7,374.5 398.7,380.9" fill="#CB970F" stroke="none" stroke-width="0.8"/>
<polygon points="393.8,380.6 399.6,377.4 399.6,383.8" fill="#CB970F" stroke="none" stroke-width="0.8"/>
<polygon points="366.2,389.7 371.9,386.5 371.9,392.9" fill="#CB970F" stroke="none" stroke-width="0.8"/>
<polygon points="347.4,391.3 353.2,388.1 353.2,394.5" fill="#CB970F" stroke="none" stroke-width="0.8"/>
<polygon points="321.9,408.4 327.6,405.2 327.6,411.6" fill="#CB970F" stroke="none" stroke-width="0.8"/>
<polygon points="341.4,399.2 347.2,396.0 347.2,402.4" fill="#CB970F" stroke="none" stroke-width="0.8"/>
<polygon points="285.6,456.6 291.4,453.4 291.4,459.8" fill="#CB970F" stroke="none" stroke-width="0.8"/>
<polygon points="269.3,481.5 275.0,478.3 275.0,484.7" fill="#CB970F" stroke="none" stroke-width="0.8"/>
<polygon points="395.0,376.8 400.8,373.6 400.8,380.0" fill="#CB970F" stroke="none" stroke-width="0.8"/>
<polygon points="387.4,383.3 393.1,380.1 393.1,386.5" fill="#CB970F" stroke="none" stroke-width="0.8"/>
<polygon points="300.2,444.1 306.0,440.9 306.0,447.3" fill="#CB970F" stroke="none" stroke-width="0.8"/>
<polygon points="312.4,427.5 318.1,424.3 318.1,430.7" fill="#CB970F" stroke="none" stroke-width="0.8"/>
<polygon points="396.6,376.8 402.3,373.6 402.3,380.0" fill="#CB970F" stroke="none" stroke-width="0.8"/>
<polygon points="385.4,382.5 391.1,379.3 391.1,385.7" fill="#CB970F" stroke="none" stroke-width="0.8"/>
<polygon points="391.7,378.2 397.4,375.0 397.4,381.4" fill="#CB970F" stroke="none" stroke-width="0.8"/>
<polygon points="334.9,402.7 340.6,399.5 340.6,405.9" fill="#CB970F" stroke="none" stroke-width="0.8"/>
<polygon points="302.0,436.9 307.8,433.7 307.8,440.1" fill="#CB970F" stroke="none" stroke-width="0.8"/>
<polygon points="390.9,382.0 396.7,378.8 396.7,385.2" fill="#CB970F" stroke="none" stroke-width="0.8"/>
<polygon points="348.4,393.0 354.2,389.8 354.2,396.2" fill="#CB970F" stroke="none" stroke-width="0.8"/>
<polygon points="395.5,380.6 401.3,377.4 401.3,383.8" fill="#CB970F" stroke="none" stroke-width="0.8"/>
<polygon points="375.4,385.3 381.2,382.1 381.2,388.5" fill="#CB970F" stroke="none" stroke-width="0.8"/>
<polygon points="373.0,382.5 378.8,379.3 378.8,385.7" fill="#CB970F" stroke="none" stroke-width="0.8"/>
<polygon points="389.3,378.5 395.1,375.3 395.1,381.7" fill="#CB970F" stroke="none" stroke-width="0.8"/>
<polygon points="328.8,404.8 334.6,401.6 334.6,408.0" fill="#CB970F" stroke="none" stroke-width="0.8"/>
<polygon points="302.3,442.3 308.0,439.1 308.0,445.5" fill="#CB970F" stroke="none" stroke-width="0.8"/>
<polygon points="294.6,439.4 300.4,436.2 300.4,442.6" fill="#CB970F" stroke="none" stroke-width="0.8"/>
<polygon points="290.3,469.2 296.0,466.0 296.0,472.4" fill="#CB970F" stroke="none" stroke-width="0.8"/>
<polygon points="386.5,379.5 392.3,376.3 392.3,382.7" fill="#CB970F" stroke="none" stroke-width="0.8"/>
<polygon points="401.3,378.5 407.0,375.3 407.0,381.7" fill="#CB970F" stroke="none" stroke-width="0.8"/>
<polygon points="280.5,465.2 286.3,462.0 286.3,468.4" fill="#CB970F" stroke="none" stroke-width="0.8"/>
<polygon points="323.2,401.1 329.0,397.9 329.0,404.3" fill="#CB970F" stroke="none" stroke-width="0.8"/>
<polygon points="287.5,482.3 293.2,479.1 293.2,485.5" fill="#CB970F" stroke="none" stroke-width="0.8"/>
<polygon points="367.8,384.5 373.6,381.3 373.6,387.7" fill="#CB970F" stroke="none" stroke-width="0.8"/>
<polygon points="363.9,386.6 369.6,383.4 369.6,389.8" fill="#CB970F" stroke="none" stroke-width="0.8"/>
<polygon points="369.9,388.1 375.7,384.9 375.7,391.3" fill="#CB970F" stroke="none" stroke-width="0.8"/>
<polygon points="290.8,461.8 296.6,458.6 296.6,465.0" fill="#CB970F" stroke="none" stroke-width="0.8"/>
<polygon points="363.6,389.2 369.3,386.0 369.3,392.4" fill="#CB970F" stroke="none" stroke-width="0.8"/>
<polygon points="307.2,425.0 313.0,421.8 313.0,428.2" fill="#CB970F" stroke="none" stroke-width="0.8"/>
<polygon points="346.3,394.8 352.0,391.6 352.0,398.0" fill="#CB970F" stroke="none" stroke-width="0.8"/>
<polygon points="397.3,376.5 403.1,373.3 403.1,379.7" fill="#CB970F" stroke="none" stroke-width="0.8"/>
<polygon points="285.9,467.2 291.7,464.0 291.7,470.4" fill="#CB970F" stroke="none" stroke-width="0.8"/>
<polygon points="319.2,412.9 324.9,409.7 324.9,416.1" fill="#CB970F" stroke="none" stroke-width="0.8"/>
<polygon points="288.5,478.0 294.2,474.8 294.2,481.2" fill="#CB970F" stroke="none" stroke-width="0.8"/>
<polygon points="288.7,475.4 294.4,472.2 294.4,478.6" fill="#CB970F" stroke="none" stroke-width="0.8"/>
<polygon points="375.5,387.0 381.3,383.8 381.3,390.2" fill="#CB970F" stroke="none" stroke-width="0.8"/>
<polygon points="394.3,377.8 400.1,374.6 400.1,381.0" fill="#CB970F" stroke="none" stroke-width="0.8"/>
<polygon points="321.0,404.3 326.8,401.1 326.8,407.5" fill="#CB970F" stroke="none" stroke-width="0.8"/>
<polygon points="399.9,379.9 405.7,376.7 405.7,383.1" fill="#CB970F" stroke="none" stroke-width="0.8"/>
<polygon points="364.0,387.2 369.7,384.0 369.7,390.4" fill="#CB970F" stroke="none" stroke-width="0.8"/>
<polygon points="331.5,402.6 337.2,399.4 337.2,405.8" fill="#CB970F" stroke="none" stroke-width="0.8"/>
<polygon points="290.7,451.6 296.5,448.4 296.5,454.8" fill="#CB970F" stroke="none" stroke-width="0.8"/>
<polygon points="310.0,421.0 315.7,417.8 315.7,424.2" fill="#CB970F" stroke="none" stroke-width="0.8"/>
<polygon points="398.0,379.2 403.7,376.0 403.7,382.4" fill="#CB970F" stroke="none" stroke-width="0.8"/>
<polygon points="326.8,396.2 332.5,393.0 332.5,399.4" fill="#CB970F" stroke="none" stroke-width="0.8"/>
<polygon points="366.4,385.7 372.2,382.5 372.2,388.9" fill="#CB970F" stroke="none" stroke-width="0.8"/>
<polygon points="312.3,413.9 318.1,410.7 318.1,417.1" fill="#CB970F" stroke="none" stroke-width="0.8"/>
<polygon points="339.9,394.2 345.7,391.0 345.7,397.4" fill="#CB970F" stroke="none" stroke-width="0.8"/>
<polygon points="345.8,397.1 351.6,393.9 351.6,400.3" fill="#CB970F" stroke="none" stroke-width="0.8"/>
<polygon points="393.8,378.3 399.6,375.1 399.6,381.5" fill="#CB970F" stroke="none" stroke-width="0.8"/>
<polygon points="400.2,379.0 406.0,375.8 406.0,382.2" fill="#CB970F" stroke="none" stroke-width="0.8"/>
<polygon points="328.4,407.4 334.1,404.2 334.1,410.6" fill="#CB970F" stroke="none" stroke-width="0.8"/>
<polygon points="330.4,402.8 336.1,399.6 336.1,406.0" fill="#CB970F" stroke="none" stroke-width="0.8"/>
<polygon points="310.0,425.3 315.8,422.1 315.8,428.5" fill="#CB970F" stroke="none" stroke-width="0.8"/>
<polygon points="323.8,399.5 329.5,396.3 329.5,402.7" fill="#CB970F" stroke="none" stroke-width="0.8"/>
<polygon points="348.0,388.8 353.8,385.6 353.8,392.0" fill="#CB970F" stroke="none" stroke-width="0.8"/>
<polygon points="290.7,468.3 296.4,465.1 296.4,471.5" fill="#CB970F" stroke="none" stroke-width="0.8"/>
<polygon points="400.0,380.2 405.8,377.0 405.8,383.4" fill="#CB970F" stroke="none" stroke-width="0.8"/>
<polygon points="289.5,458.3 295.3,455.1 295.3,461.5" fill="#CB970F" stroke="none" stroke-width="0.8"/>
<polygon points="329.2,405.8 334.9,402.6 334.9,409.0" fill="#CB970F" stroke="none" stroke-width="0.8"/>
<polygon points="369.5,384.6 375.3,381.4 375.3,387.8" fill="#CB970F" stroke="none" stroke-width="0.8"/>
<polygon points="307.2,422.4 312.9,419.2 312.9,425.6" fill="#CB970F" stroke="none" stroke-width="0.8"/>
<polygon points="349.1,388.2 354.8,385.0 354.8,391.4" fill="#CB970F" stroke="none" stroke-width="0.8"/>
<polygon points="293.4,460.8 299.2,457.6 299.2,464.0" fill="#CB970F" stroke="none" stroke-width="0.8"/>
<polygon points="366.6,389.9 372.4,386.7 372.4,393.1" fill="#CB970F" stroke="none" stroke-width="0.8"/>
<polygon points="390.9,377.6 396.7,374.4 396.7,380.8" fill="#CB970F" stroke="none" stroke-width="0.8"/>
<polygon points="330.0,396.2 335.8,393.0 335.8,399.4" fill="#CB970F" stroke="none" stroke-width="0.8"/>
<polygon points="314.9,405.7 320.7,402.5 320.7,408.9" fill="#CB970F" stroke="none" stroke-width="0.8"/>
<polygon points="317.5,421.1 323.3,417.9 323.3,424.3" fill="#CB970F" stroke="none" stroke-width="0.8"/>
<polygon points="290.2,459.2 295.9,456.0 295.9,462.4" fill="#CB970F" stroke="none" stroke-width="0.8"/>
<polygon points="276.8,466.6 282.6,463.4 282.6,469.8" fill="#CB970F" stroke="none" stroke-width="0.8"/>
<polygon points="372.2,384.4 378.0,381.2 378.0,387.6" fill="#CB970F" stroke="none" stroke-width="0.8"/>
<polygon points="372.2,385.4 377.9,382.2 377.9,388.6" fill="#CB970F" stroke="none" stroke-width="0.8"/>
<polygon points="394.4,378.2 400.2,375.0 400.2,381.4" fill="#CB970F" stroke="none" stroke-width="0.8"/>
<polygon points="348.9,393.6 354.7,390.4 354.7,396.8" fill="#CB970F" stroke="none" stroke-width="0.8"/>
<polygon points="304.5,434.9 310.3,431.7 310.3,438.1" fill="#CB970F" stroke="none" stroke-width="0.8"/>
<polygon points="339.6,400.2 345.3,397.0 345.3,403.4" fill="#CB970F" stroke="none" stroke-width="0.8"/>
<polygon points="397.8,379.6 403.6,376.4 403.6,382.8" fill="#CB970F" stroke="none" stroke-width="0.8"/>
<polygon points="363.6,390.8 369.3,387.6 369.3,394.0" fill="#CB970F" stroke="none" stroke-width="0.8"/>
<polygon points="362.1,386.4 367.8,383.2 367.8,389.6" fill="#CB970F" stroke="none" stroke-width="0.8"/>
<polygon points="284.9,451.4 290.7,448.2 290.7,454.6" fill="#CB970F" stroke="none" stroke-width="0.8"/>
<polygon points="307.6,430.0 313.3,426.8 313.3,433.2" fill="#CB970F" stroke="none" stroke-width="0.8"/>
<polygon points="382.6,382.9 388.4,379.7 388.4,386.1" fill="#CB970F" stroke="none" stroke-width="0.8"/>
<polygon points="394.2,380.4 399.9,377.2 399.9,383.6" fill="#CB970F" stroke="none" stroke-width="0.8"/>
<polygon points="328.5,398.6 334.3,395.4 334.3,401.8" fill="#CB970F" stroke="none" stroke-width="0.8"/>
<polygon points="392.1,377.7 397.9,374.5 397.9,380.9" fill="#CB970F" stroke="none" stroke-width="0.8"/>
<polygon points="325.7,403.1 331.5,399.9 331.5,406.3" fill="#CB970F" stroke="none" stroke-width="0.8"/>
<polygon points="343.8,391.5 349.6,388.3 349.6,394.7" fill="#CB970F" stroke="none" stroke-width="0.8"/>
<polygon points="311.4,411.4 317.2,408.2 317.2,414.6" fill="#CB970F" stroke="none" stroke-width="0.8"/>
<polygon points="381.0,384.4 386.8,381.2 386.8,387.6" fill="#CB970F" stroke="none" stroke-width="0.8"/>
<polygon points="331.6,401.8 337.4,398.6 337.4,405.0" fill="#CB970F" stroke="none" stroke-width="0.8"/>
<polygon points="398.0,378.7 403.8,375.5 403.8,381.9" fill="#CB970F" stroke="none" stroke-width="0.8"/>
<polygon points="369.3,382.4 375.1,379.2 375.1,385.6" fill="#CB970F" stroke="none" stroke-width="0.8"/>
<polygon points="339.7,389.9 345.5,386.7 345.5,393.1" fill="#CB970F" stroke="none" stroke-width="0.8"/>
<polygon points="331.2,407.2 336.9,404.0 336.9,410.4" fill="#CB970F" stroke="none" stroke-width="0.8"/>
<polygon points="293.1,445.8 298.9,442.6 298.9,449.0" fill="#CB970F" stroke="none" stroke-width="0.8"/>
<polygon points="338.2,391.6 343.9,388.4 343.9,394.8" fill="#CB970F" stroke="none" stroke-width="0.8"/>
<polygon points="359.5,386.8 365.3,383.6 365.3,390.0" fill="#CB970F" stroke="none" stroke-width="0.8"/>
<polygon points="335.5,395.7 341.3,392.5 341.3,398.9" fill="#CB970F" stroke="none" stroke-width="0.8"/>
<polygon points="379.2,383.7 384.9,380.5 384.9,386.9" fill="#CB970F" stroke="none" stroke-width="0.8"/>
<polygon points="353.7,387.0 359.4,383.8 359.4,390.2" fill="#CB970F" stroke="none" stroke-width="0.8"/>
<polygon points="398.0,379.2 403.8,376.0 403.8,382.4" fill="#CB970F" stroke="none" stroke-width="0.8"/>
<polygon points="284.5,456.7 290.2,453.5 290.2,459.9" fill="#CB970F" stroke="none" stroke-width="0.8"/>
<polygon points="347.3,387.5 353.1,384.3 353.1,390.7" fill="#CB970F" stroke="none" stroke-width="0.8"/>
<polygon points="384.9,382.1 390.6,378.9 390.6,385.3" fill="#CB970F" stroke="none" stroke-width="0.8"/>
<polygon points="391.8,379.5 397.5,376.3 397.5,382.7" fill="#CB970F" stroke="none" stroke-width="0.8"/>
<polygon points="379.4,380.6 385.2,377.4 385.2,383.8" fill="#CB970F" stroke="none" stroke-width="0.8"/>
<polygon points="364.4,383.4 370.1,380.2 370.1,386.6" fill="#CB970F" stroke="none" stroke-width="0.8"/>
<polygon points="343.9,394.6 349.7,391.4 349.7,397.8" fill="#CB970F" stroke="none" stroke-width="0.8"/>
<polygon points="373.6,385.2 379.4,382.0 379.4,388.4" fill="#CB970F" stroke="none" stroke-width="0.8"/>
<polygon points="379.7,382.6 385.4,379.4 385.4,385.8" fill="#CB970F" stroke="none" stroke-width="0.8"/>
<polygon points="382.2,380.3 388.0,377.1 388.0,383.5" fill="#CB970F" stroke="none" stroke-width="0.8"/>
<polygon points="362.7,383.9 368.5,380.7 368.5,387.1" fill="#CB970F" stroke="none" stroke-width="0.8"/>
<polygon points="385.6,379.2 391.3,376.0 391.3,382.4" fill="#CB970F" stroke="none" stroke-width="0.8"/>
<polygon points="287.7,482.4 293.5,479.2 293.5,485.6" fill="#CB970F" stroke="none" stroke-width="0.8"/>
<polygon points="373.3,385.7 379.1,382.5 379.1,388.9" fill="#CB970F" stroke="none" stroke-width="0.8"/>
<polygon points="393.8,379.8 399.5,376.6 399.5,383.0" fill="#CB970F" stroke="none" stroke-width="0.8"/>
<polygon points="383.4,383.2 389.2,380.0 389.2,386.4" fill="#CB970F" stroke="none" stroke-width="0.8"/>
<polygon points="371.0,382.3 376.8,379.1 376.8,385.5" fill="#CB970F" stroke="none" stroke-width="0.8"/>
<polygon points="392.9,380.1 398.7,376.9 398.7,383.3" fill="#CB970F" stroke="none" stroke-width="0.8"/>
<polygon points="354.3,389.6 360.0,386.4 360.0,392.8" fill="#CB970F" stroke="none" stroke-width="0.8"/>
<polygon points="335.1,397.3 340.9,394.1 340.9,400.5" fill="#CB970F" stroke="none" stroke-width="0.8"/>
<polygon points="400.2,376.4 405.9,373.2 405.9,379.6" fill="#CB970F" stroke="none" stroke-width="0.8"/>
<polygon points="328.7,398.6 334.4,395.4 334.4,401.8" fill="#CB970F" stroke="none" stroke-width="0.8"/>
<polygon points="399.4,378.9 405.2,375.7 405.2,382.1" fill="#CB970F" stroke="none" stroke-width="0.8"/>
<polygon points="391.4,378.3 397.1,375.1 397.1,381.5" fill="#CB970F" stroke="none" stroke-width="0.8"/>
<polygon points="395.1,381.0 400.9,377.8 400.9,384.2" fill="#CB970F" stroke="none" stroke-width="0.8"/>
<polygon points="397.0,376.4 402.7,373.2 402.7,379.6" fill="#CB970F" stroke="none" stroke-width="0.8"/>
<polygon points="316.8,409.9 322.5,406.7 322.5,413.1" fill="#CB970F" stroke="none" stroke-width="0.8"/>
<polygon points="292.1,450.8 297.8,447.6 297.8,454.0" fill="#CB970F" stroke="none" stroke-width="0.8"/>
<polygon points="379.2,381.4 385.0,378.2 385.0,384.6" fill="#CB970F" stroke="none" stroke-width="0.8"/>
<polygon points="392.6,380.5 398.3,377.3 398.3,383.7" fill="#CB970F" stroke="none" stroke-width="0.8"/>
<polygon points="293.7,440.5 299.4,437.3 299.4,443.7" fill="#CB970F" stroke="none" stroke-width="0.8"/>
<polygon points="285.7,477.9 291.4,474.7 291.4,481.1" fill="#CB970F" stroke="none" stroke-width="0.8"/>
<polygon points="314.3,409.6 320.1,406.4 320.1,412.8" fill="#CB970F" stroke="none" stroke-width="0.8"/>
<polygon points="347.4,388.9 353.2,385.7 353.2,392.1" fill="#CB970F" stroke="none" stroke-width="0.8"/>
<polygon points="375.2,381.9 380.9,378.7 380.9,385.1" fill="#CB970F" stroke="none" stroke-width="0.8"/>
<polygon points="386.0,379.1 391.7,375.9 391.7,382.3" fill="#CB970F" stroke="none" stroke-width="0.8"/>
<polygon points="325.5,406.3 331.2,403.1 331.2,409.5" fill="#CB970F" stroke="none" stroke-width="0.8"/>
<polygon points="371.9,384.4 377.6,381.2 377.6,387.6" fill="#CB970F" stroke="none" stroke-width="0.8"/>
<polygon points="385.3,379.6 391.1,376.4 391.1,382.8" fill="#CB970F" stroke="none" stroke-width="0.8"/>
<polygon points="332.1,404.7 337.9,401.5 337.9,407.9" fill="#CB970F" stroke="none" stroke-width="0.8"/>
<polygon points="382.4,380.9 388.1,377.7 388.1,384.1" fill="#CB970F" stroke="none" stroke-width="0.8"/>
<polygon points="328.5,408.8 334.3,405.6 334.3,412.0" fill="#CB970F" stroke="none" stroke-width="0.8"/>
<polygon points="285.0,479.0 290.7,475.8 290.7,482.2" fill="#CB970F" stroke="none" stroke-width="0.8"/>
<polygon points="326.5,407.9 332.2,404.7 332.2,411.1" fill="#CB970F" stroke="none" stroke-width="0.8"/>
<polygon points="291.1,468.1 296.9,464.9 296.9,471.3" fill="#CB970F" stroke="none" stroke-width="0.8"/>
<polygon points="339.0,400.4 344.8,397.2 344.8,403.6" fill="#CB970F" stroke="none" stroke-width="0.8"/>
<polygon points="311.1,418.9 316.9,415.7 316.9,422.1" fill="#CB970F" stroke="none" stroke-width="0.8"/>
<polygon points="391.2,378.0 397.0,374.8 397.0,381.2" fill="#CB970F" stroke="none" stroke-width="0.8"/>
<polygon points="346.5,396.2 352.3,393.0 352.3,399.4" fill="#CB970F" stroke="none" stroke-width="0.8"/>
<polygon points="321.2,404.5 326.9,401.3 326.9,407.7" fill="#CB970F" stroke="none" stroke-width="0.8"/>
<polygon points="343.9,392.4 349.7,389.2 349.7,395.6" fill="#CB970F" stroke="none" stroke-width="0.8"/>
<polygon points="382.0,381.2 387.8,378.0 387.8,384.4" fill="#CB970F" stroke="none" stroke-width="0.8"/>
<polygon points="393.1,381.4 398.8,378.2 398.8,384.6" fill="#CB970F" stroke="none" stroke-width="0.8"/>
<polygon points="331.7,406.3 337.4,403.1 337.4,409.5" fill="#CB970F" stroke="none" stroke-width="0.8"/>
<polygon points="358.4,387.7 364.1,384.5 364.1,390.9" fill="#CB970F" stroke="none" stroke-width="0.8"/>
<polygon points="324.9,412.3 330.6,409.1 330.6,415.5" fill="#CB970F" stroke="none" stroke-width="0.8"/>
<polygon points="288.8,428.0 294.6,424.8 294.6,431.2" fill="#CB970F" stroke="none" stroke-width="0.8"/>
<polygon points="270.8,477.3 276.6,474.1 276.6,480.5" fill="#CB970F" stroke="none" stroke-width="0.8"/>
<polygon points="272.1,487.9 277.9,484.7 277.9,491.1" fill="#CB970F" stroke="none" stroke-width="0.8"/>
<polygon points="278.8,485.2 284.6,482.0 284.6,488.4" fill="#CB970F" stroke="none" stroke-width="0.8"/>
<polygon points="282.1,492.6 287.9,489.4 287.9,495.8" fill="#CB970F" stroke="none" stroke-width="0.8"/>
<polygon points="280.8,477.3 286.6,474.1 286.6,480.5" fill="#CB970F" stroke="none" stroke-width="0.8"/>
<polygon points="282.1,470.6 287.9,467.4 287.9,473.8" fill="#CB970F" stroke="none" stroke-width="0.8"/>
<polygon points="281.5,463.3 287.3,460.1 287.3,466.5" fill="#CB970F" stroke="none" stroke-width="0.8"/>
<polygon points="396.5,378.0 402.3,374.8 402.3,381.2" fill="#CB970F" stroke="none" stroke-width="0.8"/>
<polygon points="401.5,379.0 407.3,375.8 407.3,382.2" fill="#CB970F" stroke="none" stroke-width="0.8"/>
</g>
<g>
<polygon points="356.2,406.0 350.6,402.9 350.6,409.1" fill="#0A0AF0" stroke="none" stroke-width="0.8"/>
<polygon points="321.9,445.6 316.3,442.5 316.3,448.7" fill="#0A0AF0" stroke="none" stroke-width="0.8"/>
<polygon points="399.0,381.8 393.4,378.7 393.4,384.9" fill="#0A0AF0" stroke="none" stroke-width="0.8"/>
<polygon points="379.3,388.8 373.7,385.7 373.7,391.9" fill="#0A0AF0" stroke="none" stroke-width="0.8"/>
<polygon points="350.0,411.7 344.5,408.6 344.5,414.8" fill="#0A0AF0" stroke="none" stroke-width="0.8"/>
<polygon points="316.7,445.8 311.1,442.7 311.1,448.9" fill="#0A0AF0" stroke="none" stroke-width="0.8"/>
<polygon points="351.7,408.2 346.1,405.1 346.1,411.3" fill="#0A0AF0" stroke="none" stroke-width="0.8"/>
<polygon points="401.9,379.8 396.3,376.7 396.3,382.9" fill="#0A0AF0" stroke="none" stroke-width="0.8"/>
<polygon points="330.6,430.7 325.0,427.6 325.0,433.8" fill="#0A0AF0" stroke="none" stroke-width="0.8"/>
<polygon points="366.6,398.4 361.0,395.3 361.0,401.5" fill="#0A0AF0" stroke="none" stroke-width="0.8"/>
<polygon points="351.4,408.4 345.8,405.3 345.8,411.5" fill="#0A0AF0" stroke="none" stroke-width="0.8"/>
<polygon points="388.5,386.0 382.9,382.9 382.9,389.1" fill="#0A0AF0" stroke="none" stroke-width="0.8"/>
<polygon points="402.6,381.3 397.0,378.2 397.0,384.4" fill="#0A0AF0" stroke="none" stroke-width="0.8"/>
<polygon points="342.2,420.9 336.6,417.8 336.6,424.0" fill="#0A0AF0" stroke="none" stroke-width="0.8"/>
<polygon points="396.1,381.2 390.6,378.1 390.6,384.3" fill="#0A0AF0" stroke="none" stroke-width="0.8"/>
<polygon points="300.2,480.6 294.7,477.5 294.7,483.7" fill="#0A0AF0" stroke="none" stroke-width="0.8"/>
<polygon points="344.9,409.7 339.3,406.6 339.3,412.8" fill="#0A0AF0" stroke="none" stroke-width="0.8"/>
<polygon points="335.3,414.0 329.8,410.9 329.8,417.1" fill="#0A0AF0" stroke="none" stroke-width="0.8"/>
<polygon points="320.8,437.5 315.2,434.4 315.2,440.6" fill="#0A0AF0" stroke="none" stroke-width="0.8"/>
<polygon points="329.0,428.7 323.4,425.6 323.4,431.8" fill="#0A0AF0" stroke="none" stroke-width="0.8"/>
<polygon points="349.8,406.5 344.2,403.4 344.2,409.6" fill="#0A0AF0" stroke="none" stroke-width="0.8"/>
<polygon points="359.7,398.4 354.2,395.3 354.2,401.5" fill="#0A0AF0" stroke="none" stroke-width="0.8"/>
<polygon points="305.7,483.3 300.1,480.2 300.1,486.4" fill="#0A0AF0" stroke="none" stroke-width="0.8"/>
<polygon points="401.0,381.6 395.4,378.5 395.4,384.7" fill="#0A0AF0" stroke="none" stroke-width="0.8"/>
<polygon points="343.8,416.3 338.3,413.2 338.3,419.4" fill="#0A0AF0" stroke="none" stroke-width="0.8"/>
<polygon points="371.0,389.2 365.4,386.1 365.4,392.3" fill="#0A0AF0" stroke="none" stroke-width="0.8"/>
<polygon points="348.5,410.5 342.9,407.4 342.9,413.6" fill="#0A0AF0" stroke="none" stroke-width="0.8"/>
<polygon points="344.7,418.8 339.1,415.7 339.1,421.9" fill="#0A0AF0" stroke="none" stroke-width="0.8"/>
<polygon points="294.9,444.6 289.4,441.5 289.4,447.7" fill="#0A0AF0" stroke="none" stroke-width="0.8"/>
<polygon points="294.9,450.6 289.4,447.5 289.4,453.7" fill="#0A0AF0" stroke="none" stroke-width="0.8"/>
<polygon points="302.3,455.3 296.8,452.2 296.8,458.4" fill="#0A0AF0" stroke="none" stroke-width="0.8"/>
<polygon points="305.6,436.0 300.1,432.9 300.1,439.1" fill="#0A0AF0" stroke="none" stroke-width="0.8"/>
<polygon points="314.3,440.6 308.8,437.5 308.8,443.7" fill="#0A0AF0" stroke="none" stroke-width="0.8"/>
<polygon points="311.6,445.3 306.1,442.2 306.1,448.4" fill="#0A0AF0" stroke="none" stroke-width="0.8"/>
<polygon points="315.6,450.0 310.1,446.9 310.1,453.1" fill="#0A0AF0" stroke="none" stroke-width="0.8"/>
<polygon points="312.9,459.3 307.4,456.2 307.4,462.4" fill="#0A0AF0" stroke="none" stroke-width="0.8"/>
<polygon points="313.6,465.3 308.1,462.2 308.1,468.4" fill="#0A0AF0" stroke="none" stroke-width="0.8"/>
<polygon points="324.2,441.3 318.7,438.2 318.7,444.4" fill="#0A0AF0" stroke="none" stroke-width="0.8"/>
<polygon points="308.3,494.6 302.8,491.5 302.8,497.7" fill="#0A0AF0" stroke="none" stroke-width="0.8"/>
<polygon points="435.1,380.4 429.6,377.3 429.6,383.5" fill="#0A0AF0" stroke="none" stroke-width="0.8"/>
<polygon points="452.3,379.5 446.8,376.4 446.8,382.6" fill="#0A0AF0" stroke="none" stroke-width="0.8"/>
<polygon points="389.6,400.5 384.1,397.4 384.1,403.6" fill="#0A0AF0" stroke="none" stroke-width="0.8"/>
<polygon points="383.3,390.0 377.8,386.9 377.8,393.1" fill="#0A0AF0" stroke="none" stroke-width="0.8"/>
<polygon points="379.3,394.0 373.8,390.9 373.8,397.1" fill="#0A0AF0" stroke="none" stroke-width="0.8"/>
<polygon points="237.5,524.4 232.0,521.3 232.0,527.5" fill="#0A0AF0" stroke="none" stroke-width="0.8"/>
<polygon points="240.9,524.4 235.4,521.3 235.4,527.5" fill="#0A0AF0" stroke="none" stroke-width="0.8"/>
<polygon points="244.8,524.0 239.3,520.9 239.3,527.1" fill="#0A0AF0" stroke="none" stroke-width="0.8"/>
<polygon points="245.8,523.9 240.3,520.8 240.3,527.0" fill="#0A0AF0" stroke="none" stroke-width="0.8"/>
<polygon points="246.8,524.2 241.3,521.1 241.3,527.3" fill="#0A0AF0" stroke="none" stroke-width="0.8"/>
<polygon points="247.8,524.9 242.3,521.8 242.3,528.0" fill="#0A0AF0" stroke="none" stroke-width="0.8"/>
<polygon points="248.8,524.0 243.3,520.9 243.3,527.1" fill="#0A0AF0" stroke="none" stroke-width="0.8"/>
<polygon points="249.8,524.4 244.3,521.3 244.3,527.5" fill="#0A0AF0" stroke="none" stroke-width="0.8"/>
<polygon points="250.8,524.1 245.3,521.0 245.3,527.2" fill="#0A0AF0" stroke="none" stroke-width="0.8"/>
<polygon points="251.8,523.9 246.3,520.8 246.3,527.0" fill="#0A0AF0" stroke="none" stroke-width="0.8"/>
<polygon points="252.8,524.7 247.3,521.6 247.3,527.8" fill="#0A0AF0" stroke="none" stroke-width="0.8"/>
<polygon points="253.8,524.0 248.3,520.9 248.3,527.1" fill="#0A0AF0" stroke="none" stroke-width="0.8"/>
<polygon points="254.8,524.0 249.3,520.9 249.3,527.1" fill="#0A0AF0" stroke="none" stroke-width="0.8"/>
<polygon points="255.8,524.7 250.3,521.6 250.3,527.8" fill="#0A0AF0" stroke="none" stroke-width="0.8"/>
<polygon points="256.8,524.1 251.3,521.0 251.3,527.2" fill="#0A0AF0" stroke="none" stroke-width="0.8"/>
<polygon points="257.8,524.1 252.3,521.0 252.3,527.2" fill="#0A0AF0" stroke="none" stroke-width="0.8"/>
<polygon points="258.8,524.8 253.3,521.7 253.3,527.9" fill="#0A0AF0" stroke="none" stroke-width="0.8"/>
<polygon points="259.8,524.1 254.3,521.0 254.3,527.2" fill="#0A0AF0" stroke="none" stroke-width="0.8"/>
<polygon points="260.8,524.7 255.3,521.6 255.3,527.8" fill="#0A0AF0" stroke="none" stroke-width="0.8"/>
<polygon points="261.8,524.2 256.3,521.1 256.3,527.3" fill="#0A0AF0" stroke="none" stroke-width="0.8"/>
<polygon points="262.8,524.5 257.3,521.4 257.3,527.6" fill="#0A0AF0" stroke="none" stroke-width="0.8"/>
<polygon points="263.8,524.2 258.3,521.1 258.3,527.3" fill="#0A0AF0" stroke="none" stroke-width="0.8"/>
<polygon points="264.8,524.2 259.3,521.1 259.3,527.3" fill="#0A0AF0" stroke="none" stroke-width="0.8"/>
<polygon points="265.8,524.8 260.3,521.7 260.3,527.9" fill="#0A0AF0" stroke="none" stroke-width="0.8"/>
<polygon points="266.8,524.8 261.3,521.7 261.3,527.9" fill="#0A0AF0" stroke="none" stroke-width="0.8"/>
<polygon points="267.8,524.1 262.3,521.0 262.3,527.2" fill="#0A0AF0" stroke="none" stroke-width="0.8"/>
<polygon points="268.8,524.6 263.3,521.5 263.3,527.7" fill="#0A0AF0" stroke="none" stroke-width="0.8"/>
<polygon points="269.8,524.0 264.3,520.9 264.3,527.1" fill="#0A0AF0" stroke="none" stroke-width="0.8"/>
<polygon points="270.8,524.2 265.3,521.1 265.3,527.3" fill="#0A0AF0" stroke="none" stroke-width="0.8"/>
<polygon points="271.8,524.0 266.3,520.9 266.3,527.1" fill="#0A0AF0" stroke="none" stroke-width="0.8"/>
<polygon points="272.8,524.5 267.3,521.4 267.3,527.6" fill="#0A0AF0" stroke="none" stroke-width="0.8"/>
<polygon points="273.8,524.6 268.3,521.5 268.3,527.7" fill="#0A0AF0" stroke="none" stroke-width="0.8"/>
<polygon points="274.8,524.6 269.3,521.5 269.3,527.7" fill="#0A0AF0" stroke="none" stroke-width="0.8"/>
<polygon points="275.8,524.7 270.3,521.6 270.3,527.8" fill="#0A0AF0" stroke="none" stroke-width="0.8"/>
<polygon points="276.8,524.3 271.3,521.2 271.3,527.4" fill="#0A0AF0" stroke="none" stroke-width="0.8"/>
<polygon points="277.8,524.1 272.3,521.0 272.3,527.2" fill="#0A0AF0" stroke="none" stroke-width="0.8"/>
<polygon points="278.8,523.9 273.3,520.8 273.3,527.0" fill="#0A0AF0" stroke="none" stroke-width="0.8"/>
<polygon points="279.8,524.3 274.3,521.2 274.3,527.4" fill="#0A0AF0" stroke="none" stroke-width="0.8"/>
<polygon points="280.8,524.8 275.3,521.7 275.3,527.9" fill="#0A0AF0" stroke="none" stroke-width="0.8"/>
<polygon points="281.8,524.3 276.3,521.2 276.3,527.4" fill="#0A0AF0" stroke="none" stroke-width="0.8"/>
<polygon points="282.8,524.5 277.3,521.4 277.3,527.6" fill="#0A0AF0" stroke="none" stroke-width="0.8"/>
<polygon points="283.8,524.8 278.3,521.7 278.3,527.9" fill="#0A0AF0" stroke="none" stroke-width="0.8"/>
<polygon points="284.8,524.8 279.3,521.7 279.3,527.9" fill="#0A0AF0" stroke="none" stroke-width="0.8"/>
<polygon points="285.8,524.6 280.3,521.5 280.3,527.7" fill="#0A0AF0" stroke="none" stroke-width="0.8"/>
<polygon points="286.8,524.5 281.3,521.4 281.3,527.6" fill="#0A0AF0" stroke="none" stroke-width="0.8"/>
<polygon points="287.8,524.1 282.3,521.0 282.3,527.2" fill="#0A0AF0" stroke="none" stroke-width="0.8"/>
<polygon points="288.8,524.6 283.3,521.5 283.3,527.7" fill="#0A0AF0" stroke="none" stroke-width="0.8"/>
<polygon points="289.8,524.3 284.3,521.2 284.3,527.4" fill="#0A0AF0" stroke="none" stroke-width="0.8"/>
<polygon points="290.8,524.6 285.3,521.5 285.3,527.7" fill="#0A0AF0" stroke="none" stroke-width="0.8"/>
<polygon points="291.8,524.1 286.3,521.0 286.3,527.2" fill="#0A0AF0" stroke="none" stroke-width="0.8"/>
<polygon points="292.8,524.8 287.3,521.7 287.3,527.9" fill="#0A0AF0" stroke="none" stroke-width="0.8"/>
<polygon points="293.8,524.1 288.3,521.0 288.3,527.2" fill="#0A0AF0" stroke="none" stroke-width="0.8"/>
<polygon points="294.8,524.7 289.3,521.6 289.3,527.8" fill="#0A0AF0" stroke="none" stroke-width="0.8"/>
<polygon points="295.8,524.8 290.3,521.7 290.3,527.9" fill="#0A0AF0" stroke="none" stroke-width="0.8"/>
<polygon points="296.8,524.1 291.3,521.0 291.3,527.2" fill="#0A0AF0" stroke="none" stroke-width="0.8"/>
<polygon points="297.8,524.8 292.3,521.7 292.3,527.9" fill="#0A0AF0" stroke="none" stroke-width="0.8"/>
<polygon points="298.8,524.5 293.3,521.4 293.3,527.6" fill="#0A0AF0" stroke="none" stroke-width="0.8"/>
<polygon points="299.8,524.5 294.3,521.4 294.3,527.6" fill="#0A0AF0" stroke="none" stroke-width="0.8"/>
<polygon points="300.8,524.2 295.3,521.1 295.3,527.3" fill="#0A0AF0" stroke="none" stroke-width="0.8"/>
<polygon points="301.8,524.2 296.3,521.1 296.3,527.3" fill="#0A0AF0" stroke="none" stroke-width="0.8"/>
<polygon points="302.8,524.1 297.3,521.0 297.3,527.2" fill="#0A0AF0" stroke="none" stroke-width="0.8"/>
<polygon points="303.8,524.3 298.3,521.2 298.3,527.4" fill="#0A0AF0" stroke="none" stroke-width="0.8"/>
<polygon points="304.8,524.5 299.3,521.4 299.3,527.6" fill="#0A0AF0" stroke="none" stroke-width="0.8"/>
<polygon points="305.8,524.6 300.3,521.5 300.3,527.7" fill="#0A0AF0" stroke="none" stroke-width="0.8"/>
<polygon points="306.8,524.6 301.3,521.5 301.3,527.7" fill="#0A0AF0" stroke="none" stroke-width="0.8"/>
<polygon points="307.8,524.2 302.3,521.1 302.3,527.3" fill="#0A0AF0" stroke="none" stroke-width="0.8"/>
<polygon points="308.8,524.2 303.3,521.1 303.3,527.3" fill="#0A0AF0" stroke="none" stroke-width="0.8"/>
<polygon points="309.8,524.7 304.3,521.6 304.3,527.8" fill="#0A0AF0" stroke="none" stroke-width="0.8"/>
<polygon points="310.8,524.9 305.3,521.8 305.3,528.0" fill="#0A0AF0" stroke="none" stroke-width="0.8"/>
<polygon points="311.8,524.1 306.3,521.0 306.3,527.2" fill="#0A0AF0" stroke="none" stroke-width="0.8"/>
<polygon points="312.8,524.3 307.3,521.2 307.3,527.4" fill="#0A0AF0" stroke="none" stroke-width="0.8"/>
<polygon points="313.8,524.2 308.3,521.1 308.3,527.3" fill="#0A0AF0" stroke="none" stroke-width="0.8"/>
<polygon points="314.8,524.9 309.3,521.8 309.3,528.0" fill="#0A0AF0" stroke="none" stroke-width="0.8"/>
<polygon points="315.8,523.9 310.3,520.8 310.3,527.0" fill="#0A0AF0" stroke="none" stroke-width="0.8"/>
</g>
<path d="M330.0 524.5 L331.3 524.5 L332.6 524.5 L333.9 524.5 L335.2 524.4 L336.6 524.4 L337.9 524.4 L339.2 524.3 L340.5 524.3 L341.8 524.2 L343.1 524.1 L344.4 524.0 L345.7 524.0 L347.0 523.8 L348.3 523.5 L349.7 522.9 L351.0 522.2 L352.3 521.3 L353.6 520.3 L354.9 519.2 L356.2 518.1 L357.5 516.6 L358.8 514.9 L360.1 512.9 L361.4 510.7 L362.8 508.1 L364.1 505.1 L365.4 501.5 L366.7 497.3 L368.0 491.9 L369.3 486.1 L370.6 480.1 L371.9 474.0 L373.2 468.3 L374.5 462.8 L375.9 457.8 L377.2 453.5 L378.5 449.3 L379.8 444.9 L381.1 440.2 L382.4 435.5 L383.7 431.2 L385.0 427.0 L386.3 423.1 L387.6 419.4 L389.0 415.9 L390.3 412.5 L391.6 409.6 L392.9 407.0 L394.2 404.7 L395.5 402.6 L396.8 400.7 L398.1 399.1 L399.4 397.5 L400.7 396.0 L402.1 394.6 L403.4 393.5 L404.7 392.7 L406.0 392.1 L407.3 391.5 L408.6 391.0 L409.9 390.6 L411.2 390.2 L412.5 389.8 L413.8 389.5 L415.2 389.3 L416.5 389.1 L417.8 389.0 L419.1 388.9 L420.4 388.8 L421.7 388.7 L423.0 388.6 L424.3 388.6 L425.6 388.5 L426.9 388.4 L428.3 388.4 L429.6 388.3 L430.9 388.3 L432.2 388.3 L433.5 388.3" fill="none" stroke="#777" stroke-width="1.3"/>
<path d="M284.4 518.6 L286.6 514.3 L288.8 510.0 L291.0 505.8 L293.1 501.7 L295.3 497.6 L297.5 493.6 L299.7 489.7 L301.9 485.7 L304.1 481.7 L306.3 477.6 L308.5 473.5 L310.6 469.5 L312.8 465.4 L315.0 461.2 L317.2 457.1 L319.4 453.0 L321.6 449.1 L323.8 445.4 L326.0 441.9 L328.1 438.5 L330.3 435.0 L332.5 431.4 L334.7 427.9 L336.9 424.7 L339.1 421.9 L341.3 419.4 L343.5 417.0 L345.6 414.7 L347.8 412.6 L350.0 410.6 L352.2 408.7 L354.4 406.8 L356.6 405.1 L358.8 403.3 L361.0 401.7 L363.1 400.1 L365.3 398.5 L367.5 396.9 L369.7 395.2 L371.9 393.6 L374.1 392.0 L376.3 390.7 L378.5 389.5 L380.6 388.4 L382.8 387.4 L385.0 386.5 L387.2 385.6 L389.4 384.8 L391.6 384.0 L393.8 383.3 L396.0 382.7 L398.1 382.2 L400.3 381.7 L402.5 381.2 L404.7 380.8 L406.9 380.4 L409.1 380.0 L411.3 379.7 L413.5 379.4 L415.6 379.0 L417.8 378.7 L420.0 378.4 L422.2 378.1 L424.4 377.9 L426.6 377.7 L428.8 377.5 L431.0 377.3 L433.1 377.2 L435.3 377.1 L437.5 377.0 L439.7 376.9 L441.9 376.8 L444.1 376.7 L446.3 376.6 L448.5 376.5 L450.6 376.5 L452.8 376.4 L455.0 376.4 L457.2 376.4" fill="none" stroke="#F01515" stroke-width="1.7"/>
<path d="M271.0 487.9 L272.7 484.7 L274.4 481.6 L276.1 478.5 L277.8 475.5 L279.5 472.5 L281.2 469.6 L282.9 466.8 L284.6 464.1 L286.3 461.5 L288.0 458.9 L289.7 456.4 L291.4 454.0 L293.1 451.5 L294.8 449.0 L296.5 446.4 L298.2 443.8 L299.9 441.1 L301.6 438.2 L303.3 435.1 L305.1 432.0 L306.8 429.2 L308.5 426.6 L310.2 424.2 L311.9 422.0 L313.6 419.9 L315.3 417.8 L317.0 415.6 L318.7 413.4 L320.4 411.0 L322.1 408.6 L323.8 406.1 L325.5 403.8 L327.2 401.6 L328.9 399.7 L330.6 397.8 L332.3 396.0 L334.0 394.3 L335.7 392.8 L337.4 391.4 L339.1 390.1 L340.8 389.0 L342.5 387.9 L344.2 386.9 L345.9 386.0 L347.6 385.1 L349.3 384.2 L351.0 383.5 L352.7 382.7 L354.4 382.0 L356.1 381.3 L357.8 380.7 L359.5 380.0 L361.2 379.4 L362.9 378.8 L364.6 378.3 L366.3 377.8 L368.0 377.4 L369.7 377.0 L371.4 376.6 L373.2 376.3 L374.9 376.0 L376.6 375.7 L378.3 375.5 L380.0 375.2 L381.7 375.0 L383.4 374.7 L385.1 374.5 L386.8 374.2 L388.5 373.9 L390.2 373.6 L391.9 373.3 L393.6 373.0 L395.3 372.7 L397.0 372.5 L398.7 372.2 L400.4 371.9 L402.1 371.6 L403.8 371.3 L405.5 371.0" fill="none" stroke="#F01515" stroke-width="1.7" stroke-dasharray="7.5 8"/>
<path d="M326.0 461.0 L327.0 459.9 L328.0 458.6 L329.0 457.3 L330.0 455.8 L331.0 454.2 L332.0 452.4 L333.0 450.4 L334.0 448.5 L335.0 446.5 L336.0 444.7 L337.0 443.0 L338.0 441.4 L339.0 439.9 L340.0 438.4 L341.0 437.0 L342.0 435.6 L343.0 434.2 L344.0 432.8 L345.0 431.5 L346.0 430.1 L347.0 428.8 L348.0 427.5 L349.0 426.2 L350.0 424.8 L351.0 423.5 L352.0 422.2 L353.0 420.9 L354.0 419.6 L355.0 418.4 L356.0 417.2 L357.0 416.2 L358.0 415.2 L359.0 414.3 L360.0 413.5 L361.0 412.8 L362.0 412.1 L363.0 411.4 L364.0 410.7 L365.0 410.1 L366.0 409.4 L367.0 408.7 L368.0 408.0 L369.0 407.3 L370.0 406.6 L371.0 405.9 L372.0 405.2 L373.0 404.5 L374.0 403.8 L375.0 403.1 L376.0 402.4 L377.0 401.7 L378.0 401.0 L379.0 400.4 L380.0 399.7 L381.0 399.1 L382.0 398.5 L383.0 397.9 L384.0 397.3 L385.0 396.7 L386.0 396.1 L387.0 395.5 L388.0 394.9 L389.0 394.4 L390.0 393.8 L391.0 393.3 L392.0 392.7 L393.0 392.2 L394.0 391.7 L395.0 391.2 L396.0 390.7 L397.0 390.3 L398.0 389.9 L399.0 389.5 L400.0 389.1 L401.0 388.7 L402.0 388.4 L403.0 388.0 L404.0 387.7 L405.0 387.4" fill="none" stroke="#F01515" stroke-width="1.7" stroke-dasharray="7.5 8"/>
<text x="225.1" y="385.2" font-size="10.9" text-anchor="start" fill="#FF2626" color="#FF2626" font-weight="normal" >Stage II:</text>
<text x="225.1" y="399.2" font-size="10.9" text-anchor="start" fill="#FF2626" color="#FF2626" font-weight="normal" >1-264 h at 50°C</text>
<line x1="284.50" y1="418.50" x2="292.40" y2="432.60" stroke="#F52222" stroke-width="1" />
<polygon points="278.6,406.3 279.6,420 288.2,415.1" fill="#F51010"/>
<text x="278.8" y="550.8" font-size="11" text-anchor="start" fill="#2424F6" color="#2424F6" font-weight="normal" >Stage III: 648 h at 50°C</text>
<line x1="263.50" y1="531.00" x2="269.00" y2="536.50" stroke="#2020EE" stroke-width="1" />
<polygon points="276.3,546 264.8,539.8 271.8,534.1" fill="#1010EE"/>
<text x="399.8" y="427.1" font-size="9.7" text-anchor="start" fill="#111" color="#111" font-weight="normal" >Stage I: Untreated</text>
<line x1="382.00" y1="442.50" x2="393.00" y2="437.00" stroke="#111" stroke-width="1" />
<polygon points="401.6,430.4 389,434.3 394.5,441.2" fill="#000"/>
<text x="424.0" y="368.4" font-size="8" text-anchor="start" fill="#111" color="#111" font-weight="normal" >b</text>
<text x="428.3" y="371.5" font-size="13" text-anchor="start" fill="#111" color="#111" font-weight="normal" >2nd curve</text>
<text x="417.0" y="395.6" font-size="8" text-anchor="start" fill="#111" color="#111" font-weight="normal" >a</text>
<text x="421.8" y="399.5" font-size="13" text-anchor="start" fill="#111" color="#111" font-weight="normal" >1st curve</text>
<text x="429.7" y="457.0" font-size="11" text-anchor="start" fill="#111" color="#111" font-weight="normal" >Untreated</text>
<text x="429.7" y="471.3" font-size="11" text-anchor="start" fill="#111" color="#111" font-weight="normal" >50°C 1 h</text>
<text x="429.7" y="485.4" font-size="11" text-anchor="start" fill="#111" color="#111" font-weight="normal" >50°C 7 h</text>
<text x="429.7" y="499.6" font-size="11" text-anchor="start" fill="#111" color="#111" font-weight="normal" >50°C 48 h</text>
<text x="429.7" y="513.8" font-size="11" text-anchor="start" fill="#111" color="#111" font-weight="normal" >50°C 144 h</text>
<text x="429.7" y="528.0" font-size="11" text-anchor="start" fill="#111" color="#111" font-weight="normal" >50°C 264 h</text>
<text x="429.7" y="542.2" font-size="11" text-anchor="start" fill="#111" color="#111" font-weight="normal" >50°C 648 h</text>
<rect x="411.0" y="450.8" width="4.8" height="4.8" fill="#4a4a4a" stroke="none" stroke-width="0.8"/>
<circle cx="413.4" cy="467.5" r="2.6" fill="#EE3B3B" stroke="none" stroke-width="0.8"/>
<polygon points="413.4,478.3 416.5,483.8 410.3,483.8" fill="#10F0F0" stroke="none" stroke-width="0.8"/>
<polygon points="413.4,499.1 416.5,493.6 410.3,493.6" fill="#2DA86E" stroke="none" stroke-width="0.8"/>
<polygon points="413.4,506.5 416.9,510.0 413.4,513.5 409.9,510.0" fill="#AA78E6"/>
<polygon points="409.9,524.2 415.7,521.0 415.7,527.4" fill="#CB970F" stroke="none" stroke-width="0.8"/>
<polygon points="416.7,538.4 411.2,535.3 411.2,541.5" fill="#0A0AF0" stroke="none" stroke-width="0.8"/>
</svg></body></html>
